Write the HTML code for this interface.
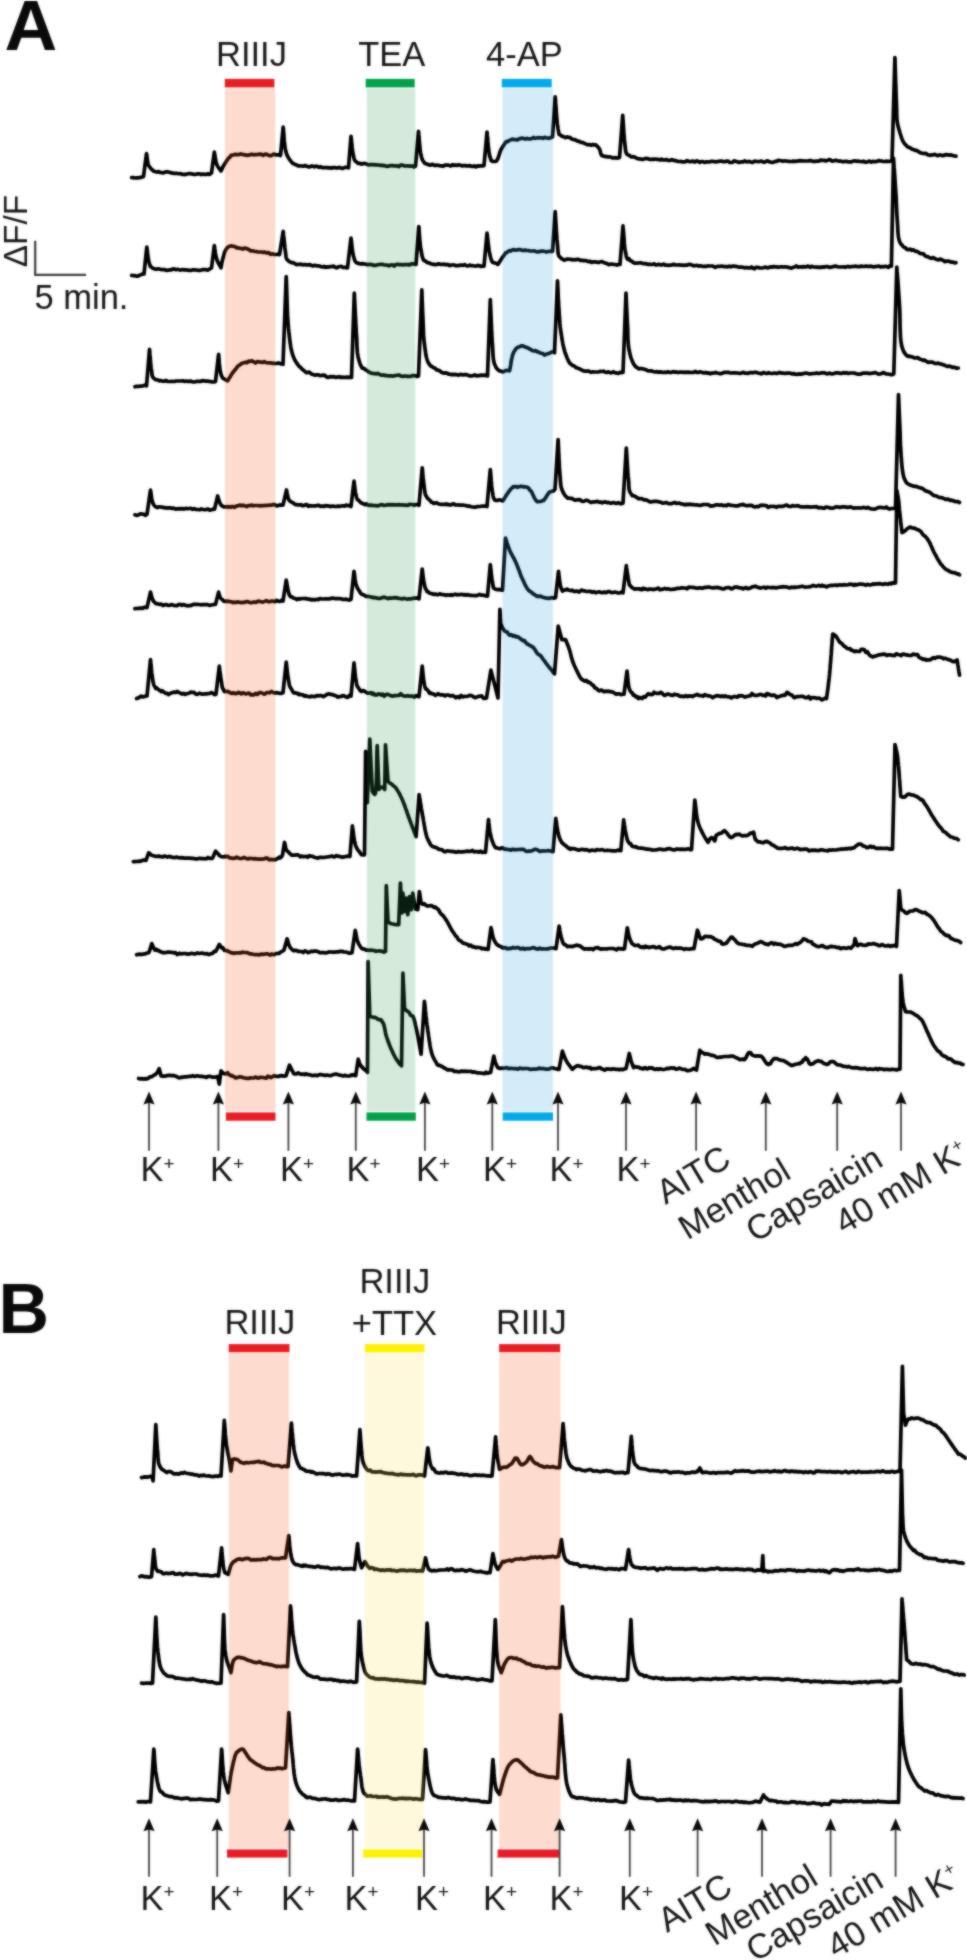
<!DOCTYPE html>
<html><head><meta charset="utf-8"><title>Figure</title>
<style>
html,body{margin:0;padding:0;background:#fff;}
body{width:967px;height:1960px;overflow:hidden;font-family:"Liberation Sans", sans-serif;}
svg{display:block;}
</style></head><body>
<svg width="967" height="1960" viewBox="0 0 967 1960" font-family='"Liberation Sans", sans-serif'><defs><filter id="soft" filterUnits="userSpaceOnUse" x="0" y="0" width="967" height="1960" color-interpolation-filters="sRGB"><feGaussianBlur in="SourceGraphic" stdDeviation="1" result="b"/><feComposite in="SourceGraphic" in2="b" operator="arithmetic" k1="0" k2="0.40" k3="0.60" k4="0"/></filter></defs><rect width="967" height="1960" fill="#fff"/><g filter="url(#soft)"><rect x="224.8" y="78.9" width="49.6" height="8.5" fill="#ea1c24"/>
<rect x="225.9" y="1112.4" width="49.6" height="8.3" fill="#ea1c24"/>
<rect x="365.7" y="78.9" width="49.0" height="8.5" fill="#00a14b"/>
<rect x="366.5" y="1112.4" width="49.3" height="8.3" fill="#00a14b"/>
<rect x="501.8" y="78.9" width="49.9" height="8.5" fill="#00aaec"/>
<rect x="502.7" y="1112.4" width="50.3" height="8.3" fill="#00aaec"/>
<rect x="228.7" y="1344.1" width="60.8" height="8" fill="#ea1c24"/>
<rect x="227.0" y="1849.4" width="60.4" height="8.2" fill="#ea1c24"/>
<rect x="365.0" y="1344.1" width="59.6" height="8" fill="#fff100"/>
<rect x="363.2" y="1849.4" width="59.0" height="8.2" fill="#fff100"/>
<rect x="499.1" y="1344.1" width="61.1" height="8" fill="#ea1c24"/>
<rect x="497.6" y="1849.4" width="61.4" height="8.2" fill="#ea1c24"/>
<path d="M131.6 177.7 L133.3 177.6 L135.2 178.0 L137.0 177.9 L138.8 177.8 L140.3 177.4 L141.5 177.4 L143.5 176.5 L146.5 153.5 L146.8 155.1 L147.0 156.8 L147.2 158.5 L147.4 160.2 L147.7 161.8 L148.0 163.4 L148.4 164.8 L149.0 166.0 L149.9 167.3 L150.9 168.7 L152.0 169.7 L153.3 170.9 L154.8 171.4 L156.0 171.8 L157.3 172.1 L158.7 171.5 L160.2 172.4 L161.8 172.7 L163.4 172.9 L165.0 172.1 L166.7 171.7 L168.4 172.0 L170.0 172.4 L171.4 172.9 L172.9 173.1 L174.4 173.5 L176.0 173.2 L177.5 173.5 L179.1 173.8 L180.6 173.5 L182.2 174.4 L183.8 174.3 L185.3 174.6 L186.9 174.0 L188.5 173.7 L190.0 173.7 L191.6 173.9 L193.2 174.3 L194.9 174.3 L196.5 174.1 L198.1 173.8 L199.7 173.8 L201.3 174.6 L202.9 174.1 L204.6 174.3 L206.2 174.5 L207.8 173.8 L209.4 174.4 L211.5 173.0 L214.3 152.2 L214.6 153.8 L214.9 155.5 L215.2 157.2 L215.5 158.9 L215.8 160.6 L216.1 162.2 L216.5 163.7 L217.0 165.0 L217.9 166.7 L218.9 168.2 L220.0 169.6 L221.0 171.0 L221.8 169.4 L222.5 167.8 L223.3 166.1 L224.3 164.5 L225.1 163.3 L225.9 162.0 L226.7 160.6 L227.7 159.3 L228.7 157.9 L229.7 157.5 L230.9 155.6 L232.3 155.1 L233.8 154.8 L235.4 154.4 L237.1 154.7 L238.9 154.6 L240.8 153.9 L242.2 154.5 L243.6 154.7 L245.1 154.9 L246.7 155.3 L248.3 155.1 L250.0 154.9 L251.6 154.2 L253.3 154.8 L255.0 154.6 L256.7 154.6 L258.4 154.3 L260.0 154.2 L261.6 154.4 L263.1 155.3 L264.7 154.4 L266.3 154.2 L267.8 154.8 L269.4 155.6 L271.0 155.7 L272.6 154.7 L274.2 154.0 L275.8 154.9 L277.3 154.8 L278.9 154.7 L280.5 155.5 L283.2 127.0 L283.3 128.6 L283.5 130.2 L283.6 131.8 L283.7 133.5 L283.9 135.2 L284.0 136.9 L284.1 138.5 L284.2 140.2 L284.4 141.8 L284.5 143.3 L284.7 144.8 L284.9 146.3 L285.1 147.6 L285.3 148.9 L285.5 150.0 L286.0 152.1 L286.5 153.8 L287.2 155.4 L288.0 157.0 L288.9 158.4 L289.9 159.9 L291.0 161.3 L292.3 163.0 L293.8 163.8 L295.1 164.4 L296.5 164.9 L298.1 165.8 L299.7 165.9 L301.5 166.0 L303.3 166.2 L305.1 165.5 L307.0 166.4 L308.4 166.8 L309.8 166.9 L311.2 166.0 L312.7 166.1 L314.3 166.9 L315.9 166.1 L317.4 166.5 L319.1 167.3 L320.7 166.7 L322.3 167.7 L323.9 167.7 L325.5 167.5 L327.0 167.6 L328.5 167.8 L330.0 167.7 L331.6 168.2 L333.2 167.6 L334.8 167.5 L336.3 168.0 L337.8 167.9 L339.4 167.4 L340.9 168.0 L342.4 168.5 L343.9 167.9 L345.4 167.3 L347.0 167.5 L348.5 167.8 L351.0 136.3 L351.2 137.8 L351.4 139.5 L351.5 141.1 L351.7 142.8 L351.9 144.4 L352.1 146.1 L352.2 147.7 L352.4 149.3 L352.6 150.9 L352.8 152.3 L353.0 153.7 L353.3 154.9 L353.5 156.0 L354.0 158.2 L354.6 160.1 L355.5 161.3 L356.8 162.2 L358.3 163.5 L360.0 163.3 L361.5 164.2 L363.0 163.5 L364.6 163.4 L366.6 164.0 L367.7 164.6 L369.0 164.8 L370.3 164.7 L371.8 164.7 L373.3 164.7 L374.9 164.9 L376.5 164.8 L378.2 165.0 L379.9 165.3 L381.6 165.2 L383.3 165.6 L385.0 165.7 L386.7 166.4 L388.4 166.1 L390.0 165.7 L391.5 165.5 L392.9 165.6 L394.4 166.0 L395.9 165.8 L397.4 165.9 L398.9 166.7 L400.4 165.2 L401.9 165.0 L403.4 165.6 L404.9 165.9 L406.5 166.0 L408.0 165.8 L409.5 166.2 L411.0 166.2 L412.5 165.9 L414.0 167.0 L415.5 166.1 L418.5 131.4 L418.7 133.0 L418.8 134.7 L419.0 136.4 L419.1 138.1 L419.2 139.8 L419.4 141.6 L419.5 143.3 L419.7 145.0 L419.8 146.6 L420.0 148.2 L420.1 149.8 L420.3 151.2 L420.5 152.6 L420.8 153.9 L421.0 155.0 L421.5 157.0 L422.0 158.7 L422.6 160.2 L423.5 161.5 L424.7 163.3 L426.0 163.7 L427.6 164.4 L429.4 164.9 L430.6 165.2 L432.0 164.3 L433.4 164.8 L435.0 165.6 L436.6 165.1 L438.2 165.3 L439.9 165.8 L441.6 165.9 L443.3 166.3 L445.0 165.1 L446.5 165.1 L447.9 165.1 L449.5 165.6 L451.0 166.0 L452.5 164.6 L454.1 165.5 L455.7 164.9 L457.2 165.5 L458.8 164.8 L460.4 165.2 L461.9 165.9 L463.5 165.6 L465.0 165.6 L466.6 165.9 L468.2 165.8 L469.8 165.6 L471.4 166.3 L473.0 166.4 L474.5 165.9 L476.1 166.9 L477.7 165.8 L479.3 166.1 L480.8 165.8 L482.4 165.8 L484.0 165.7 L487.0 132.0 L487.2 133.6 L487.3 135.2 L487.5 136.8 L487.6 138.5 L487.8 140.2 L487.9 141.9 L488.1 143.6 L488.2 145.3 L488.4 146.9 L488.6 148.5 L488.7 150.0 L488.9 151.4 L489.1 152.7 L489.3 153.9 L489.5 155.0 L489.9 156.7 L490.4 158.2 L490.8 159.4 L491.3 160.8 L493.0 161.4 L494.7 161.5 L496.3 161.2 L497.1 160.0 L497.8 158.8 L498.3 157.3 L498.9 155.7 L499.4 153.9 L500.0 152.2 L500.5 150.6 L501.2 149.2 L502.1 147.7 L503.0 146.2 L503.9 144.9 L505.0 143.2 L506.2 141.7 L507.5 141.6 L509.0 140.6 L510.6 139.9 L512.3 139.1 L514.1 139.7 L516.0 139.6 L517.4 139.9 L518.8 138.9 L520.3 138.7 L521.9 138.1 L523.5 138.6 L525.1 139.1 L526.8 138.3 L528.5 138.9 L530.2 139.0 L531.8 138.5 L533.4 137.4 L535.0 138.3 L536.6 138.0 L538.2 137.6 L539.8 137.8 L541.4 137.8 L543.0 138.3 L544.6 137.4 L546.2 137.8 L547.7 138.1 L549.3 138.2 L550.9 137.5 L552.5 137.0 L555.2 96.9 L555.3 98.5 L555.5 100.1 L555.6 101.8 L555.7 103.4 L555.8 105.1 L555.9 106.8 L556.1 108.5 L556.2 110.2 L556.3 111.9 L556.4 113.6 L556.6 115.2 L556.7 116.8 L556.8 118.3 L556.9 119.8 L557.1 121.2 L557.2 122.5 L557.4 123.8 L557.5 125.0 L557.8 126.8 L558.0 128.5 L558.3 130.0 L558.6 131.4 L558.8 132.8 L559.1 134.3 L560.5 135.0 L562.4 136.4 L563.1 136.5 L564.0 136.8 L565.0 137.6 L566.1 137.5 L567.3 136.8 L568.5 137.5 L569.9 137.4 L571.3 138.7 L572.8 139.4 L574.4 139.6 L576.0 140.2 L577.6 141.1 L579.3 141.4 L581.0 142.4 L582.7 142.5 L584.4 143.3 L586.1 144.1 L587.8 144.8 L589.5 144.5 L591.2 145.2 L592.9 144.6 L594.5 144.9 L596.0 144.9 L597.5 146.5 L598.5 147.6 L599.5 149.0 L600.1 150.6 L600.5 152.5 L601.1 154.4 L602.0 155.7 L603.2 155.9 L604.7 156.4 L606.3 156.6 L608.0 156.9 L609.4 156.8 L611.0 157.2 L612.7 158.0 L614.4 157.7 L616.1 157.8 L617.8 158.1 L619.5 157.5 L622.7 115.4 L622.8 117.0 L622.9 118.6 L623.0 120.3 L623.2 121.9 L623.3 123.6 L623.4 125.3 L623.5 127.0 L623.6 128.7 L623.7 130.4 L623.8 132.1 L623.9 133.7 L624.0 135.3 L624.2 136.9 L624.3 138.4 L624.4 139.9 L624.5 141.3 L624.7 142.6 L624.8 143.8 L625.0 145.0 L625.2 146.9 L625.4 148.7 L625.6 150.3 L625.8 151.7 L626.3 153.1 L627.0 154.4 L628.2 154.9 L629.7 155.7 L631.4 157.0 L633.3 156.7 L635.2 157.3 L636.6 158.3 L638.1 158.8 L639.7 158.8 L641.3 159.3 L643.0 159.3 L644.7 158.7 L646.4 158.4 L648.2 158.7 L650.0 159.5 L651.4 159.4 L652.8 159.2 L654.2 159.3 L655.6 159.0 L657.1 159.5 L658.5 159.4 L660.0 160.0 L661.5 159.2 L663.1 160.0 L664.7 160.0 L666.3 159.5 L668.0 160.4 L669.8 160.5 L671.6 159.7 L672.8 159.9 L674.1 160.6 L675.4 160.6 L676.8 161.1 L678.1 161.4 L679.5 161.5 L681.0 161.4 L682.5 161.9 L683.9 161.8 L685.5 161.7 L687.0 160.6 L688.5 161.3 L690.1 161.8 L691.7 161.4 L693.3 161.2 L694.9 162.1 L696.5 160.9 L698.1 161.3 L699.7 162.4 L701.3 161.5 L703.0 161.7 L704.6 162.4 L706.2 161.8 L707.8 161.9 L709.4 162.0 L710.9 161.4 L712.5 161.4 L714.0 161.5 L715.6 161.9 L717.1 161.7 L718.5 161.5 L720.0 161.1 L721.6 161.1 L723.2 161.7 L724.8 161.7 L726.4 161.2 L727.9 161.0 L729.5 162.4 L731.0 162.5 L732.6 162.3 L734.1 160.8 L735.7 161.5 L737.2 161.7 L738.7 162.4 L740.2 162.1 L741.8 161.8 L743.3 161.9 L744.8 160.9 L746.3 161.7 L747.8 161.8 L749.3 161.4 L750.8 162.0 L752.4 162.5 L753.9 161.4 L755.4 161.2 L756.9 161.5 L758.5 161.6 L760.0 161.4 L761.5 161.0 L763.1 162.1 L764.6 162.2 L766.1 161.3 L767.6 160.8 L769.1 161.8 L770.7 162.0 L772.2 162.5 L773.7 162.2 L775.2 161.4 L776.7 161.4 L778.2 160.4 L779.7 160.5 L781.2 160.8 L782.8 161.2 L784.3 160.9 L785.8 161.0 L787.4 161.2 L788.9 161.3 L790.5 161.5 L792.0 161.4 L793.6 161.1 L795.2 161.4 L796.8 161.2 L798.4 160.8 L800.0 160.6 L801.4 160.8 L802.9 160.8 L804.4 161.0 L805.8 161.0 L807.3 161.0 L808.8 160.9 L810.3 160.4 L811.8 160.9 L813.4 161.4 L814.9 161.3 L816.4 161.1 L818.0 161.2 L819.5 160.7 L821.0 160.0 L822.6 160.5 L824.1 160.3 L825.7 161.0 L827.3 160.5 L828.8 159.6 L830.4 159.9 L831.9 161.1 L833.4 160.9 L835.0 160.4 L836.5 160.4 L838.1 160.9 L839.6 161.2 L841.1 161.2 L842.6 161.7 L844.1 161.7 L845.6 161.3 L847.1 161.4 L848.5 161.9 L850.0 161.9 L851.6 161.9 L853.1 161.0 L854.7 160.9 L856.2 161.3 L857.7 161.0 L859.2 161.4 L860.8 161.5 L862.3 161.6 L863.8 161.2 L865.3 162.2 L866.8 162.1 L868.3 161.4 L869.7 161.2 L871.2 162.2 L872.7 161.4 L874.2 161.6 L875.7 161.7 L877.2 161.3 L878.6 160.6 L880.1 160.9 L881.6 161.0 L883.1 161.5 L884.5 161.5 L886.0 161.2 L887.5 161.4 L889.0 161.4 L890.5 161.2 L892.0 160.9 L894.9 57.6 L895.0 59.1 L895.0 60.7 L895.1 62.3 L895.1 63.9 L895.2 65.5 L895.2 67.1 L895.3 68.8 L895.3 70.4 L895.4 72.1 L895.4 73.7 L895.5 75.4 L895.5 77.0 L895.6 78.7 L895.6 80.3 L895.7 82.0 L895.7 83.6 L895.8 85.2 L895.9 86.8 L895.9 88.4 L896.0 89.9 L896.0 91.5 L896.1 93.0 L896.1 94.4 L896.2 95.9 L896.2 97.3 L896.3 98.7 L896.3 100.0 L896.4 101.3 L896.4 102.6 L896.5 103.8 L896.5 105.0 L896.6 106.9 L896.6 108.7 L896.7 110.5 L896.7 112.1 L896.7 113.7 L896.8 115.2 L896.8 116.7 L896.9 118.1 L897.0 119.5 L897.1 120.9 L897.3 122.2 L897.6 123.9 L897.9 125.5 L898.3 127.0 L898.7 128.4 L899.1 129.9 L899.6 131.5 L900.0 133.0 L900.5 134.5 L901.0 136.0 L901.5 137.6 L902.1 139.2 L902.7 140.6 L903.4 142.0 L904.3 143.3 L905.4 144.7 L906.5 145.7 L907.8 147.1 L909.2 147.4 L910.7 148.2 L912.2 149.3 L913.7 149.6 L915.1 150.4 L916.5 150.4 L917.9 151.2 L919.4 152.3 L921.0 153.0 L922.6 153.3 L924.2 153.6 L926.0 153.3 L927.8 154.8 L929.1 155.0 L930.5 155.4 L931.9 154.8 L933.4 154.9 L934.9 154.3 L936.5 155.2 L938.0 155.7 L939.6 154.8 L941.3 155.2 L942.9 155.7 L944.6 155.0 L946.2 154.6 L947.9 154.8 L949.5 155.1 L951.2 154.9 L952.8 155.5 L954.4 156.0 L956.0 156.2" fill="none" stroke="#000" stroke-width="3.7" stroke-linejoin="round" stroke-linecap="round"/>
<path d="M131.6 275.4 L133.2 275.6 L134.9 275.7 L136.6 276.1 L138.3 276.1 L139.8 275.0 L141.2 274.7 L142.2 274.2 L144.0 274.0 L146.8 247.0 L147.0 248.5 L147.2 250.1 L147.4 251.7 L147.6 253.4 L147.8 255.0 L148.0 256.5 L148.2 258.0 L148.4 259.5 L148.7 260.8 L149.0 262.0 L149.5 263.8 L150.0 265.3 L150.6 266.7 L151.5 267.1 L152.7 268.1 L154.1 268.8 L155.9 269.3 L158.1 268.9 L158.9 268.8 L159.9 269.3 L160.9 269.5 L161.9 269.6 L163.1 269.7 L164.3 269.6 L165.6 270.1 L166.9 270.3 L168.3 270.2 L169.7 269.9 L171.2 270.0 L172.7 268.9 L174.3 269.1 L175.9 269.7 L177.5 269.3 L179.2 269.8 L180.8 270.1 L182.5 269.6 L184.3 269.8 L186.0 269.8 L187.7 270.2 L189.4 270.4 L191.2 270.3 L192.9 269.9 L194.6 269.9 L196.4 270.0 L198.1 270.4 L199.7 270.4 L201.4 270.0 L203.0 269.5 L204.6 269.7 L206.2 269.6 L207.7 270.2 L211.5 268.0 L214.3 245.7 L214.6 247.3 L214.8 249.0 L215.1 250.6 L215.3 252.3 L215.6 254.0 L215.9 255.6 L216.2 257.1 L216.6 258.6 L217.0 260.0 L217.7 261.7 L218.5 263.3 L219.3 264.8 L220.2 266.3 L221.0 267.8 L221.3 266.2 L221.6 264.5 L221.9 262.8 L222.2 261.2 L222.6 259.6 L223.0 258.0 L223.5 256.2 L224.0 254.4 L224.5 252.6 L225.2 251.0 L226.0 249.6 L227.4 247.4 L229.0 246.6 L230.9 245.9 L232.3 246.0 L233.7 246.5 L235.2 246.6 L236.9 248.0 L238.8 247.9 L240.8 248.6 L241.9 248.6 L243.2 249.1 L244.5 248.0 L246.0 248.3 L247.6 249.0 L249.2 249.7 L250.8 250.9 L252.6 250.8 L254.3 251.3 L256.1 251.5 L257.9 251.9 L259.6 252.0 L261.4 252.0 L263.1 252.4 L264.7 252.0 L266.3 253.0 L267.9 252.6 L269.3 253.1 L270.6 254.3 L271.9 253.9 L272.9 253.9 L273.9 254.5 L276.1 254.5 L277.8 254.2 L279.5 254.6 L283.2 231.4 L283.4 233.0 L283.5 234.7 L283.7 236.4 L283.9 238.1 L284.1 239.8 L284.2 241.5 L284.4 243.2 L284.6 244.8 L284.8 246.4 L284.9 247.9 L285.1 249.4 L285.3 250.7 L285.5 252.0 L285.7 253.8 L285.9 255.5 L286.1 257.1 L286.4 258.4 L287.1 259.6 L288.3 260.8 L289.9 261.9 L291.8 262.7 L293.8 262.8 L295.1 263.9 L296.5 264.6 L297.9 264.3 L299.4 264.4 L301.0 264.2 L302.7 264.9 L304.4 264.5 L306.2 264.9 L308.1 264.8 L310.0 264.7 L311.2 265.3 L312.5 265.9 L313.8 265.7 L315.1 265.3 L316.5 265.9 L317.9 265.8 L319.4 266.0 L320.8 266.7 L322.4 266.9 L323.9 266.4 L325.4 267.3 L327.0 266.9 L328.6 267.1 L330.2 266.6 L331.8 266.7 L333.4 266.1 L335.0 267.3 L336.6 267.8 L338.2 267.0 L339.8 266.5 L341.3 266.3 L342.9 267.4 L344.5 267.4 L346.0 267.6 L347.5 267.8 L351.0 238.0 L351.2 239.5 L351.4 241.1 L351.6 242.7 L351.7 244.3 L351.9 245.9 L352.1 247.6 L352.3 249.1 L352.5 250.7 L352.7 252.1 L352.9 253.5 L353.2 254.8 L353.5 256.0 L354.0 257.7 L354.4 259.3 L354.9 260.7 L355.6 261.9 L356.6 262.7 L357.8 263.4 L359.1 263.4 L360.7 263.9 L362.4 263.6 L364.4 264.0 L366.6 264.4 L367.6 264.7 L368.7 264.6 L369.8 264.3 L371.0 264.6 L372.2 264.5 L373.5 265.3 L374.9 265.4 L376.3 265.1 L377.8 264.8 L379.3 264.5 L380.8 264.3 L382.4 264.4 L384.0 264.8 L385.6 265.0 L387.3 265.2 L388.9 265.9 L390.6 265.0 L392.4 264.9 L394.1 266.0 L395.8 264.5 L397.6 264.4 L399.3 264.6 L401.0 264.7 L402.8 264.8 L404.5 264.6 L406.2 264.7 L407.9 264.6 L409.6 264.9 L411.2 263.9 L412.8 263.8 L414.4 264.2 L416.0 264.5 L418.8 226.5 L418.9 228.1 L419.1 229.7 L419.2 231.3 L419.3 233.0 L419.4 234.7 L419.5 236.3 L419.6 238.0 L419.8 239.6 L419.9 241.2 L420.0 242.8 L420.2 244.4 L420.4 245.9 L420.5 247.3 L420.8 248.7 L421.0 250.0 L421.4 251.9 L421.7 253.8 L422.0 255.6 L422.5 257.2 L423.0 258.8 L423.6 260.1 L424.5 260.6 L425.8 261.4 L427.3 262.7 L429.1 262.9 L430.9 263.7 L432.7 264.3 L434.1 264.4 L435.4 264.6 L436.8 264.5 L438.2 263.8 L439.8 264.1 L441.4 264.5 L443.1 264.2 L445.0 264.4 L446.1 264.8 L447.3 264.4 L448.5 264.8 L449.8 265.6 L451.1 265.0 L452.5 265.0 L453.9 264.9 L455.4 265.6 L456.9 265.5 L458.4 265.7 L460.0 265.2 L461.5 265.2 L463.1 265.3 L464.7 264.6 L466.4 265.7 L468.0 266.0 L469.6 265.1 L471.3 265.7 L472.9 265.7 L474.6 266.0 L476.2 266.1 L477.8 265.4 L479.4 265.7 L480.9 266.5 L482.5 266.1 L484.0 266.2 L487.0 233.1 L487.2 234.7 L487.4 236.3 L487.6 238.0 L487.8 239.7 L488.0 241.4 L488.2 243.1 L488.4 244.8 L488.6 246.4 L488.8 248.0 L489.0 249.6 L489.2 251.1 L489.5 252.5 L489.7 253.8 L490.0 255.0 L490.5 257.0 L491.0 258.8 L491.5 260.4 L492.2 261.8 L493.0 262.5 L494.5 262.9 L496.2 263.2 L497.9 264.5 L498.8 263.0 L499.8 261.5 L500.7 260.0 L501.7 258.5 L502.6 257.1 L503.6 255.8 L504.5 254.6 L505.6 252.9 L506.7 252.6 L507.9 251.5 L509.5 250.6 L510.6 251.1 L511.8 250.2 L513.2 249.6 L514.7 249.9 L516.3 250.1 L517.9 249.7 L519.6 249.5 L521.4 250.1 L523.1 250.5 L524.9 250.1 L526.6 250.4 L528.4 250.5 L530.0 251.0 L531.5 251.0 L532.9 251.0 L534.4 250.9 L535.9 251.5 L537.4 251.9 L538.9 251.4 L540.4 251.6 L541.9 251.1 L543.4 251.2 L545.0 251.5 L546.5 252.0 L548.0 251.5 L549.5 251.4 L551.0 251.4 L552.5 251.3 L555.2 211.6 L555.3 213.1 L555.4 214.7 L555.5 216.3 L555.6 217.9 L555.7 219.5 L555.8 221.2 L555.9 222.8 L556.0 224.5 L556.1 226.1 L556.2 227.8 L556.3 229.4 L556.4 231.0 L556.5 232.6 L556.6 234.2 L556.7 235.7 L556.8 237.2 L556.9 238.6 L557.0 240.0 L557.2 241.3 L557.3 242.6 L557.4 243.8 L557.5 245.0 L557.7 247.0 L557.8 248.9 L557.9 250.6 L558.0 252.3 L558.2 253.8 L558.6 255.1 L559.1 256.3 L560.1 257.1 L561.3 258.5 L562.7 259.2 L564.1 260.1 L565.5 259.8 L566.9 259.0 L568.6 259.2 L570.7 259.4 L571.5 259.3 L572.5 259.9 L573.5 259.7 L574.5 259.5 L575.7 259.9 L576.9 259.3 L578.1 259.4 L579.5 259.8 L580.8 260.5 L582.3 260.4 L583.7 260.7 L585.3 260.5 L586.8 260.9 L588.4 261.7 L590.0 261.2 L591.7 262.4 L593.3 261.8 L595.0 261.9 L596.7 262.1 L598.4 262.6 L600.1 262.0 L601.9 261.5 L603.6 262.5 L605.3 263.1 L607.0 263.5 L608.7 264.6 L610.4 264.2 L612.1 264.1 L613.7 264.5 L615.3 264.5 L616.9 265.1 L618.5 264.3 L620.0 264.5 L623.0 225.8 L623.1 227.4 L623.3 229.0 L623.4 230.6 L623.5 232.3 L623.7 234.0 L623.8 235.7 L623.9 237.4 L624.0 239.1 L624.2 240.7 L624.3 242.4 L624.4 243.9 L624.6 245.5 L624.7 246.9 L624.9 248.3 L625.1 249.7 L625.3 250.9 L625.5 252.0 L625.9 253.9 L626.2 255.6 L626.5 257.1 L627.1 258.4 L628.0 259.4 L629.0 258.8 L630.1 260.6 L631.4 261.1 L632.9 262.1 L634.6 263.2 L636.4 263.1 L638.5 263.0 L639.4 262.9 L640.4 262.8 L641.4 262.8 L642.5 263.5 L643.6 263.6 L644.8 263.7 L646.0 263.7 L647.3 264.2 L648.6 264.4 L649.9 264.2 L651.3 264.5 L652.7 264.3 L654.2 263.9 L655.7 264.8 L657.2 264.8 L658.8 264.3 L660.4 264.9 L662.0 264.9 L663.6 264.1 L665.2 265.1 L666.9 265.1 L668.6 265.3 L670.3 265.2 L672.0 264.9 L673.7 264.3 L675.4 265.0 L677.1 265.0 L678.8 264.9 L680.5 265.1 L682.2 265.1 L683.9 265.4 L685.6 265.1 L687.3 265.1 L688.9 264.3 L690.6 264.6 L692.2 265.2 L693.8 265.9 L695.4 265.5 L697.0 265.4 L698.5 266.1 L700.0 265.7 L701.5 266.0 L703.0 266.5 L704.6 266.2 L706.1 266.5 L707.6 265.9 L709.2 266.0 L710.7 266.0 L712.2 266.0 L713.8 266.6 L715.3 267.4 L716.9 266.5 L718.4 266.2 L720.0 266.5 L721.5 266.0 L723.1 266.4 L724.6 266.7 L726.2 266.6 L727.7 266.8 L729.3 266.1 L730.8 266.8 L732.3 266.1 L733.9 266.2 L735.4 266.3 L736.9 266.5 L738.4 267.1 L739.9 267.1 L741.4 267.0 L742.9 267.3 L744.4 267.9 L745.9 267.6 L747.3 267.6 L748.8 268.0 L750.2 267.8 L751.7 267.0 L753.1 268.3 L754.5 268.8 L755.9 267.3 L757.3 267.4 L758.6 267.6 L760.0 268.0 L761.7 268.0 L763.3 267.7 L764.9 267.2 L766.4 267.4 L768.0 267.9 L769.4 267.2 L770.9 266.9 L772.4 267.2 L773.8 266.5 L775.2 266.9 L776.6 266.9 L778.1 267.3 L779.5 267.0 L780.9 266.8 L782.3 266.9 L783.8 267.0 L785.3 266.8 L786.8 267.0 L788.3 267.4 L789.8 267.8 L791.4 268.2 L793.0 267.3 L794.7 267.0 L796.4 265.9 L798.2 267.3 L800.0 266.8 L801.2 266.9 L802.5 267.1 L803.7 266.5 L805.0 266.9 L806.3 266.9 L807.6 266.1 L809.0 266.6 L810.3 267.3 L811.7 266.3 L813.1 266.9 L814.5 267.0 L815.9 267.1 L817.3 267.1 L818.8 267.5 L820.2 267.1 L821.7 267.3 L823.2 266.9 L824.7 267.1 L826.2 266.6 L827.7 266.6 L829.2 267.4 L830.8 267.2 L832.3 266.9 L833.9 266.3 L835.4 266.1 L837.0 266.5 L838.6 267.0 L840.2 267.0 L841.8 267.0 L843.4 266.8 L845.0 267.3 L846.6 266.7 L848.2 266.4 L849.8 266.9 L851.4 266.7 L853.1 266.5 L854.7 266.2 L856.3 266.3 L857.9 266.6 L859.6 266.7 L861.2 266.1 L862.8 266.4 L864.4 266.5 L866.1 266.0 L867.7 266.5 L869.3 266.3 L870.9 266.2 L872.5 266.6 L874.1 267.0 L875.7 266.4 L877.3 266.5 L878.9 266.0 L880.5 267.1 L882.1 266.5 L883.7 266.9 L885.2 266.3 L886.8 266.6 L888.3 267.4 L889.9 265.7 L891.4 266.2 L893.5 158.0 L893.6 159.5 L893.7 161.1 L893.8 162.7 L893.9 164.2 L894.0 165.8 L894.1 167.4 L894.3 169.0 L894.4 170.6 L894.5 172.2 L894.6 173.8 L894.7 175.4 L894.8 176.9 L894.9 178.5 L895.0 180.1 L895.1 181.6 L895.2 183.2 L895.3 184.7 L895.4 186.2 L895.5 187.7 L895.6 189.2 L895.7 190.7 L895.8 192.2 L895.9 193.6 L896.0 195.0 L896.1 196.7 L896.2 198.4 L896.3 200.1 L896.3 201.7 L896.4 203.4 L896.5 205.0 L896.5 206.6 L896.6 208.1 L896.7 209.7 L896.7 211.3 L896.8 212.8 L896.9 214.3 L897.0 215.9 L897.1 217.4 L897.2 218.9 L897.3 220.4 L897.4 222.0 L897.5 223.6 L897.6 225.3 L897.7 227.0 L897.8 228.7 L897.8 230.3 L897.9 232.0 L898.1 233.5 L898.2 235.1 L898.4 236.6 L898.6 237.9 L898.9 239.2 L899.2 240.4 L899.6 241.5 L900.3 243.0 L901.1 244.3 L902.0 245.0 L903.0 246.4 L904.3 247.4 L905.5 247.8 L906.9 249.5 L908.5 249.7 L910.1 249.2 L911.9 250.3 L913.6 249.9 L915.3 251.2 L916.9 251.4 L918.4 252.1 L919.8 253.3 L921.1 253.7 L922.3 253.7 L923.5 253.9 L924.8 255.5 L926.2 256.5 L927.8 256.6 L928.9 257.4 L930.1 257.9 L931.4 258.3 L932.7 257.5 L934.1 258.0 L935.5 259.0 L937.0 259.5 L938.6 260.0 L940.1 259.0 L941.7 259.7 L943.3 260.4 L944.9 261.7 L946.6 261.1 L948.2 261.1 L949.8 261.5 L951.4 262.2 L953.0 262.1 L954.5 262.9 L956.0 262.7" fill="none" stroke="#000" stroke-width="3.7" stroke-linejoin="round" stroke-linecap="round"/>
<path d="M134.9 386.8 L136.6 386.3 L138.2 386.5 L139.9 386.1 L141.5 386.2 L143.2 385.8 L144.8 385.2 L146.5 385.8 L149.5 349.4 L149.7 351.0 L149.8 352.7 L149.9 354.4 L150.1 356.1 L150.2 357.8 L150.4 359.5 L150.5 361.2 L150.7 362.8 L150.8 364.4 L151.0 365.9 L151.1 367.4 L151.3 368.8 L151.5 370.0 L151.7 371.8 L151.9 373.5 L152.1 375.0 L152.5 376.4 L153.1 377.5 L154.3 378.7 L155.8 379.7 L158.1 380.0 L158.8 380.4 L159.6 380.9 L160.5 380.5 L161.5 380.7 L162.5 381.1 L163.6 381.3 L164.8 381.1 L166.0 380.4 L167.3 381.3 L168.7 381.5 L170.1 381.5 L171.6 381.4 L173.1 381.5 L174.6 381.4 L176.2 381.0 L177.8 381.0 L179.5 381.0 L181.1 381.0 L182.9 380.8 L184.6 381.4 L186.3 381.0 L188.1 381.5 L189.9 381.1 L191.6 381.4 L193.4 382.0 L195.2 381.8 L197.0 381.3 L198.8 381.4 L200.6 381.5 L202.3 380.7 L204.1 380.8 L205.8 381.2 L207.5 381.1 L209.1 381.3 L210.8 381.7 L212.4 381.9 L214.0 382.0 L215.5 381.5 L218.6 354.3 L218.8 355.9 L218.9 357.7 L219.1 359.4 L219.2 361.2 L219.3 362.9 L219.5 364.7 L219.6 366.3 L219.8 367.9 L220.0 369.4 L220.2 370.8 L220.5 372.0 L221.0 374.2 L221.7 376.0 L222.6 378.0 L224.1 378.9 L225.8 379.8 L227.6 380.8 L228.5 379.4 L229.4 377.9 L230.3 376.5 L231.2 375.0 L232.1 373.6 L233.1 372.2 L234.2 370.8 L235.3 369.5 L236.4 368.3 L237.5 366.5 L238.8 365.6 L240.0 364.8 L241.3 363.6 L242.7 363.0 L244.1 362.7 L245.6 362.1 L247.1 362.7 L248.7 361.1 L250.3 361.3 L252.0 360.8 L253.7 361.8 L255.5 363.0 L257.4 361.5 L258.7 361.8 L260.0 362.2 L261.4 362.1 L262.9 362.5 L264.3 361.6 L265.8 362.5 L267.4 362.8 L268.9 362.9 L270.5 362.8 L272.0 363.3 L273.6 363.2 L275.2 363.5 L276.8 363.5 L278.4 362.9 L279.9 363.5 L281.5 364.0 L283.0 364.3 L286.2 276.6 L286.3 278.1 L286.3 279.7 L286.4 281.2 L286.5 282.8 L286.5 284.3 L286.6 285.9 L286.6 287.5 L286.7 289.1 L286.7 290.7 L286.8 292.3 L286.8 293.9 L286.9 295.5 L286.9 297.1 L287.0 298.7 L287.0 300.4 L287.1 302.0 L287.1 303.5 L287.2 305.1 L287.2 306.7 L287.3 308.3 L287.3 309.9 L287.4 311.4 L287.5 312.9 L287.5 314.5 L287.6 316.0 L287.7 317.5 L287.8 318.9 L287.9 320.4 L288.0 321.8 L288.1 323.2 L288.2 324.6 L288.3 326.0 L288.4 327.3 L288.5 328.7 L288.7 329.9 L288.8 331.2 L289.0 333.0 L289.2 334.8 L289.4 336.6 L289.6 338.4 L289.8 340.1 L290.0 341.7 L290.2 343.4 L290.5 345.0 L290.7 346.6 L291.0 348.1 L291.3 349.6 L291.6 351.1 L292.0 352.5 L292.4 353.8 L292.8 355.2 L293.3 356.5 L293.8 357.7 L294.5 359.3 L295.3 360.8 L296.2 362.2 L297.0 363.5 L298.0 364.8 L299.0 366.2 L300.0 366.9 L301.2 368.1 L302.4 369.4 L303.7 370.3 L304.9 371.5 L306.2 372.7 L307.6 372.4 L309.0 372.1 L310.5 373.2 L312.0 374.3 L313.6 374.7 L315.2 375.1 L316.8 374.8 L318.5 374.8 L320.1 375.6 L321.8 375.4 L323.5 375.1 L324.9 375.3 L326.4 376.9 L327.9 377.5 L329.4 376.9 L330.9 376.6 L332.4 376.8 L334.0 376.6 L335.6 377.4 L337.2 377.2 L338.8 376.7 L340.4 377.5 L342.0 377.1 L343.6 377.3 L345.2 377.3 L346.8 377.2 L348.4 377.4 L349.9 377.2 L351.5 377.5 L354.3 293.1 L354.4 294.7 L354.5 296.2 L354.5 297.8 L354.6 299.4 L354.7 301.0 L354.8 302.7 L354.9 304.3 L354.9 305.9 L355.0 307.5 L355.1 309.2 L355.2 310.8 L355.3 312.4 L355.3 314.0 L355.4 315.7 L355.5 317.3 L355.6 318.8 L355.7 320.4 L355.7 322.0 L355.8 323.5 L355.9 325.0 L356.0 326.5 L356.1 328.0 L356.2 329.5 L356.2 330.9 L356.3 332.3 L356.4 333.7 L356.5 335.0 L356.6 336.7 L356.7 338.4 L356.8 340.1 L356.8 341.8 L356.9 343.4 L356.9 345.0 L357.0 346.5 L357.1 348.1 L357.2 349.5 L357.3 351.0 L357.4 352.4 L357.6 353.8 L357.8 355.1 L358.0 356.4 L358.3 357.7 L358.7 359.4 L359.2 361.0 L359.6 362.6 L360.2 364.1 L360.8 365.6 L361.5 366.9 L362.3 368.1 L363.3 368.3 L364.4 368.8 L365.5 369.7 L366.8 370.6 L368.2 371.6 L369.6 372.4 L371.2 373.1 L372.9 373.5 L374.6 373.6 L376.5 373.8 L377.6 373.4 L378.8 374.0 L380.0 374.7 L381.2 375.1 L382.5 375.1 L383.9 375.1 L385.3 375.6 L386.7 375.5 L388.2 375.8 L389.7 375.9 L391.2 375.8 L392.8 376.2 L394.4 375.7 L396.0 375.5 L397.6 375.2 L399.2 375.1 L400.9 376.0 L402.5 376.5 L404.1 376.1 L405.8 376.1 L407.4 376.4 L409.1 376.4 L410.7 376.5 L412.3 375.6 L413.9 375.5 L415.4 375.8 L417.0 376.4 L418.5 375.9 L421.8 289.8 L421.9 291.3 L421.9 292.8 L422.0 294.4 L422.0 295.9 L422.1 297.4 L422.1 299.0 L422.2 300.5 L422.3 302.0 L422.3 303.6 L422.4 305.1 L422.4 306.6 L422.5 308.2 L422.5 309.7 L422.6 311.2 L422.7 312.7 L422.7 314.2 L422.8 315.6 L422.9 317.1 L422.9 318.6 L423.0 320.0 L423.1 321.6 L423.1 323.2 L423.2 324.8 L423.3 326.3 L423.3 327.9 L423.4 329.5 L423.4 331.0 L423.5 332.5 L423.5 334.1 L423.6 335.6 L423.7 337.1 L423.8 338.6 L424.0 340.0 L424.1 341.5 L424.3 343.0 L424.5 344.4 L424.7 346.0 L424.9 347.7 L425.1 349.4 L425.4 351.1 L425.6 352.7 L425.8 354.4 L426.1 356.0 L426.5 357.6 L426.9 359.1 L427.4 360.5 L427.9 361.9 L428.6 363.2 L429.4 364.3 L430.4 365.8 L431.5 366.3 L432.6 367.1 L433.9 367.8 L435.3 368.4 L436.7 370.0 L438.2 370.2 L439.8 370.8 L441.5 372.3 L443.2 372.9 L445.0 373.1 L446.1 372.9 L447.4 373.3 L448.6 374.1 L449.9 374.2 L451.3 374.6 L452.6 374.4 L454.1 374.6 L455.5 374.4 L457.0 374.7 L458.5 375.2 L460.1 374.4 L461.7 374.6 L463.3 374.9 L464.9 374.7 L466.5 374.7 L468.1 375.2 L469.8 376.0 L471.4 375.9 L473.1 375.7 L474.7 374.9 L476.4 375.9 L478.0 375.7 L479.6 375.6 L481.2 375.1 L482.8 375.4 L484.4 375.1 L486.0 375.5 L487.5 375.9 L490.3 299.7 L490.4 301.2 L490.4 302.8 L490.5 304.3 L490.6 305.9 L490.7 307.5 L490.7 309.1 L490.8 310.7 L490.9 312.3 L490.9 313.9 L491.0 315.5 L491.1 317.1 L491.1 318.7 L491.2 320.3 L491.3 321.9 L491.3 323.5 L491.4 325.1 L491.5 326.7 L491.5 328.3 L491.6 329.8 L491.7 331.3 L491.8 332.8 L491.8 334.3 L491.9 335.7 L492.0 337.2 L492.1 338.6 L492.1 339.9 L492.2 341.2 L492.3 342.5 L492.4 343.8 L492.5 345.0 L492.6 346.9 L492.7 348.8 L492.8 350.7 L492.9 352.5 L493.0 354.2 L493.1 355.9 L493.2 357.5 L493.4 359.0 L493.6 360.4 L493.9 361.8 L494.2 363.1 L494.6 364.3 L495.4 366.0 L496.2 367.6 L497.2 369.0 L498.3 370.1 L499.6 371.0 L501.0 371.1 L502.6 371.9 L504.3 371.3 L506.0 370.4 L507.8 370.5 L509.5 370.9 L509.9 369.3 L510.2 367.7 L510.5 366.0 L510.8 364.3 L511.0 362.6 L511.3 360.8 L511.6 359.2 L512.0 357.6 L512.3 356.0 L512.8 354.6 L513.3 353.2 L513.8 352.0 L514.5 351.0 L515.6 349.1 L516.9 347.9 L518.3 347.1 L519.7 346.7 L521.2 345.8 L522.7 345.8 L524.0 346.6 L525.4 347.1 L526.8 347.5 L528.2 348.2 L529.7 349.0 L531.2 349.7 L532.7 350.7 L534.1 351.0 L535.5 350.6 L537.0 351.6 L538.6 352.0 L540.1 353.0 L541.6 353.3 L543.1 353.8 L544.5 355.0 L545.9 354.3 L547.7 353.8 L549.5 353.2 L551.1 352.2 L552.8 351.7 L554.5 352.7 L557.5 280.9 L557.6 282.4 L557.7 284.0 L557.7 285.5 L557.8 287.1 L557.9 288.7 L558.0 290.2 L558.0 291.8 L558.1 293.4 L558.2 295.0 L558.2 296.5 L558.3 298.1 L558.4 299.6 L558.5 301.2 L558.6 302.7 L558.6 304.2 L558.7 305.7 L558.8 307.1 L558.9 308.6 L559.0 310.0 L559.1 311.6 L559.2 313.2 L559.3 314.8 L559.4 316.3 L559.5 317.8 L559.6 319.3 L559.7 320.8 L559.8 322.2 L559.9 323.7 L560.1 325.2 L560.2 326.7 L560.4 328.2 L560.6 329.7 L560.8 331.2 L561.0 332.7 L561.3 334.3 L561.5 335.9 L561.8 337.5 L562.0 339.2 L562.3 340.8 L562.6 342.4 L562.9 344.1 L563.3 345.7 L563.6 347.2 L564.0 348.7 L564.4 350.2 L564.8 351.7 L565.2 353.0 L565.7 354.3 L566.4 356.0 L567.0 357.7 L567.7 359.3 L568.4 360.8 L569.2 362.3 L570.1 363.6 L571.2 364.2 L572.4 365.4 L573.5 365.7 L574.7 366.3 L576.0 367.7 L577.4 368.0 L578.9 368.6 L580.4 369.3 L582.0 370.2 L583.7 371.0 L585.4 371.2 L587.1 371.1 L588.9 371.2 L590.2 372.0 L591.5 372.3 L592.9 371.8 L594.3 372.0 L595.8 372.0 L597.3 372.0 L598.8 371.8 L600.4 371.4 L601.9 371.5 L603.5 371.2 L605.2 372.2 L606.8 372.4 L608.4 371.8 L610.1 372.6 L611.7 372.8 L613.4 371.7 L615.0 372.8 L616.6 372.9 L618.2 373.4 L619.9 372.4 L621.4 372.7 L623.0 372.5 L626.0 293.1 L626.1 294.6 L626.1 296.2 L626.2 297.7 L626.3 299.2 L626.3 300.8 L626.4 302.3 L626.5 303.9 L626.5 305.4 L626.6 306.9 L626.7 308.5 L626.8 310.0 L626.8 311.6 L626.9 313.1 L627.0 314.6 L627.0 316.1 L627.1 317.6 L627.2 319.1 L627.3 320.6 L627.3 322.1 L627.4 323.6 L627.5 325.0 L627.6 326.6 L627.7 328.2 L627.7 329.8 L627.8 331.5 L627.8 333.1 L627.8 334.7 L627.9 336.3 L627.9 337.9 L628.0 339.4 L628.1 341.0 L628.2 342.5 L628.3 344.0 L628.4 345.5 L628.6 346.9 L628.8 348.3 L629.0 349.7 L629.3 351.0 L629.7 352.7 L630.1 354.5 L630.6 356.2 L631.0 357.8 L631.6 359.4 L632.2 360.9 L632.8 362.4 L633.5 363.7 L634.3 364.9 L635.2 366.2 L636.3 367.1 L637.5 367.9 L638.7 368.9 L640.0 368.5 L641.6 368.7 L643.3 368.9 L645.2 369.5 L646.1 369.8 L647.1 370.4 L648.2 370.8 L649.3 370.9 L650.5 370.8 L651.7 370.9 L653.0 371.5 L654.3 371.8 L655.7 371.8 L657.1 371.6 L658.6 372.3 L660.1 371.9 L661.6 372.1 L663.1 372.5 L664.7 372.2 L666.3 372.4 L668.0 371.8 L669.6 372.4 L671.3 372.4 L673.0 371.6 L674.7 372.2 L676.4 371.9 L678.2 372.6 L679.9 372.1 L681.6 372.1 L683.3 372.3 L685.1 372.2 L686.8 372.4 L688.5 372.1 L690.2 372.5 L691.9 372.4 L693.6 372.5 L695.2 371.4 L696.8 372.4 L698.4 372.4 L700.0 371.8 L701.5 372.2 L702.9 372.6 L704.4 373.0 L705.8 372.4 L707.2 373.2 L708.6 372.9 L710.0 373.8 L711.4 373.2 L712.8 373.2 L714.3 372.9 L715.7 372.4 L717.1 373.0 L718.5 373.3 L719.9 373.7 L721.3 373.6 L722.7 373.0 L724.1 372.3 L725.5 372.3 L726.9 372.3 L728.3 372.3 L729.8 372.8 L731.2 373.0 L732.7 372.8 L734.2 372.9 L735.6 372.9 L737.1 373.0 L738.6 373.2 L740.2 373.5 L741.7 372.9 L743.3 372.3 L744.8 373.2 L746.4 373.1 L748.1 373.5 L749.7 372.6 L751.3 372.6 L753.0 372.8 L754.7 372.3 L756.5 372.4 L758.2 373.0 L760.0 373.4 L761.2 373.9 L762.4 373.1 L763.7 372.5 L764.9 373.0 L766.2 373.4 L767.5 373.3 L768.8 372.7 L770.1 373.2 L771.4 373.5 L772.7 373.5 L774.0 373.1 L775.4 373.2 L776.7 373.5 L778.1 373.1 L779.5 372.4 L780.9 372.9 L782.2 373.2 L783.7 373.2 L785.1 373.5 L786.5 373.1 L787.9 373.1 L789.4 373.0 L790.8 373.4 L792.3 373.9 L793.7 373.5 L795.2 374.2 L796.7 374.3 L798.2 374.1 L799.7 373.9 L801.2 374.3 L802.7 373.7 L804.2 373.5 L805.7 373.0 L807.3 373.3 L808.8 373.9 L810.3 373.8 L811.9 373.7 L813.4 373.5 L815.0 373.5 L816.5 372.9 L818.1 373.5 L819.7 373.3 L821.2 372.9 L822.8 372.8 L824.4 372.8 L826.0 373.5 L827.5 373.9 L829.1 373.1 L830.7 373.6 L832.3 373.9 L833.9 373.5 L835.5 372.9 L837.1 372.9 L838.7 372.9 L840.3 373.4 L841.9 373.3 L843.5 372.6 L845.1 373.2 L846.7 372.7 L848.3 373.5 L849.9 373.0 L851.5 373.0 L853.1 373.0 L854.7 373.1 L856.3 373.8 L857.9 374.1 L859.5 374.1 L861.1 374.0 L862.7 373.2 L864.3 373.2 L865.9 373.2 L867.5 373.0 L869.0 373.6 L870.6 373.3 L872.2 373.2 L873.8 373.0 L875.3 372.5 L876.9 373.4 L878.5 374.1 L880.0 374.0 L881.6 373.5 L883.1 372.5 L884.7 373.2 L886.2 374.0 L887.7 374.0 L889.3 374.3 L890.8 374.6 L892.3 374.7 L893.8 373.8 L896.8 267.0 L896.9 268.5 L897.0 270.1 L897.1 271.7 L897.3 273.2 L897.4 274.8 L897.5 276.4 L897.6 277.9 L897.7 279.5 L897.9 281.0 L898.0 282.6 L898.1 284.1 L898.2 285.6 L898.3 287.1 L898.4 288.6 L898.5 290.0 L898.6 291.6 L898.7 293.1 L898.8 294.6 L898.9 296.1 L899.0 297.5 L899.1 298.9 L899.2 300.4 L899.3 301.9 L899.4 303.5 L899.5 305.2 L899.6 307.0 L899.7 308.3 L899.7 309.6 L899.8 311.0 L899.8 312.5 L899.9 314.1 L899.9 315.7 L899.9 317.4 L900.0 319.1 L900.0 320.8 L900.0 322.5 L900.0 324.3 L900.1 326.1 L900.1 327.8 L900.2 329.6 L900.3 331.3 L900.3 333.0 L900.4 334.7 L900.5 336.4 L900.6 337.9 L900.8 339.5 L900.9 340.9 L901.1 342.3 L901.3 343.6 L901.5 344.8 L901.7 345.9 L902.0 346.9 L902.6 348.7 L903.2 350.3 L903.8 351.7 L904.6 352.9 L905.5 354.3 L906.7 355.6 L907.7 356.4 L908.9 356.1 L910.2 356.6 L911.5 356.6 L913.0 357.3 L914.6 358.0 L916.2 357.9 L917.9 357.6 L919.6 359.0 L921.3 359.5 L923.1 360.5 L924.3 359.9 L925.6 360.8 L926.9 361.7 L928.2 362.4 L929.6 362.0 L931.0 362.1 L932.4 362.2 L933.8 362.9 L935.3 363.4 L936.8 363.5 L938.3 363.1 L939.9 363.9 L941.4 364.0 L943.0 364.7 L944.5 365.1 L946.1 366.0 L947.6 366.4 L949.2 366.1 L950.7 366.5 L952.3 367.4 L953.8 367.2 L955.3 367.6 L956.8 368.3 L958.3 368.0" fill="none" stroke="#000" stroke-width="3.7" stroke-linejoin="round" stroke-linecap="round"/>
<path d="M134.9 514.8 L136.4 515.3 L137.9 515.1 L139.4 514.3 L140.9 513.8 L142.5 514.2 L144.0 514.4 L145.5 515.4 L147.0 514.2 L150.5 490.0 L150.7 491.5 L150.9 493.2 L151.2 494.8 L151.4 496.4 L151.6 498.0 L151.8 499.5 L152.1 500.8 L152.5 502.0 L153.1 503.6 L153.8 504.9 L154.8 506.1 L156.0 507.1 L157.4 507.6 L159.2 506.8 L161.4 507.0 L162.2 507.4 L163.1 507.4 L164.1 507.6 L165.2 508.0 L166.3 507.7 L167.5 508.1 L168.8 507.9 L170.1 507.8 L171.4 508.3 L172.9 508.1 L174.3 508.3 L175.8 509.1 L177.4 508.8 L179.0 508.6 L180.6 508.9 L182.2 508.6 L183.9 509.1 L185.6 508.3 L187.3 508.8 L189.1 508.5 L190.8 508.3 L192.6 509.3 L194.3 508.7 L196.1 509.5 L197.8 509.5 L199.6 509.8 L201.3 508.9 L203.1 509.5 L204.8 509.8 L206.5 509.4 L208.1 509.2 L209.8 510.2 L211.4 509.7 L213.0 509.3 L214.5 509.2 L217.7 496.0 L218.2 497.8 L218.8 499.7 L219.3 501.4 L220.0 503.0 L221.1 505.1 L222.6 506.3 L223.9 506.9 L225.5 506.8 L227.6 506.7 L228.4 507.3 L229.2 506.7 L230.1 506.8 L231.1 507.2 L232.2 506.4 L233.4 506.8 L234.6 507.4 L235.9 506.3 L237.3 505.8 L238.7 505.6 L240.1 505.1 L241.7 505.8 L243.2 505.2 L244.8 505.9 L246.5 506.6 L248.1 505.6 L249.8 505.7 L251.6 505.0 L253.3 505.8 L255.1 505.5 L256.9 505.5 L258.7 505.7 L260.5 505.9 L262.3 505.6 L264.1 505.6 L266.0 505.4 L267.8 505.5 L269.5 505.0 L271.3 505.2 L273.1 504.5 L274.8 504.7 L276.5 505.8 L278.2 505.6 L279.8 504.9 L281.4 505.1 L283.0 505.2 L286.5 490.0 L286.9 491.7 L287.2 493.6 L287.6 495.4 L288.0 497.1 L288.4 498.7 L289.0 500.0 L290.3 501.4 L292.1 502.3 L293.3 503.0 L294.7 504.2 L296.3 504.7 L298.2 504.9 L300.4 504.8 L301.3 504.7 L302.3 505.7 L303.4 505.7 L304.5 505.3 L305.7 504.6 L307.0 504.6 L308.3 506.3 L309.7 505.6 L311.1 505.8 L312.6 506.0 L314.1 505.9 L315.6 505.9 L317.2 505.4 L318.8 505.3 L320.5 506.5 L322.2 506.0 L323.9 506.5 L325.6 505.6 L327.3 505.8 L329.0 506.1 L330.8 506.6 L332.5 506.0 L334.3 506.4 L336.0 506.5 L337.8 506.1 L339.5 506.4 L341.2 506.0 L342.9 505.8 L344.6 506.1 L346.2 505.1 L347.9 505.7 L349.4 505.7 L351.0 506.5 L354.0 481.1 L354.2 482.7 L354.4 484.3 L354.6 486.0 L354.8 487.6 L355.0 489.2 L355.2 490.8 L355.4 492.3 L355.7 493.7 L356.0 495.0 L356.4 496.7 L356.9 498.3 L357.4 499.7 L358.3 499.9 L359.5 501.3 L360.9 502.8 L362.6 503.4 L364.9 504.6 L365.7 504.1 L366.6 503.9 L367.6 505.0 L368.6 505.1 L369.7 505.5 L370.9 505.0 L372.1 505.4 L373.4 505.5 L374.7 505.7 L376.1 505.5 L377.5 506.0 L379.0 505.4 L380.5 505.0 L382.1 504.6 L383.7 505.5 L385.3 505.2 L387.0 504.9 L388.6 504.7 L390.3 504.9 L392.1 504.6 L393.8 504.8 L395.5 504.8 L397.3 504.8 L399.0 504.6 L400.8 505.0 L402.5 504.9 L404.2 505.1 L406.0 505.2 L407.7 505.3 L409.4 504.3 L411.0 504.5 L412.7 504.5 L414.3 505.2 L415.9 504.5 L417.5 504.5 L419.0 505.2 L422.2 467.8 L422.4 469.4 L422.5 471.0 L422.7 472.6 L422.8 474.2 L423.0 475.8 L423.1 477.4 L423.3 479.0 L423.4 480.6 L423.6 482.1 L423.8 483.6 L424.0 485.0 L424.2 486.7 L424.4 488.4 L424.6 490.1 L424.8 491.7 L425.1 493.2 L425.5 494.7 L426.1 496.0 L426.9 497.3 L427.8 498.6 L428.9 499.4 L430.1 500.5 L431.3 502.1 L432.7 502.5 L433.9 503.5 L435.2 503.0 L436.6 502.7 L438.1 503.8 L439.6 504.1 L441.3 504.3 L443.1 504.3 L445.0 504.5 L446.1 503.9 L447.2 504.6 L448.4 504.4 L449.7 504.9 L451.0 504.9 L452.3 504.0 L453.7 503.9 L455.2 504.9 L456.6 505.0 L458.1 504.9 L459.7 505.2 L461.2 505.1 L462.8 505.0 L464.4 505.3 L466.1 505.5 L467.7 506.2 L469.3 506.0 L471.0 506.7 L472.6 507.0 L474.3 507.2 L475.9 507.1 L477.5 506.6 L479.2 506.5 L480.8 506.3 L482.4 506.0 L483.9 506.2 L485.5 506.1 L487.0 506.5 L490.3 469.5 L490.4 471.0 L490.6 472.6 L490.7 474.2 L490.8 475.8 L491.0 477.5 L491.1 479.1 L491.2 480.7 L491.4 482.3 L491.5 483.9 L491.6 485.4 L491.8 486.9 L491.9 488.3 L492.1 489.6 L492.3 490.9 L492.5 492.0 L492.8 493.8 L493.0 495.5 L493.3 497.0 L493.8 498.3 L494.6 499.8 L495.9 500.5 L497.5 500.4 L499.3 499.8 L501.1 500.3 L502.9 500.9 L503.8 499.4 L504.7 497.9 L505.6 496.4 L506.6 494.9 L507.5 493.5 L508.5 492.1 L509.5 490.6 L510.7 489.2 L512.0 488.0 L513.3 486.6 L514.6 486.8 L516.1 486.5 L517.6 487.3 L519.4 486.6 L521.1 486.2 L522.9 486.8 L524.6 486.7 L526.0 487.0 L527.5 487.4 L528.7 488.2 L529.9 490.2 L531.0 491.0 L531.9 492.4 L532.6 494.0 L533.4 495.7 L534.1 497.4 L535.0 498.9 L536.0 500.6 L537.5 501.8 L539.2 501.5 L541.0 501.5 L542.6 500.6 L543.6 500.5 L544.6 499.2 L545.5 497.9 L546.4 496.5 L547.3 495.0 L548.2 493.7 L549.2 492.2 L550.6 491.7 L552.1 491.3 L553.5 490.9 L555.0 489.3 L558.1 439.7 L558.2 441.2 L558.3 442.8 L558.3 444.4 L558.4 446.0 L558.5 447.7 L558.6 449.3 L558.6 451.0 L558.7 452.6 L558.8 454.2 L558.9 455.9 L558.9 457.5 L559.0 459.1 L559.1 460.7 L559.2 462.3 L559.3 463.9 L559.3 465.4 L559.4 466.9 L559.5 468.4 L559.6 469.8 L559.7 471.2 L559.8 472.5 L559.9 473.8 L560.0 475.0 L560.2 476.9 L560.3 478.7 L560.4 480.4 L560.5 482.1 L560.6 483.6 L560.8 485.1 L561.0 486.6 L561.4 488.0 L561.8 489.3 L562.5 490.9 L563.2 492.5 L564.1 494.0 L565.0 495.4 L566.1 496.6 L567.4 498.1 L568.7 498.2 L570.2 498.4 L571.8 498.4 L573.4 499.4 L575.2 500.2 L577.1 499.8 L579.0 499.6 L580.3 499.8 L581.7 501.2 L583.1 501.4 L584.6 500.9 L586.1 500.3 L587.7 500.5 L589.3 501.5 L590.9 502.4 L592.6 502.0 L594.2 501.8 L595.8 501.8 L597.4 501.3 L599.0 502.3 L600.6 502.0 L602.1 502.8 L603.7 502.1 L605.4 501.9 L607.0 502.6 L608.6 502.4 L610.2 503.1 L611.8 503.1 L613.4 502.6 L615.0 503.1 L616.6 503.4 L618.2 502.5 L619.8 503.6 L621.4 503.6 L623.0 503.2 L626.3 448.0 L626.4 449.5 L626.5 451.1 L626.6 452.7 L626.7 454.3 L626.8 455.9 L626.9 457.6 L627.0 459.2 L627.1 460.8 L627.2 462.5 L627.3 464.1 L627.4 465.7 L627.5 467.3 L627.6 468.9 L627.7 470.4 L627.8 471.9 L627.9 473.4 L628.0 474.8 L628.1 476.2 L628.3 477.5 L628.4 478.8 L628.5 480.0 L628.7 481.9 L628.7 483.7 L628.8 485.5 L628.9 487.1 L629.0 488.7 L629.3 490.1 L629.7 491.5 L630.3 492.7 L631.2 494.0 L632.3 495.7 L633.6 495.6 L635.0 496.4 L636.7 497.4 L638.5 498.8 L639.5 498.5 L640.6 498.7 L641.7 498.5 L642.9 499.3 L644.1 500.0 L645.4 499.7 L646.7 500.1 L648.1 500.8 L649.6 501.8 L651.0 501.9 L652.6 501.7 L654.1 501.3 L655.7 501.3 L657.4 501.4 L659.1 501.9 L660.8 502.2 L662.5 503.1 L664.3 503.0 L666.1 502.5 L667.9 503.4 L669.7 503.7 L671.6 503.6 L672.8 503.2 L673.9 502.5 L675.2 502.6 L676.4 503.5 L677.6 503.3 L678.9 503.0 L680.2 503.5 L681.4 503.9 L682.8 504.2 L684.1 504.4 L685.4 504.9 L686.8 504.2 L688.2 504.7 L689.5 504.1 L691.0 504.6 L692.4 504.6 L693.8 504.7 L695.3 505.0 L696.7 504.8 L698.2 505.2 L699.7 505.4 L701.2 505.1 L702.7 504.7 L704.2 504.5 L705.7 504.5 L707.3 504.6 L708.8 504.8 L710.4 506.2 L711.9 505.9 L713.5 505.8 L715.1 505.1 L716.7 504.8 L718.3 504.9 L719.9 505.2 L721.6 504.8 L723.2 505.7 L724.8 505.3 L726.5 505.8 L728.1 504.6 L729.8 505.0 L731.4 505.4 L733.1 505.5 L734.7 505.8 L736.4 505.8 L738.1 505.8 L739.8 504.9 L741.4 505.0 L743.1 504.3 L744.8 505.3 L746.5 505.7 L748.2 505.6 L749.9 505.4 L751.6 505.4 L753.2 506.4 L754.9 506.9 L756.6 506.4 L758.3 506.8 L760.0 505.7 L761.3 505.1 L762.7 505.4 L764.1 505.4 L765.4 505.5 L766.8 505.9 L768.2 507.4 L769.6 506.5 L771.0 506.4 L772.4 506.5 L773.8 506.4 L775.2 506.8 L776.6 507.3 L778.0 506.3 L779.5 506.4 L780.9 506.3 L782.4 506.5 L783.8 505.9 L785.3 505.4 L786.7 505.0 L788.2 506.0 L789.6 506.4 L791.1 506.5 L792.6 505.6 L794.1 506.0 L795.5 506.0 L797.0 505.7 L798.5 505.8 L800.0 506.6 L801.5 506.9 L803.0 506.8 L804.5 507.0 L806.0 506.7 L807.6 506.8 L809.1 506.8 L810.6 507.1 L812.1 507.0 L813.6 506.9 L815.2 506.9 L816.7 506.6 L818.2 507.8 L819.8 507.6 L821.3 507.5 L822.9 508.2 L824.4 508.2 L825.9 507.0 L827.5 507.3 L829.0 507.6 L830.6 508.2 L832.1 508.2 L833.7 508.0 L835.2 507.1 L836.8 506.8 L838.4 507.1 L839.9 507.4 L841.5 506.9 L843.0 506.9 L844.6 506.9 L846.1 507.2 L847.7 507.4 L849.3 507.2 L850.8 506.8 L852.4 507.6 L853.9 508.2 L855.5 507.8 L857.1 508.0 L858.6 507.9 L860.2 508.0 L861.7 507.9 L863.3 507.4 L864.8 507.7 L866.4 508.1 L867.9 507.4 L869.5 508.3 L871.0 508.9 L872.6 509.0 L874.1 509.2 L875.7 508.7 L877.2 508.1 L878.7 507.6 L880.3 507.3 L881.8 507.6 L883.4 507.7 L884.9 508.0 L886.4 507.0 L887.9 508.4 L889.5 509.1 L891.0 508.5 L892.5 508.5 L894.0 508.4 L895.5 507.9 L898.5 394.6 L898.6 396.1 L898.6 397.7 L898.7 399.3 L898.8 400.9 L898.8 402.5 L898.9 404.1 L899.0 405.7 L899.0 407.3 L899.1 408.9 L899.2 410.5 L899.2 412.1 L899.3 413.7 L899.4 415.3 L899.4 416.9 L899.5 418.4 L899.6 419.9 L899.6 421.5 L899.7 422.9 L899.8 424.4 L899.8 425.9 L899.9 427.3 L899.9 428.7 L900.0 430.0 L900.1 431.7 L900.1 433.4 L900.2 435.0 L900.2 436.6 L900.2 438.1 L900.3 439.6 L900.3 441.1 L900.4 442.6 L900.4 444.1 L900.5 445.6 L900.6 447.1 L900.7 448.7 L900.8 450.4 L900.9 451.9 L901.0 453.5 L901.1 455.1 L901.2 456.8 L901.4 458.5 L901.5 460.3 L901.6 462.1 L901.8 463.8 L901.9 465.6 L902.1 467.3 L902.3 469.0 L902.5 470.7 L902.7 472.2 L903.0 473.7 L903.3 475.1 L903.6 476.4 L903.9 477.6 L904.3 478.6 L905.1 480.2 L905.8 481.5 L906.7 483.0 L907.8 483.7 L909.0 484.5 L910.1 484.8 L911.4 485.5 L912.9 485.9 L914.4 486.4 L915.9 486.3 L917.5 486.9 L919.2 487.4 L920.8 488.2 L922.1 488.2 L923.5 489.2 L924.8 490.3 L926.2 491.1 L927.7 491.5 L929.1 492.0 L930.6 492.8 L932.0 494.1 L933.5 495.4 L935.0 495.7 L936.5 496.0 L938.0 496.9 L939.5 497.5 L941.0 497.6 L942.5 497.9 L944.0 498.6 L945.5 499.4 L947.1 499.2 L948.6 499.4 L950.2 500.3 L951.7 500.2 L953.3 500.8 L954.9 501.4 L956.4 501.7 L958.0 501.7 L959.5 502.5" fill="none" stroke="#000" stroke-width="3.7" stroke-linejoin="round" stroke-linecap="round"/>
<path d="M134.9 608.7 L136.4 608.5 L137.9 608.3 L139.4 608.4 L140.9 607.9 L142.5 608.4 L144.0 607.4 L145.5 607.4 L147.0 607.7 L150.5 592.1 L151.0 593.9 L151.4 595.7 L151.9 597.4 L152.5 599.0 L153.4 601.1 L154.8 602.5 L156.0 603.7 L157.4 603.7 L159.2 604.3 L161.4 604.2 L162.2 604.7 L163.1 605.5 L164.1 604.9 L165.1 605.0 L166.2 604.5 L167.4 605.1 L168.6 605.5 L169.9 605.2 L171.2 604.6 L172.6 604.9 L174.1 605.4 L175.6 605.7 L177.1 605.7 L178.6 604.5 L180.2 604.4 L181.8 605.3 L183.5 604.5 L185.2 605.2 L186.9 605.8 L188.6 605.6 L190.3 605.7 L192.0 605.0 L193.8 604.3 L195.5 604.4 L197.3 604.4 L199.0 604.5 L200.7 604.8 L202.5 604.6 L204.2 604.6 L205.9 604.7 L207.6 604.6 L209.2 605.3 L210.8 605.1 L212.4 604.8 L214.0 604.5 L215.5 604.4 L218.6 592.1 L219.0 593.7 L219.5 595.3 L219.9 596.8 L220.5 598.0 L222.6 599.9 L223.8 601.1 L225.1 601.4 L226.8 601.2 L228.7 601.4 L230.9 601.8 L231.8 601.9 L232.8 602.6 L233.8 602.0 L235.0 602.4 L236.2 602.5 L237.4 601.9 L238.7 602.2 L240.1 602.3 L241.5 602.6 L242.9 602.3 L244.4 602.5 L246.0 601.7 L247.5 601.5 L249.1 602.2 L250.8 602.7 L252.5 602.4 L254.1 602.0 L255.8 602.5 L257.6 601.3 L259.3 601.2 L261.0 601.8 L262.8 602.1 L264.6 601.4 L266.3 600.6 L268.1 601.7 L269.8 601.7 L271.5 601.1 L273.2 601.2 L274.9 601.7 L276.6 600.3 L278.2 601.2 L279.9 601.5 L281.4 600.4 L283.0 601.1 L286.2 580.2 L286.5 581.7 L286.8 583.3 L287.0 584.9 L287.3 586.4 L287.6 588.0 L287.9 589.4 L288.2 590.8 L288.5 592.0 L289.0 593.9 L289.6 595.5 L290.5 596.8 L291.7 596.7 L293.1 598.0 L294.9 598.4 L297.1 599.5 L297.9 598.8 L298.9 598.7 L299.9 599.2 L300.9 598.7 L302.1 598.5 L303.3 598.5 L304.5 598.7 L305.9 598.4 L307.3 598.9 L308.7 599.3 L310.2 599.2 L311.7 600.0 L313.3 599.4 L314.9 599.9 L316.6 599.3 L318.2 599.6 L319.9 598.5 L321.7 599.0 L323.4 599.0 L325.2 598.9 L326.9 598.8 L328.7 598.9 L330.5 598.7 L332.3 598.0 L334.1 598.4 L335.9 598.6 L337.6 598.7 L339.4 598.5 L341.1 598.8 L342.8 599.4 L344.5 599.3 L346.2 599.1 L347.8 599.8 L349.4 600.1 L351.0 599.4 L354.0 571.3 L354.2 572.9 L354.5 574.6 L354.7 576.3 L354.9 578.0 L355.1 579.6 L355.4 581.2 L355.7 582.7 L356.0 584.0 L356.6 586.1 L357.3 587.8 L358.3 589.5 L359.3 590.9 L360.5 593.0 L361.9 594.4 L363.3 594.8 L364.7 595.4 L366.1 596.4 L367.8 596.4 L369.9 596.8 L370.8 597.1 L371.7 597.3 L372.7 597.2 L373.8 597.8 L375.0 597.6 L376.3 597.9 L377.6 598.3 L378.9 598.4 L380.4 598.4 L381.9 597.7 L383.4 597.2 L385.0 597.4 L386.6 597.9 L388.2 598.7 L389.9 597.9 L391.6 598.2 L393.3 597.8 L395.0 597.7 L396.8 597.9 L398.6 598.4 L400.3 598.5 L402.1 599.0 L403.9 598.3 L405.6 598.8 L407.4 599.1 L409.1 598.8 L410.9 598.9 L412.5 598.5 L414.2 598.1 L415.8 598.2 L417.4 598.2 L419.0 598.8 L422.2 569.0 L422.4 570.7 L422.6 572.3 L422.8 574.0 L423.0 575.7 L423.2 577.4 L423.5 579.0 L423.7 580.6 L424.0 582.0 L424.3 583.7 L424.6 585.3 L424.9 586.9 L425.4 588.3 L426.1 589.5 L427.1 591.6 L428.3 591.8 L429.6 593.2 L431.1 593.5 L432.7 593.9 L434.0 594.4 L435.3 594.0 L436.7 594.6 L438.1 594.6 L439.7 593.8 L441.3 594.4 L443.1 594.7 L445.0 594.8 L446.1 595.4 L447.2 594.9 L448.5 595.0 L449.7 595.3 L451.0 594.7 L452.4 595.3 L453.8 594.5 L455.3 594.2 L456.8 594.9 L458.3 594.5 L459.8 594.8 L461.4 594.3 L463.0 594.8 L464.7 594.6 L466.3 595.2 L467.9 594.6 L469.6 595.3 L471.3 595.3 L472.9 595.5 L474.6 595.6 L476.3 595.7 L477.9 595.2 L479.6 594.4 L481.2 595.2 L482.8 595.2 L484.4 595.4 L486.0 595.9 L487.5 596.1 L490.3 564.7 L490.5 566.3 L490.7 567.9 L490.9 569.6 L491.1 571.3 L491.2 573.0 L491.4 574.6 L491.6 576.2 L491.8 577.8 L492.0 579.3 L492.3 580.7 L492.5 582.0 L492.8 583.8 L493.0 585.6 L493.3 587.1 L493.8 588.5 L494.6 588.6 L495.8 589.3 L497.3 589.6 L499.1 589.4 L500.8 589.9 L502.5 590.2 L505.5 538.2 L506.0 539.6 L506.5 541.1 L506.9 542.5 L507.4 544.0 L507.9 545.4 L508.4 546.9 L508.9 548.3 L509.5 549.8 L510.1 551.2 L510.8 552.7 L511.5 554.1 L512.3 555.5 L513.1 557.0 L513.9 558.4 L514.6 559.9 L515.4 561.5 L516.1 563.0 L516.7 564.4 L517.3 565.9 L517.9 567.5 L518.5 569.0 L519.1 570.6 L519.7 572.2 L520.2 573.7 L520.8 575.3 L521.4 576.8 L522.1 578.2 L522.7 579.6 L523.5 581.2 L524.2 582.8 L524.9 584.3 L525.7 585.9 L526.5 587.3 L527.3 588.7 L528.3 589.9 L529.3 590.9 L530.5 591.7 L531.8 592.5 L533.2 594.1 L534.6 594.6 L536.1 595.8 L537.7 596.5 L539.3 596.1 L540.7 596.3 L542.2 597.0 L543.8 597.5 L545.4 598.0 L547.1 598.2 L548.8 598.4 L550.5 597.9 L552.2 597.7 L553.9 598.1 L555.5 597.8 L558.5 571.3 L558.7 573.0 L558.9 574.7 L559.1 576.5 L559.3 578.3 L559.5 580.0 L559.7 581.7 L560.0 583.3 L560.2 584.7 L560.5 586.0 L561.1 587.9 L561.7 589.5 L562.4 591.1 L564.0 590.1 L565.7 590.0 L567.0 589.1 L568.5 590.1 L570.2 590.6 L572.4 590.2 L573.3 591.2 L574.2 591.4 L575.2 591.5 L576.3 591.0 L577.5 591.1 L578.7 592.1 L580.0 591.6 L581.4 590.1 L582.8 590.6 L584.2 590.8 L585.8 591.3 L587.3 591.5 L588.9 591.4 L590.5 591.4 L592.2 592.3 L593.9 591.6 L595.6 592.8 L597.3 592.3 L599.1 591.8 L600.8 592.4 L602.6 592.7 L604.4 592.1 L606.2 592.6 L607.9 591.7 L609.7 591.7 L611.4 592.6 L613.2 592.5 L614.9 592.0 L616.6 592.5 L618.2 593.0 L619.9 592.9 L621.4 592.0 L623.0 592.8 L626.3 565.7 L626.5 567.3 L626.8 569.0 L627.0 570.7 L627.2 572.4 L627.5 574.1 L627.7 575.7 L628.0 577.2 L628.2 578.7 L628.5 580.0 L628.8 581.8 L629.1 583.5 L629.5 585.0 L630.3 585.7 L631.4 587.0 L632.7 588.0 L634.3 589.1 L636.2 588.8 L638.5 588.8 L639.3 588.9 L640.2 589.5 L641.2 588.9 L642.2 589.7 L643.3 588.2 L644.4 589.1 L645.6 588.9 L646.9 589.4 L648.2 589.7 L649.5 589.0 L650.9 589.2 L652.3 589.4 L653.8 589.6 L655.3 589.1 L656.8 588.7 L658.4 588.1 L659.9 589.8 L661.6 589.4 L663.2 589.1 L664.9 588.4 L666.5 589.1 L668.2 588.8 L669.9 589.5 L671.7 589.5 L673.4 589.1 L675.1 589.2 L676.8 588.4 L678.6 588.3 L680.3 588.1 L682.0 587.7 L683.8 588.0 L685.5 588.1 L687.2 588.8 L688.8 587.0 L690.5 587.3 L692.2 587.3 L693.8 587.5 L695.4 587.9 L697.0 588.2 L698.5 588.1 L700.0 587.8 L701.5 588.1 L703.0 588.2 L704.5 587.3 L706.0 587.5 L707.5 587.1 L709.0 587.0 L710.5 587.5 L711.9 587.8 L713.4 587.9 L714.9 587.5 L716.4 587.7 L717.9 587.4 L719.3 587.9 L720.8 588.2 L722.3 588.9 L723.8 589.0 L725.2 588.1 L726.7 587.8 L728.2 587.5 L729.7 587.9 L731.1 588.8 L732.6 588.7 L734.1 587.4 L735.6 587.1 L737.1 587.0 L738.6 587.7 L740.1 587.8 L741.6 588.0 L743.1 588.8 L744.6 588.0 L746.1 587.6 L747.6 588.7 L749.1 588.4 L750.7 587.8 L752.2 586.9 L753.7 586.7 L755.3 586.2 L756.9 587.0 L758.4 587.4 L760.0 588.1 L761.4 587.8 L762.9 587.5 L764.3 587.2 L765.8 588.3 L767.3 587.2 L768.7 587.5 L770.2 587.5 L771.7 587.8 L773.2 587.4 L774.7 587.7 L776.2 587.9 L777.7 587.5 L779.3 587.2 L780.8 587.1 L782.3 586.7 L783.8 586.8 L785.4 586.8 L786.9 587.0 L788.4 587.6 L790.0 587.9 L791.5 587.2 L793.1 587.3 L794.6 587.2 L796.2 587.3 L797.7 587.0 L799.3 586.9 L800.8 586.5 L802.4 586.2 L803.9 586.7 L805.4 587.1 L807.0 587.0 L808.5 586.9 L810.1 586.7 L811.6 586.2 L813.1 585.4 L814.7 586.0 L816.2 586.1 L817.7 585.8 L819.2 585.4 L820.7 586.2 L822.2 585.2 L823.7 586.2 L825.2 586.2 L826.7 587.0 L828.2 586.0 L829.6 585.7 L831.1 585.4 L832.6 585.4 L834.0 585.3 L835.6 585.0 L837.1 585.6 L838.7 585.0 L840.2 584.8 L841.8 585.2 L843.3 584.9 L844.8 584.7 L846.4 585.0 L847.9 584.7 L849.4 584.2 L850.9 584.4 L852.4 584.4 L853.9 585.3 L855.4 584.4 L856.9 584.9 L858.4 584.3 L859.9 584.2 L861.4 584.1 L862.9 584.3 L864.4 584.6 L865.8 585.2 L867.3 584.3 L868.8 584.8 L870.3 584.8 L871.8 584.7 L873.2 583.9 L874.7 584.3 L876.2 583.9 L877.7 583.9 L879.1 583.6 L880.6 583.9 L882.1 584.2 L883.6 584.3 L885.1 583.7 L886.6 584.0 L888.0 584.3 L889.5 583.3 L891.0 583.9 L892.5 582.9 L894.0 583.2 L895.5 583.0 L896.8 490.3 L897.1 491.9 L897.4 493.5 L897.7 495.1 L898.0 496.7 L898.3 498.3 L898.5 500.0 L898.7 501.6 L898.9 503.1 L899.0 504.7 L899.1 506.3 L899.3 507.9 L899.4 509.7 L899.6 511.5 L899.7 512.8 L899.9 514.2 L900.0 515.6 L900.2 517.1 L900.4 518.6 L900.6 520.1 L900.7 521.7 L900.9 523.2 L901.1 524.8 L901.3 526.4 L901.5 528.0 L901.6 529.5 L901.8 531.1 L902.0 532.6 L903.4 531.9 L904.7 531.2 L906.1 529.8 L907.5 528.5 L909.0 527.6 L910.5 527.1 L912.0 527.9 L913.7 528.1 L915.3 528.4 L916.9 529.5 L918.4 529.9 L919.7 530.6 L920.9 531.6 L922.2 533.6 L923.4 535.2 L924.6 535.9 L925.7 536.8 L926.8 538.2 L927.8 539.6 L928.6 540.8 L929.4 542.2 L930.1 543.5 L930.7 545.0 L931.4 546.4 L932.0 547.9 L932.7 549.4 L933.3 550.8 L934.0 552.3 L934.8 553.7 L935.6 555.0 L936.3 556.4 L937.0 557.8 L937.8 559.2 L938.6 560.5 L939.4 561.9 L940.3 563.2 L941.1 564.5 L942.1 565.2 L943.1 566.7 L944.2 567.8 L945.4 568.8 L946.6 569.8 L947.9 570.2 L949.3 571.3 L950.8 572.0 L952.2 572.4 L953.7 572.6 L955.2 572.9 L956.6 573.8 L958.1 573.8 L959.5 574.8" fill="none" stroke="#000" stroke-width="3.7" stroke-linejoin="round" stroke-linecap="round"/>
<path d="M136.6 698.6 L138.1 698.1 L139.6 697.2 L141.1 696.1 L142.5 696.9 L144.0 696.6 L145.5 696.3 L147.0 696.0 L150.5 659.6 L150.7 661.2 L150.8 662.7 L151.0 664.4 L151.1 666.0 L151.3 667.6 L151.4 669.2 L151.6 670.8 L151.7 672.4 L151.9 673.9 L152.1 675.3 L152.3 676.7 L152.5 678.0 L152.8 680.0 L153.1 681.9 L153.5 683.7 L154.0 685.3 L154.8 686.7 L155.7 688.5 L156.8 688.0 L158.0 689.1 L159.5 690.3 L161.4 691.6 L162.2 690.7 L163.1 691.8 L164.1 692.0 L165.1 693.0 L166.2 693.5 L167.4 693.4 L168.6 694.6 L169.9 693.6 L171.3 692.9 L172.7 692.6 L174.1 692.1 L175.6 692.6 L177.1 691.4 L178.7 692.3 L180.3 693.1 L182.0 694.0 L183.6 693.4 L185.3 694.5 L187.0 693.5 L188.8 693.4 L190.5 692.1 L192.3 692.3 L194.0 692.4 L195.8 694.1 L197.6 694.3 L199.3 693.2 L201.1 693.9 L202.8 694.2 L204.6 693.9 L206.3 693.9 L208.0 693.7 L209.6 693.5 L211.3 692.5 L212.9 693.3 L214.5 694.7 L216.0 694.3 L219.3 666.2 L219.5 667.8 L219.7 669.5 L219.9 671.1 L220.2 672.8 L220.4 674.5 L220.6 676.1 L220.8 677.7 L221.0 679.2 L221.3 680.7 L221.5 682.0 L221.8 683.7 L221.9 685.3 L222.2 686.8 L222.6 688.1 L223.3 689.3 L224.3 691.6 L225.6 691.5 L227.0 691.4 L228.8 691.9 L230.9 693.2 L231.8 693.4 L232.7 692.8 L233.8 693.3 L234.9 693.2 L236.0 693.7 L237.3 693.3 L238.6 692.3 L239.9 693.0 L241.3 693.9 L242.8 692.9 L244.3 693.2 L245.8 694.0 L247.4 693.5 L249.0 693.1 L250.6 694.8 L252.3 694.7 L254.0 694.8 L255.7 693.4 L257.4 694.5 L259.2 692.7 L260.9 692.6 L262.7 693.4 L264.5 694.2 L266.2 692.9 L268.0 692.5 L269.7 692.8 L271.5 691.4 L273.2 692.6 L274.9 693.1 L276.6 692.6 L278.2 693.0 L279.9 693.4 L281.4 693.3 L283.0 692.7 L286.2 662.2 L286.4 663.8 L286.6 665.5 L286.8 667.3 L287.0 669.0 L287.2 670.7 L287.4 672.4 L287.6 674.1 L287.8 675.7 L288.0 677.2 L288.3 678.7 L288.5 680.0 L288.8 681.8 L289.1 683.4 L289.4 684.9 L289.8 686.4 L290.5 687.7 L291.4 689.0 L292.4 690.9 L293.6 692.8 L295.2 692.8 L297.1 693.6 L297.9 693.4 L298.8 694.5 L299.8 694.1 L300.9 694.7 L302.0 694.8 L303.2 694.9 L304.5 696.2 L305.8 695.6 L307.2 696.5 L308.6 696.5 L310.1 696.9 L311.6 696.1 L313.2 696.5 L314.8 696.6 L316.5 695.7 L318.1 695.9 L319.8 695.7 L321.6 695.7 L323.3 696.6 L325.1 695.6 L326.9 694.4 L328.7 693.8 L330.5 694.4 L332.3 694.6 L334.0 695.2 L335.8 695.8 L337.6 697.1 L339.4 696.6 L341.1 696.5 L342.8 695.6 L344.5 696.1 L346.2 697.0 L347.8 697.4 L349.4 695.3 L351.0 696.0 L354.0 662.9 L354.2 664.5 L354.3 666.1 L354.5 667.8 L354.7 669.4 L354.8 671.1 L355.0 672.7 L355.2 674.3 L355.3 675.8 L355.5 677.3 L355.8 678.7 L356.0 680.0 L356.3 681.8 L356.6 683.5 L356.9 685.0 L357.4 686.4 L358.3 687.7 L359.2 689.0 L360.3 690.8 L361.5 691.5 L362.9 690.5 L364.5 691.1 L366.1 692.4 L367.9 693.2 L369.9 692.9 L370.9 692.7 L372.0 694.1 L373.2 693.2 L374.4 694.8 L375.6 694.7 L376.9 694.9 L378.3 693.9 L379.7 694.0 L381.2 695.1 L382.7 694.1 L384.2 696.2 L385.8 694.8 L387.3 694.2 L389.0 694.9 L390.6 695.6 L392.3 696.2 L393.9 695.7 L395.6 695.6 L397.3 695.5 L399.1 695.3 L400.8 693.7 L402.5 695.5 L404.2 696.0 L405.9 696.1 L407.6 695.7 L409.3 696.1 L411.0 696.2 L412.6 696.2 L414.3 697.1 L415.9 695.6 L417.4 696.3 L419.0 696.6 L422.2 666.2 L422.4 667.8 L422.5 669.5 L422.7 671.1 L422.8 672.8 L423.0 674.5 L423.2 676.1 L423.4 677.7 L423.5 679.2 L423.8 680.7 L424.0 682.0 L424.3 683.7 L424.6 685.3 L424.9 686.7 L425.4 688.0 L426.1 689.3 L427.1 689.6 L428.3 691.0 L429.6 693.4 L431.1 693.2 L432.7 694.0 L434.0 694.1 L435.3 695.3 L436.8 694.6 L438.3 693.7 L439.9 694.8 L441.5 694.8 L443.2 694.8 L445.0 695.9 L446.3 695.0 L447.8 695.0 L449.3 695.4 L450.9 695.9 L452.5 695.5 L454.2 696.4 L455.9 697.8 L457.7 696.6 L459.4 697.7 L461.1 695.4 L462.7 696.9 L464.3 696.4 L465.9 696.5 L467.4 696.2 L468.7 695.9 L470.0 695.3 L472.0 695.7 L473.7 697.1 L475.4 697.7 L477.0 696.9 L478.5 696.4 L480.0 696.2 L481.7 695.9 L483.3 698.1 L484.9 698.5 L486.5 698.0 L490.9 670.1 L498.0 698.0 L499.9 609.3 L500.0 610.9 L500.1 612.5 L500.2 614.1 L500.3 615.8 L500.3 617.4 L500.4 619.0 L500.5 620.6 L500.7 622.1 L501.0 623.6 L501.3 624.9 L501.7 626.1 L502.5 627.8 L503.5 629.3 L504.7 631.1 L505.9 631.7 L507.3 632.1 L508.5 634.2 L509.9 635.2 L511.3 634.7 L512.8 636.1 L514.3 635.5 L515.8 636.8 L517.2 636.6 L518.7 637.3 L520.2 638.6 L521.7 639.6 L523.2 640.9 L524.6 640.6 L525.9 642.7 L527.2 644.1 L528.5 644.4 L529.7 645.5 L530.9 645.8 L532.1 647.0 L533.1 647.1 L534.2 648.7 L535.3 650.1 L536.4 652.2 L537.5 653.5 L538.6 654.6 L539.6 654.9 L540.6 655.7 L541.5 656.9 L542.4 658.2 L543.3 659.5 L544.2 660.7 L545.2 662.0 L546.1 663.3 L547.0 664.5 L548.1 665.9 L549.1 667.2 L550.2 668.5 L551.3 669.8 L552.4 671.2 L553.4 672.5 L554.5 673.8 L558.2 626.1 L561.9 639.7 L565.6 639.7 L566.2 641.1 L566.7 642.5 L567.3 643.9 L567.8 645.3 L568.4 646.7 L568.9 648.1 L569.4 649.6 L569.9 651.2 L570.3 652.8 L570.7 654.4 L571.1 656.0 L571.5 657.6 L572.0 659.2 L572.5 660.8 L573.0 662.3 L573.6 663.7 L574.2 665.2 L574.8 666.6 L575.5 668.0 L576.1 669.3 L576.8 670.7 L577.6 672.3 L578.3 673.9 L579.1 675.4 L579.9 676.9 L580.8 678.3 L581.8 679.4 L583.2 680.2 L584.7 681.1 L586.3 680.3 L588.0 682.4 L589.3 682.1 L590.6 683.2 L592.0 684.7 L593.5 685.5 L594.9 688.0 L596.4 688.3 L597.9 690.0 L599.4 690.8 L600.9 690.1 L602.4 690.6 L603.9 691.7 L605.5 691.2 L607.1 691.4 L608.8 691.2 L610.2 691.7 L611.7 691.8 L613.2 692.3 L614.7 693.3 L616.2 694.2 L617.8 693.9 L619.4 693.9 L620.9 694.6 L622.5 694.2 L624.0 694.2 L627.0 671.1 L627.2 672.7 L627.4 674.3 L627.6 675.9 L627.7 677.6 L627.8 679.3 L628.0 680.9 L628.2 682.6 L628.4 684.2 L628.6 685.7 L628.9 687.2 L629.3 688.5 L629.7 689.8 L630.3 690.9 L631.2 692.3 L632.2 692.9 L633.3 695.1 L634.5 695.2 L635.8 696.9 L637.1 696.6 L638.5 698.6 L639.7 697.4 L641.0 698.0 L642.3 698.5 L643.7 696.6 L645.1 697.2 L646.6 695.4 L648.2 693.7 L649.9 694.4 L651.8 694.6 L652.9 694.2 L654.0 692.2 L655.2 693.0 L656.4 693.3 L657.7 693.3 L659.0 693.4 L660.4 692.4 L661.8 692.8 L663.3 694.7 L664.8 695.5 L666.3 694.6 L667.9 693.9 L669.4 694.4 L671.0 695.2 L672.6 695.4 L674.3 694.2 L675.9 694.6 L677.6 694.8 L679.3 695.9 L680.9 696.4 L682.6 696.2 L684.2 696.6 L685.9 695.7 L687.6 696.7 L689.2 695.9 L690.8 696.1 L692.4 696.6 L694.0 695.6 L695.5 695.2 L697.1 694.3 L698.5 695.3 L700.0 695.6 L701.6 695.6 L703.2 696.2 L704.8 694.6 L706.4 695.4 L708.0 695.8 L709.6 695.8 L711.2 696.6 L712.8 697.7 L714.4 696.6 L716.0 695.8 L717.5 695.6 L719.1 696.0 L720.7 696.6 L722.2 695.8 L723.8 696.8 L725.3 695.8 L726.8 696.7 L728.3 696.8 L729.8 696.9 L731.3 698.1 L732.8 697.0 L734.3 696.5 L735.7 696.7 L737.2 697.1 L738.6 695.7 L740.0 696.1 L741.7 695.6 L743.4 696.3 L745.1 697.1 L746.8 696.5 L748.5 696.0 L750.2 695.9 L751.9 693.5 L753.6 695.0 L755.2 695.5 L756.8 695.4 L758.4 694.9 L759.9 694.4 L761.4 694.5 L762.9 695.5 L764.3 695.1 L765.6 696.0 L766.9 693.6 L768.2 694.0 L770.2 695.0 L772.0 695.6 L773.7 695.0 L775.3 695.7 L776.9 697.6 L778.4 696.7 L779.9 696.3 L781.4 695.7 L782.8 695.2 L784.1 695.4 L785.4 694.9 L786.8 692.3 L788.1 692.7 L789.5 694.2 L790.8 694.7 L792.3 695.4 L794.0 697.6 L795.3 697.4 L796.7 696.6 L798.3 696.6 L799.9 696.5 L801.6 696.2 L803.4 696.6 L805.2 697.6 L807.0 697.7 L808.7 696.5 L810.4 699.0 L812.0 697.6 L813.6 697.7 L815.2 697.8 L816.9 698.4 L818.5 698.0 L820.1 698.5 L821.7 699.9 L823.3 699.3 L824.9 698.2 L826.5 698.6 L826.7 697.1 L826.9 695.7 L827.1 694.2 L827.3 692.8 L827.5 691.4 L827.7 690.0 L827.9 688.5 L828.1 687.1 L828.3 685.6 L828.4 684.1 L828.6 682.5 L828.8 680.9 L829.0 679.2 L829.2 677.5 L829.3 676.3 L829.5 675.0 L829.6 673.7 L829.7 672.3 L829.8 670.9 L830.0 669.5 L830.1 668.1 L830.2 666.6 L830.3 665.2 L830.4 663.7 L830.6 662.1 L830.7 660.6 L830.8 659.1 L830.9 657.5 L831.0 655.9 L831.2 654.4 L831.3 652.8 L831.4 651.2 L831.5 649.6 L831.6 648.0 L831.7 646.4 L831.9 644.8 L832.0 643.3 L832.1 641.7 L832.2 640.1 L832.3 638.6 L832.5 637.0 L832.6 635.5 L832.7 634.0 L835.1 635.3 L835.9 636.1 L836.8 637.4 L837.7 638.9 L838.6 640.5 L839.7 642.1 L840.9 642.9 L842.0 643.8 L843.1 645.1 L844.4 646.4 L845.7 647.0 L847.1 648.5 L848.5 648.8 L849.9 648.5 L851.3 650.2 L852.7 650.3 L854.3 651.7 L856.0 651.0 L857.8 651.5 L859.5 651.5 L861.2 649.4 L862.8 649.3 L864.4 649.8 L865.8 652.3 L867.2 651.6 L868.6 653.8 L869.9 655.5 L871.2 656.2 L872.5 656.9 L873.8 656.4 L875.6 656.1 L877.3 655.4 L879.0 654.8 L880.8 654.7 L882.3 654.3 L883.7 654.1 L885.3 654.4 L886.9 655.5 L888.5 654.8 L890.2 654.8 L891.6 655.3 L893.2 655.4 L894.7 655.6 L896.3 653.8 L898.0 654.5 L899.6 654.8 L901.2 655.6 L902.8 654.0 L904.3 654.3 L906.1 654.9 L907.9 655.1 L909.6 655.5 L911.4 655.5 L913.0 654.0 L914.6 654.6 L916.1 654.5 L917.6 654.7 L919.0 657.4 L920.2 657.9 L921.6 658.5 L923.1 659.3 L924.6 659.1 L926.2 660.1 L927.8 659.7 L929.6 660.0 L931.3 659.1 L933.1 657.7 L934.8 658.3 L936.5 657.4 L938.3 657.1 L940.1 657.2 L941.9 657.6 L943.6 658.8 L945.2 658.3 L946.6 658.9 L948.3 659.7 L949.7 659.9 L951.0 660.5 L952.4 661.4 L954.0 661.7 L955.5 661.0 L957.1 659.9 L957.3 661.4 L957.6 662.9 L957.8 664.5 L958.1 666.0 L958.3 667.5 L958.5 669.0 L958.8 670.5 L959.0 672.1 L959.3 673.6 L959.5 675.1" fill="none" stroke="#000" stroke-width="3.7" stroke-linejoin="round" stroke-linecap="round"/>
<path d="M133.3 861.6 L135.0 861.7 L136.7 861.5 L138.5 861.2 L140.2 861.3 L141.7 860.7 L143.0 860.2 L144.6 860.2 L146.0 860.5 L148.6 852.8 L149.7 853.4 L151.0 854.8 L152.2 855.4 L153.5 855.8 L155.2 856.3 L157.3 856.3 L158.2 856.5 L159.2 856.0 L160.3 856.7 L161.5 856.6 L162.8 857.1 L164.3 856.0 L165.8 856.4 L167.4 857.1 L169.1 856.3 L170.9 856.9 L172.7 857.4 L174.5 857.7 L176.4 857.1 L178.3 857.7 L180.2 857.9 L182.2 857.6 L184.1 858.2 L186.1 858.2 L188.0 858.2 L189.9 858.1 L191.8 858.4 L193.7 858.4 L195.4 858.9 L197.2 858.9 L198.8 858.4 L200.4 858.3 L201.9 858.8 L203.3 858.5 L204.7 858.7 L205.9 858.8 L206.9 858.6 L207.9 857.5 L208.7 858.1 L209.4 858.4 L211.2 858.4 L212.5 858.3 L215.6 851.1 L216.8 852.6 L218.0 853.7 L219.5 855.6 L221.0 856.5 L222.4 856.8 L224.3 856.6 L225.0 856.4 L225.8 856.8 L226.7 856.4 L227.8 856.3 L229.0 857.6 L230.4 858.0 L231.8 858.1 L233.3 858.4 L234.9 858.2 L236.6 857.2 L238.4 858.0 L240.2 858.5 L242.1 858.4 L244.0 857.4 L245.9 858.3 L247.9 858.9 L249.9 858.4 L251.9 858.5 L253.9 858.9 L255.9 858.7 L257.9 859.1 L259.9 859.0 L261.8 859.1 L263.7 859.0 L265.6 858.2 L267.3 858.1 L269.0 859.8 L270.7 859.4 L272.2 859.6 L273.7 859.6 L275.0 859.8 L276.3 859.3 L277.4 858.5 L278.4 858.3 L279.2 857.2 L279.9 857.3 L280.5 857.8 L281.8 856.4 L282.5 855.0 L284.5 842.4 L285.0 844.2 L285.4 846.1 L285.8 847.9 L286.3 849.6 L287.0 851.0 L288.0 851.4 L289.2 852.9 L290.5 854.2 L291.8 855.3 L293.3 855.0 L295.0 855.1 L297.1 854.7 L298.0 854.9 L299.1 855.7 L300.2 856.8 L301.5 856.0 L302.9 856.7 L304.3 856.7 L305.9 856.3 L307.5 857.3 L309.2 855.7 L310.9 856.1 L312.6 856.3 L314.4 857.3 L316.2 857.7 L318.1 858.1 L319.9 857.3 L321.7 857.4 L323.6 857.5 L325.4 857.2 L327.1 857.0 L328.8 856.7 L330.5 856.4 L332.1 855.9 L333.7 857.0 L335.1 856.6 L336.5 855.6 L337.8 856.2 L338.9 856.3 L340.0 856.5 L342.1 857.3 L343.8 856.9 L345.4 856.6 L346.9 856.2 L348.3 856.3 L349.9 856.5 L352.4 825.9 L352.6 827.5 L352.9 829.1 L353.1 830.7 L353.3 832.4 L353.5 834.0 L353.7 835.7 L353.9 837.3 L354.1 838.9 L354.4 840.4 L354.7 841.9 L355.0 843.3 L355.3 844.5 L355.7 845.7 L356.4 847.4 L357.2 848.9 L358.0 850.2 L358.9 851.1 L359.9 852.4 L361.4 854.7 L362.9 854.9 L364.5 854.8 L365.6 751.4 L367.3 802.7 L369.8 739.0 L372.3 791.1 L373.5 793.3 L374.7 794.5 L374.9 794.3 L375.1 794.0 L375.3 793.5 L375.4 792.9 L375.6 792.1 L375.7 791.1 L375.8 790.1 L375.9 788.9 L376.0 787.6 L376.1 786.1 L376.2 784.6 L376.3 783.0 L376.4 781.4 L376.4 779.6 L376.5 777.8 L376.5 775.9 L376.5 774.0 L376.6 772.0 L376.6 770.1 L376.7 768.1 L376.7 766.0 L376.7 764.0 L376.7 762.0 L376.8 760.0 L376.8 758.0 L376.9 756.1 L376.9 754.2 L376.9 752.4 L377.0 750.6 L377.1 748.8 L377.1 747.2 L377.2 745.6 L378.9 789.5 L380.0 788.1 L381.1 787.6 L382.2 787.0 L383.5 787.5 L384.7 789.5 L385.5 744.8 L388.0 781.2 L389.7 783.0 L391.3 783.9 L392.9 785.2 L394.0 786.3 L395.0 786.8 L396.0 788.2 L397.0 789.6 L397.9 791.1 L398.7 792.4 L399.4 793.7 L400.1 795.0 L400.8 796.5 L401.5 797.9 L402.2 799.5 L402.9 801.1 L403.4 802.4 L404.0 803.8 L404.5 805.3 L405.1 806.8 L405.6 808.3 L406.2 809.9 L406.7 811.5 L407.3 813.1 L407.8 814.7 L408.4 816.2 L408.9 817.8 L409.5 819.3 L410.0 820.8 L410.6 822.2 L411.1 823.7 L411.7 825.1 L412.2 826.5 L412.8 828.0 L413.3 829.4 L413.9 830.9 L414.4 832.3 L415.0 833.7 L415.5 835.2 L416.1 836.6 L419.1 794.5 L419.4 796.0 L419.6 797.6 L419.9 799.1 L420.1 800.6 L420.3 802.2 L420.6 803.7 L420.8 805.2 L421.1 806.7 L421.3 808.3 L421.6 809.8 L421.9 811.3 L422.1 812.9 L422.4 814.4 L422.7 816.0 L423.0 817.6 L423.3 819.2 L423.5 820.8 L423.8 822.5 L424.1 824.2 L424.4 825.9 L424.7 827.6 L425.0 829.3 L425.3 830.9 L425.7 832.5 L426.0 834.0 L426.4 835.4 L426.8 836.8 L427.2 838.0 L427.7 839.1 L428.5 840.8 L429.4 842.2 L430.4 844.5 L431.5 845.6 L432.7 846.7 L433.9 846.8 L435.1 847.4 L436.5 847.6 L438.0 848.8 L439.5 849.5 L441.0 849.5 L442.6 850.2 L444.1 851.6 L445.6 851.7 L447.1 850.9 L448.7 851.0 L450.4 851.4 L452.1 851.4 L453.9 851.6 L455.8 852.1 L457.1 852.1 L458.4 851.4 L459.8 851.9 L461.3 851.9 L462.8 851.9 L464.3 851.7 L465.9 851.3 L467.5 851.1 L469.1 851.4 L470.7 851.3 L472.4 850.5 L474.0 851.9 L475.7 851.5 L477.4 851.6 L479.0 852.2 L480.7 851.2 L482.3 852.4 L483.9 852.0 L485.5 852.4 L488.5 819.5 L488.7 821.1 L488.8 822.7 L489.0 824.3 L489.2 825.9 L489.4 827.5 L489.5 829.0 L489.8 830.5 L490.0 832.0 L490.3 833.6 L490.6 835.1 L491.0 836.6 L491.3 838.0 L491.7 839.4 L492.2 840.8 L492.9 842.7 L493.6 844.5 L494.5 846.2 L495.5 847.5 L496.7 847.9 L498.1 848.3 L500.0 848.6 L500.7 848.6 L501.5 847.9 L502.5 847.8 L503.4 848.4 L504.5 849.3 L505.7 849.0 L506.9 849.4 L508.1 849.5 L509.5 849.7 L510.9 850.1 L512.3 849.2 L513.9 849.6 L515.4 849.6 L517.0 849.6 L518.6 849.5 L520.3 849.4 L522.0 849.4 L523.7 849.3 L525.5 851.0 L527.2 851.5 L529.0 851.0 L530.8 851.1 L532.6 850.5 L534.4 849.4 L536.2 849.4 L537.9 850.2 L539.7 851.3 L541.5 851.2 L543.2 850.8 L544.9 851.0 L546.6 850.8 L548.3 850.5 L549.9 851.0 L551.5 851.2 L553.0 851.7 L555.8 818.3 L556.0 819.8 L556.3 821.4 L556.5 823.0 L556.7 824.6 L556.9 826.1 L557.2 827.7 L557.4 829.2 L557.7 830.6 L558.0 832.0 L558.4 833.6 L558.7 835.2 L559.1 836.7 L559.6 838.1 L560.1 839.5 L560.8 840.8 L561.6 842.1 L562.4 843.3 L563.3 843.9 L564.4 844.8 L565.7 845.8 L567.4 847.1 L568.2 848.2 L569.1 848.2 L570.1 849.4 L571.1 848.4 L572.2 848.8 L573.4 848.5 L574.7 848.9 L576.0 849.2 L577.4 849.7 L578.8 850.2 L580.3 849.8 L581.8 849.3 L583.3 849.6 L584.9 849.9 L586.6 849.7 L588.2 850.3 L589.9 851.0 L591.6 850.0 L593.4 850.3 L595.1 850.7 L596.9 849.6 L598.7 850.0 L600.4 850.0 L602.2 849.5 L604.0 850.5 L605.8 850.5 L607.5 850.2 L609.3 850.5 L611.0 850.7 L612.7 850.9 L614.4 850.9 L616.0 850.9 L617.7 850.2 L619.3 850.3 L620.8 850.7 L623.7 819.9 L623.9 821.5 L624.2 823.1 L624.4 824.7 L624.7 826.4 L624.9 828.0 L625.1 829.6 L625.4 831.1 L625.7 832.6 L626.0 834.0 L626.4 835.9 L626.8 837.7 L627.2 839.4 L627.8 841.0 L628.6 842.4 L629.5 843.5 L630.6 843.5 L631.8 846.0 L633.3 846.6 L635.2 846.9 L636.0 846.6 L636.9 847.5 L637.8 847.9 L638.9 848.0 L640.0 848.1 L641.1 848.1 L642.3 848.2 L643.6 848.6 L645.0 848.6 L646.4 849.2 L647.8 849.2 L649.3 849.3 L650.8 849.6 L652.4 850.1 L654.0 850.0 L655.6 849.9 L657.3 849.6 L659.0 849.2 L660.7 849.2 L662.4 849.7 L664.2 849.7 L665.9 849.4 L667.7 848.9 L669.5 848.5 L671.2 849.2 L673.0 849.8 L674.8 849.8 L676.5 849.0 L678.3 849.2 L680.0 849.4 L681.7 849.1 L683.4 849.4 L685.1 849.4 L686.8 849.1 L688.4 848.8 L690.0 849.6 L691.5 849.7 L694.8 800.1 L695.0 801.6 L695.2 803.2 L695.4 804.7 L695.6 806.3 L695.8 807.9 L695.9 809.5 L696.1 811.1 L696.3 812.6 L696.5 814.2 L696.7 815.7 L696.9 817.2 L697.2 818.6 L697.5 820.0 L697.8 821.3 L698.1 822.6 L698.6 824.3 L699.2 825.9 L699.8 827.4 L700.4 828.8 L701.1 830.2 L701.8 831.6 L702.4 832.9 L703.1 834.2 L703.9 835.7 L704.7 837.1 L705.5 838.4 L706.3 839.7 L707.2 841.1 L708.0 842.4 L709.1 840.4 L710.2 838.5 L711.3 837.6 L712.5 838.0 L713.7 839.4 L714.7 840.9 L715.3 839.5 L715.6 837.2 L716.3 835.2 L717.8 834.4 L719.6 833.3 L721.3 833.2 L722.9 831.6 L724.6 830.6 L725.6 831.8 L726.6 832.7 L727.7 834.2 L728.9 835.8 L730.0 837.1 L731.2 837.6 L732.8 836.8 L734.4 835.4 L736.1 834.4 L737.8 834.6 L739.4 834.1 L741.1 835.4 L742.7 835.9 L744.4 835.5 L745.9 835.6 L747.5 835.4 L749.1 834.3 L750.6 833.0 L751.7 833.1 L753.6 832.2 L754.0 833.7 L754.3 835.3 L754.7 837.0 L755.1 838.5 L755.6 839.8 L756.4 840.2 L757.9 841.8 L759.8 841.8 L761.8 842.6 L763.5 842.6 L765.2 841.6 L767.0 841.4 L768.1 842.1 L769.3 842.7 L770.6 843.4 L772.0 844.9 L773.5 845.2 L775.2 846.6 L776.4 847.2 L777.7 848.2 L779.1 848.4 L780.5 848.3 L782.0 848.3 L783.6 848.2 L785.2 847.6 L786.9 848.6 L788.6 848.7 L790.3 848.4 L792.0 847.9 L793.7 848.8 L795.4 848.9 L797.1 848.2 L798.7 848.7 L800.2 849.6 L801.7 849.3 L803.2 849.4 L804.7 849.1 L806.2 849.0 L807.7 849.7 L809.2 851.0 L810.7 850.4 L812.2 850.1 L813.7 850.4 L815.3 850.1 L816.8 850.5 L818.3 850.7 L819.9 850.1 L821.4 849.7 L823.0 850.0 L824.5 850.5 L826.1 850.5 L827.7 850.9 L829.4 849.9 L831.1 850.2 L832.8 849.9 L834.5 850.0 L836.3 850.0 L838.0 849.5 L839.7 849.4 L841.4 848.9 L843.1 849.2 L844.7 848.8 L846.2 848.6 L847.7 848.8 L849.1 848.3 L850.4 848.8 L851.6 848.1 L852.7 848.2 L854.4 847.5 L855.9 846.0 L857.1 845.2 L858.4 844.2 L859.7 844.0 L861.3 844.3 L862.9 845.9 L864.7 846.3 L866.8 847.6 L867.9 847.6 L869.1 846.9 L870.4 846.2 L871.7 847.3 L873.2 846.7 L874.7 847.6 L876.2 848.3 L877.8 848.4 L879.5 848.3 L881.1 848.2 L882.8 848.5 L884.4 848.4 L886.1 848.3 L887.8 848.4 L889.4 849.2 L891.0 848.9 L892.5 849.1 L895.0 744.6 L895.3 746.1 L895.7 747.4 L896.0 748.8 L896.3 750.2 L896.7 751.7 L897.0 753.3 L897.3 755.2 L897.5 756.3 L897.6 757.4 L897.7 758.6 L897.9 759.8 L898.0 761.2 L898.2 762.5 L898.3 763.9 L898.4 765.4 L898.6 766.9 L898.7 768.4 L898.8 770.0 L898.9 771.6 L899.1 773.2 L899.2 774.9 L899.3 776.6 L899.4 778.2 L899.6 779.9 L899.7 781.6 L899.8 783.3 L899.9 785.0 L900.0 786.6 L900.2 788.3 L900.3 790.0 L900.4 791.6 L900.5 793.2 L900.7 794.8 L900.8 796.3 L902.5 797.2 L904.3 797.1 L905.8 796.2 L907.3 794.6 L909.0 794.1 L910.4 794.6 L912.0 795.0 L913.6 795.2 L915.3 796.1 L916.9 796.6 L918.4 797.6 L919.7 798.6 L920.9 799.8 L922.1 799.7 L923.2 800.8 L924.3 803.1 L925.4 804.5 L926.2 805.6 L927.0 806.8 L927.8 808.1 L928.6 809.4 L929.3 810.8 L930.1 812.1 L930.8 813.5 L931.7 814.9 L932.5 816.2 L933.4 817.5 L934.2 818.9 L935.1 820.2 L936.0 821.6 L937.0 823.0 L937.9 824.4 L938.9 825.7 L939.9 826.9 L940.9 827.9 L941.9 829.1 L943.2 831.3 L944.5 831.9 L945.9 832.6 L947.3 834.2 L948.6 835.1 L950.0 836.5 L951.3 837.0 L952.7 837.3 L954.1 838.2 L955.5 838.3 L956.9 838.8 L958.3 839.7" fill="none" stroke="#000" stroke-width="3.7" stroke-linejoin="round" stroke-linecap="round"/>
<path d="M136.6 954.8 L138.3 954.3 L140.1 954.2 L142.0 954.5 L143.7 953.9 L145.2 953.9 L146.5 953.3 L149.0 952.5 L151.8 943.6 L152.5 945.3 L153.2 947.1 L154.0 948.5 L154.9 950.0 L156.4 949.3 L157.0 950.0 L157.7 950.6 L158.6 950.4 L159.6 951.4 L160.8 951.7 L162.0 952.4 L163.4 952.7 L164.9 952.7 L166.5 952.5 L168.1 952.0 L169.9 952.2 L171.7 952.3 L173.5 952.8 L175.4 952.7 L177.4 954.5 L179.4 953.2 L181.4 953.9 L183.4 953.5 L185.4 953.5 L187.5 954.1 L189.5 953.9 L191.5 953.3 L193.5 953.8 L195.4 953.8 L197.3 952.9 L199.2 953.5 L201.0 953.2 L202.7 953.2 L204.4 953.7 L205.9 953.9 L207.4 953.6 L208.7 954.6 L210.0 954.2 L211.1 953.5 L212.1 953.4 L213.0 953.1 L213.7 951.9 L214.3 951.4 L215.7 951.4 L216.5 950.0 L219.3 944.4 L220.2 945.6 L220.9 946.8 L221.7 947.9 L222.8 947.7 L224.3 950.3 L225.0 950.4 L225.9 950.5 L226.9 950.6 L228.1 951.5 L229.3 951.6 L230.6 952.6 L232.1 952.8 L233.6 953.4 L235.2 952.9 L236.8 953.0 L238.6 952.8 L240.3 952.9 L242.2 952.2 L244.1 952.5 L246.0 952.5 L247.9 952.8 L249.8 953.8 L251.8 953.9 L253.8 954.5 L255.7 954.6 L257.6 954.7 L259.6 954.8 L261.5 954.1 L263.3 954.4 L265.1 954.0 L266.9 953.7 L268.6 954.3 L270.2 955.1 L271.7 953.9 L273.2 954.6 L274.6 954.4 L275.9 953.5 L277.0 953.5 L278.1 953.4 L279.0 953.4 L279.8 952.9 L280.5 952.1 L282.6 951.1 L284.0 950.0 L287.1 938.8 L287.6 940.3 L288.0 941.8 L288.4 943.3 L288.9 944.8 L289.5 946.0 L290.4 947.8 L292.1 949.6 L292.7 950.1 L293.3 950.4 L294.1 950.8 L295.0 950.2 L295.9 950.4 L297.0 950.7 L298.1 951.3 L299.3 951.3 L300.5 951.5 L301.8 951.5 L303.2 952.5 L304.7 950.9 L306.2 951.2 L307.8 952.6 L309.4 952.3 L311.0 951.2 L312.7 951.6 L314.4 951.0 L316.2 951.1 L318.0 951.7 L319.8 952.7 L321.6 952.6 L323.5 952.6 L325.4 952.8 L327.2 952.6 L329.1 951.9 L331.0 952.0 L332.8 952.2 L334.7 952.1 L336.6 951.8 L338.4 951.9 L340.2 951.4 L342.0 951.4 L343.8 951.9 L345.5 952.0 L347.2 952.3 L348.8 953.1 L350.4 953.1 L352.0 952.7 L355.2 930.4 L355.6 932.0 L355.9 933.6 L356.2 935.3 L356.5 936.9 L356.8 938.5 L357.2 940.0 L357.7 941.5 L358.2 942.8 L359.0 944.4 L359.9 945.9 L360.8 947.3 L361.9 948.7 L363.2 948.9 L364.6 949.2 L366.1 950.1 L367.8 950.0 L369.5 950.5 L371.3 950.0 L373.1 950.5 L374.6 950.7 L376.1 951.3 L377.6 951.0 L379.2 950.9 L380.8 951.2 L382.4 951.3 L383.9 952.2 L385.5 951.4 L386.3 885.7 L388.0 921.3 L389.5 922.9 L391.3 923.7 L392.9 924.0 L394.8 924.5 L396.8 924.6 L398.7 924.6 L400.4 883.2 L402.0 913.0 L402.9 893.2 L404.5 911.4 L406.2 898.1 L407.8 914.7 L409.5 896.5 L411.1 909.7 L412.8 893.2 L415.3 908.9 L417.8 909.7 L419.4 891.5 L421.1 903.1 L422.7 904.3 L424.1 903.7 L425.9 905.3 L427.7 906.1 L429.3 905.8 L431.0 905.5 L432.7 906.4 L434.3 907.4 L435.6 907.1 L436.9 908.6 L438.1 909.2 L439.3 911.1 L440.2 912.9 L441.2 914.2 L442.1 914.6 L443.1 915.8 L444.1 917.0 L445.0 918.3 L445.9 919.6 L446.8 920.9 L447.6 922.4 L448.4 923.9 L449.2 925.4 L450.0 926.9 L450.8 928.4 L451.6 929.8 L452.5 931.2 L453.4 932.5 L454.3 933.8 L455.1 935.0 L456.0 936.2 L457.0 937.0 L458.0 939.0 L459.1 940.2 L460.4 940.7 L461.7 941.8 L463.1 943.2 L464.6 943.4 L466.1 944.0 L467.6 944.4 L469.1 945.8 L470.7 945.1 L472.4 946.8 L474.1 946.7 L475.8 947.8 L477.4 947.3 L479.1 947.5 L480.6 947.9 L482.2 948.9 L483.7 948.3 L485.2 949.1 L486.6 948.9 L488.1 949.4 L491.0 927.5 L491.3 929.0 L491.7 930.6 L492.0 932.2 L492.3 933.9 L492.7 935.4 L493.0 936.9 L493.4 938.3 L493.9 939.5 L494.8 941.5 L495.8 943.1 L497.2 944.9 L498.3 945.3 L499.5 946.2 L500.9 946.5 L502.4 947.8 L504.2 947.6 L506.2 947.8 L507.1 948.9 L508.1 948.5 L509.2 948.7 L510.3 948.2 L511.5 948.4 L512.8 947.4 L514.1 948.0 L515.4 948.0 L516.8 947.6 L518.3 947.5 L519.8 948.6 L521.3 948.9 L522.9 948.1 L524.5 949.3 L526.1 948.7 L527.7 948.5 L529.4 948.8 L531.1 948.2 L532.8 947.7 L534.5 947.8 L536.2 948.8 L537.9 949.2 L539.6 948.2 L541.3 949.0 L543.0 948.8 L544.7 949.0 L546.4 948.8 L548.1 948.9 L549.7 948.3 L551.3 948.0 L552.9 948.0 L554.5 948.2 L556.0 948.7 L559.1 926.2 L559.4 927.7 L559.7 929.2 L559.9 930.8 L560.2 932.3 L560.5 933.9 L560.8 935.3 L561.1 936.7 L561.5 938.0 L562.0 939.8 L562.5 941.6 L563.2 943.1 L564.1 944.4 L565.5 944.8 L567.2 946.6 L569.0 946.4 L570.7 946.4 L572.4 946.6 L574.0 946.0 L575.7 945.4 L577.1 945.2 L578.6 945.6 L580.2 946.0 L582.3 947.7 L583.2 948.4 L584.2 949.1 L585.2 948.9 L586.4 948.8 L587.6 948.9 L588.9 949.1 L590.3 948.7 L591.7 948.8 L593.1 949.7 L594.6 948.3 L596.2 947.8 L597.8 947.7 L599.4 948.5 L601.1 949.2 L602.8 948.7 L604.5 949.0 L606.2 948.8 L607.9 948.8 L609.6 948.5 L611.4 948.5 L613.1 948.6 L614.8 949.1 L616.5 949.9 L618.1 948.4 L619.8 948.8 L621.4 948.7 L623.0 949.2 L624.5 948.7 L627.3 927.8 L627.7 929.5 L628.0 931.4 L628.3 933.2 L628.7 934.9 L629.1 936.5 L629.5 938.0 L630.2 939.8 L630.9 941.4 L631.9 943.5 L633.4 944.6 L635.1 945.5 L636.9 945.3 L638.3 945.1 L639.8 946.7 L641.9 947.5 L642.7 946.7 L643.5 947.5 L644.5 947.6 L645.5 946.2 L646.6 947.2 L647.8 946.8 L649.1 947.6 L650.4 947.2 L651.7 947.0 L653.2 946.6 L654.7 947.0 L656.2 947.8 L657.8 947.5 L659.4 946.7 L661.1 948.3 L662.8 949.0 L664.5 948.8 L666.3 948.1 L668.0 947.5 L669.8 947.0 L671.6 947.8 L673.4 948.6 L675.2 947.9 L677.0 948.1 L678.8 948.1 L680.6 948.1 L682.3 948.5 L684.1 949.5 L685.8 948.7 L687.5 949.0 L689.2 949.3 L690.8 948.8 L692.4 948.7 L694.0 948.7 L697.4 930.2 L698.1 931.9 L698.7 933.9 L699.3 935.8 L700.0 937.5 L700.7 938.8 L701.4 938.8 L702.9 938.5 L704.7 936.6 L706.0 936.3 L707.6 936.6 L709.4 936.6 L711.2 936.9 L713.0 937.7 L714.7 939.3 L716.2 939.7 L717.7 940.9 L719.1 941.1 L720.6 941.5 L722.0 944.0 L723.3 944.2 L724.6 943.6 L725.8 943.4 L727.0 942.6 L728.0 941.0 L729.1 939.5 L730.1 938.4 L731.2 937.0 L732.5 937.3 L733.7 938.8 L734.9 939.8 L736.3 941.8 L737.8 943.2 L739.2 943.8 L740.8 944.0 L742.5 944.5 L744.2 944.6 L746.0 945.1 L747.7 945.5 L749.4 945.4 L750.9 945.7 L752.4 946.3 L753.9 944.7 L755.4 943.9 L756.9 943.4 L758.4 942.8 L759.8 942.0 L761.1 941.6 L762.7 942.5 L764.3 943.3 L765.8 944.2 L767.1 944.2 L768.2 944.7 L770.5 943.1 L771.4 942.7 L772.6 943.1 L773.9 944.3 L775.4 943.2 L777.0 944.2 L778.7 944.1 L780.5 944.3 L782.2 945.1 L783.9 946.1 L785.5 946.4 L787.0 945.8 L788.7 945.3 L790.4 945.3 L792.2 945.3 L794.0 944.6 L795.7 943.6 L797.3 944.4 L798.7 943.2 L800.0 942.6 L801.0 941.8 L802.3 940.5 L803.4 938.8 L804.9 939.3 L806.6 940.0 L808.1 941.2 L810.4 941.7 L811.5 941.9 L812.7 944.0 L814.0 944.6 L815.6 945.6 L817.5 946.5 L818.5 946.6 L819.7 946.5 L821.0 945.8 L822.5 945.6 L824.1 946.8 L825.8 947.4 L827.5 947.7 L829.3 946.9 L831.2 946.4 L833.1 946.7 L835.0 946.8 L836.9 947.6 L838.8 947.4 L840.6 948.6 L842.4 948.1 L844.1 947.8 L845.8 948.3 L847.3 948.2 L848.7 947.5 L849.9 947.8 L851.0 948.3 L852.0 946.8 L852.7 946.2 L853.8 945.2 L854.3 943.7 L854.5 942.0 L854.7 940.2 L855.0 938.6 L857.4 945.7 L858.9 945.0 L860.5 944.1 L862.0 944.9 L863.4 945.2 L865.0 945.4 L866.5 945.2 L868.1 943.9 L869.8 944.2 L871.5 944.0 L872.9 943.7 L874.3 943.6 L875.7 944.5 L877.2 944.5 L878.8 945.7 L880.4 945.6 L881.9 944.5 L883.6 945.3 L885.2 946.0 L886.8 945.9 L888.4 945.3 L890.1 946.5 L891.7 945.7 L893.3 945.9 L894.9 945.2 L896.5 946.4 L899.2 890.5 L900.8 908.1 L901.8 909.9 L902.8 910.5 L904.3 911.4 L905.4 912.8 L906.7 913.3 L908.2 912.5 L909.7 911.3 L911.4 911.0 L913.0 910.9 L914.6 909.8 L916.1 909.6 L917.6 910.2 L919.2 911.2 L920.8 911.8 L922.3 912.6 L923.8 912.6 L925.3 912.4 L926.6 914.0 L927.8 914.5 L929.6 915.8 L931.0 916.9 L932.5 918.7 L933.4 919.7 L934.2 921.0 L935.1 922.3 L935.9 923.8 L936.8 925.3 L937.6 926.7 L938.6 928.0 L939.5 928.8 L940.6 930.9 L941.7 931.7 L942.8 932.7 L944.0 933.8 L945.2 934.9 L946.6 935.7 L947.8 935.3 L949.1 936.0 L950.4 938.0 L951.9 938.7 L953.3 939.4 L954.8 940.1 L956.3 940.3 L957.8 940.7 L959.3 941.4 L960.7 942.6" fill="none" stroke="#000" stroke-width="3.7" stroke-linejoin="round" stroke-linecap="round"/>
<path d="M138.6 1078.5 L140.3 1078.9 L142.0 1078.6 L143.7 1079.1 L145.5 1078.6 L147.1 1078.9 L148.5 1078.2 L149.8 1076.9 L151.8 1076.7 L153.5 1075.4 L155.4 1074.5 L157.3 1072.5 L159.2 1068.7 L161.0 1075.7 L162.5 1076.3 L164.1 1076.0 L165.6 1076.1 L167.2 1075.6 L168.7 1075.4 L170.3 1075.4 L171.8 1075.7 L173.4 1075.4 L175.0 1075.9 L176.6 1076.4 L178.1 1077.5 L179.6 1077.9 L181.2 1077.2 L182.8 1077.3 L184.4 1076.8 L186.0 1076.9 L187.7 1076.7 L189.4 1076.3 L191.2 1076.4 L192.6 1075.7 L194.0 1076.3 L195.5 1076.3 L197.0 1075.9 L198.5 1076.0 L200.1 1076.5 L201.6 1076.2 L203.2 1076.6 L204.8 1076.8 L206.5 1077.4 L208.1 1076.4 L209.7 1076.4 L211.3 1076.7 L212.9 1077.3 L214.5 1077.0 L216.1 1077.1 L217.7 1076.5 L219.3 1084.1 L221.0 1070.9 L222.1 1072.2 L223.2 1073.1 L224.3 1073.7 L225.9 1073.9 L227.6 1072.6 L228.6 1074.4 L229.5 1074.8 L230.9 1075.8 L231.8 1075.3 L232.8 1076.3 L234.0 1076.7 L235.3 1077.9 L236.7 1077.6 L238.3 1077.4 L239.9 1076.7 L241.6 1077.0 L243.3 1077.7 L245.1 1078.0 L246.9 1078.4 L248.7 1078.4 L250.5 1077.9 L252.3 1078.0 L254.1 1077.8 L255.8 1077.0 L257.4 1078.1 L258.9 1078.0 L260.4 1077.2 L261.9 1077.5 L263.3 1077.5 L264.8 1077.9 L266.4 1078.2 L267.9 1076.1 L269.4 1076.8 L270.9 1077.6 L272.4 1076.7 L273.9 1075.7 L275.4 1076.2 L276.9 1076.4 L278.4 1076.5 L280.0 1075.8 L281.5 1075.6 L283.0 1075.9 L284.5 1076.2 L286.0 1075.8 L289.5 1065.2 L290.3 1066.8 L291.1 1068.4 L291.8 1070.0 L292.7 1071.4 L293.8 1073.7 L295.1 1074.0 L296.5 1073.8 L298.2 1072.8 L300.4 1074.2 L301.3 1074.2 L302.2 1074.3 L303.3 1074.0 L304.6 1074.7 L305.9 1073.8 L307.3 1074.4 L308.8 1074.7 L310.4 1074.9 L312.1 1075.6 L313.8 1075.3 L315.6 1075.2 L317.4 1075.6 L319.3 1074.6 L321.2 1074.7 L323.1 1075.0 L325.1 1075.6 L327.0 1075.0 L328.9 1075.5 L330.9 1075.6 L332.8 1074.7 L334.6 1074.2 L336.5 1074.1 L338.3 1074.8 L340.0 1075.1 L341.7 1075.6 L343.3 1075.9 L344.9 1075.3 L346.3 1075.9 L347.7 1076.0 L348.9 1076.0 L350.0 1075.9 L351.1 1075.0 L351.9 1075.4 L352.7 1075.0 L353.3 1074.6 L355.7 1075.7 L358.2 1059.2 L358.8 1060.9 L359.3 1062.6 L359.9 1064.2 L360.7 1065.8 L361.6 1066.4 L362.7 1067.9 L363.8 1069.0 L365.1 1070.0 L366.3 1070.7 L367.5 1072.4 L368.1 961.6 L369.8 1016.2 L371.4 1016.8 L373.1 1017.3 L374.6 1017.3 L376.4 1018.1 L378.2 1019.4 L379.7 1019.6 L381.0 1019.9 L382.0 1021.4 L383.0 1022.8 L383.5 1023.8 L383.9 1025.1 L384.3 1026.5 L384.6 1028.0 L384.9 1029.6 L385.2 1031.3 L385.5 1032.9 L385.9 1034.5 L386.3 1036.0 L386.8 1037.5 L387.3 1039.0 L387.8 1040.5 L388.4 1042.0 L388.9 1043.6 L389.5 1045.0 L390.1 1046.5 L390.7 1047.9 L391.3 1049.3 L392.0 1050.8 L392.7 1052.3 L393.3 1053.8 L394.1 1055.2 L394.8 1056.6 L395.5 1057.9 L396.3 1059.2 L397.3 1060.6 L398.3 1062.0 L399.4 1063.7 L400.4 1064.5 L401.5 1065.8 L402.9 973.2 L404.5 1007.9 L405.8 1010.2 L407.1 1010.9 L408.3 1011.8 L409.5 1013.1 L410.7 1015.5 L411.8 1015.7 L412.8 1016.2 L413.3 1017.2 L413.8 1018.4 L414.2 1019.8 L414.6 1021.2 L415.0 1022.8 L415.3 1024.4 L415.7 1026.1 L416.1 1027.8 L416.4 1029.1 L416.7 1030.4 L417.0 1031.8 L417.3 1033.3 L417.6 1034.8 L417.9 1036.3 L418.2 1037.9 L418.4 1039.5 L418.7 1041.1 L419.0 1042.8 L419.3 1044.4 L419.6 1046.1 L419.9 1047.8 L420.2 1049.4 L420.5 1051.0 L420.8 1052.6 L421.1 1054.2 L424.4 1001.3 L424.6 1002.9 L424.8 1004.4 L424.9 1006.0 L425.1 1007.6 L425.3 1009.1 L425.4 1010.7 L425.6 1012.3 L425.8 1013.8 L425.9 1015.4 L426.1 1017.0 L426.3 1018.5 L426.5 1020.1 L426.6 1021.7 L426.8 1023.2 L427.0 1024.8 L427.3 1026.3 L427.5 1027.9 L427.7 1029.4 L427.9 1031.0 L428.2 1032.6 L428.4 1034.3 L428.6 1036.0 L428.9 1037.7 L429.1 1039.4 L429.3 1041.1 L429.6 1042.7 L429.9 1044.4 L430.1 1046.0 L430.4 1047.6 L430.7 1049.2 L431.1 1050.6 L431.4 1052.1 L431.8 1053.4 L432.2 1054.7 L432.7 1055.9 L433.5 1057.7 L434.3 1059.4 L435.2 1060.9 L436.1 1062.3 L437.1 1064.5 L438.2 1065.5 L439.3 1065.2 L440.7 1066.0 L442.2 1066.5 L443.8 1067.8 L445.5 1068.5 L447.5 1069.9 L448.7 1069.7 L450.0 1069.9 L451.4 1070.0 L452.8 1070.2 L454.4 1071.5 L456.0 1071.2 L457.6 1071.7 L459.3 1071.9 L461.0 1071.1 L462.7 1071.4 L464.4 1071.1 L466.1 1071.3 L467.8 1071.4 L469.4 1071.5 L470.9 1071.3 L472.4 1072.3 L474.0 1071.9 L475.6 1072.3 L477.1 1072.9 L478.7 1072.8 L480.2 1073.0 L481.7 1073.2 L483.2 1073.3 L484.6 1073.6 L486.1 1072.2 L487.6 1073.3 L489.1 1072.8 L490.6 1072.4 L493.8 1056.0 L494.2 1057.6 L494.6 1059.3 L495.0 1061.0 L495.5 1062.6 L496.0 1064.0 L496.8 1065.9 L497.7 1067.5 L498.9 1068.1 L500.3 1068.5 L501.9 1068.0 L503.8 1068.3 L506.2 1067.7 L507.1 1067.7 L508.0 1068.4 L509.0 1068.6 L510.1 1068.3 L511.2 1068.4 L512.4 1068.5 L513.7 1068.7 L515.0 1068.7 L516.3 1068.7 L517.8 1069.2 L519.2 1068.2 L520.7 1068.3 L522.3 1068.6 L523.8 1068.6 L525.4 1068.5 L527.1 1068.5 L528.7 1068.8 L530.4 1069.5 L532.1 1069.2 L533.8 1069.0 L535.6 1069.2 L537.3 1069.0 L539.0 1068.1 L540.8 1068.7 L542.5 1068.7 L544.2 1068.7 L546.0 1069.2 L547.7 1069.2 L549.4 1068.9 L551.0 1068.0 L552.7 1067.8 L554.3 1068.5 L555.9 1068.8 L557.5 1069.3 L559.0 1069.3 L562.4 1051.1 L563.0 1052.9 L563.7 1054.6 L564.3 1056.4 L565.0 1058.0 L565.7 1059.6 L566.5 1061.1 L567.4 1062.7 L568.3 1064.0 L569.2 1065.3 L570.3 1066.6 L571.4 1068.0 L572.4 1069.3 L573.9 1067.9 L575.7 1066.5 L576.9 1065.8 L578.2 1065.7 L579.7 1066.4 L581.3 1066.4 L583.0 1067.6 L584.9 1067.4 L586.9 1067.2 L588.9 1068.0 L590.1 1067.5 L591.3 1069.0 L592.6 1068.5 L594.0 1068.7 L595.4 1068.7 L596.8 1068.5 L598.3 1067.9 L599.9 1067.5 L601.4 1068.7 L603.0 1069.3 L604.6 1070.2 L606.3 1068.9 L607.9 1069.2 L609.6 1069.0 L611.3 1069.4 L612.9 1068.8 L614.6 1069.2 L616.3 1069.4 L617.9 1069.4 L619.6 1069.8 L621.2 1069.2 L622.8 1069.7 L624.4 1068.8 L626.0 1068.7 L629.3 1053.5 L629.7 1055.2 L630.2 1057.0 L630.6 1058.8 L631.0 1060.5 L631.5 1062.0 L632.1 1063.8 L632.7 1065.5 L633.6 1067.6 L634.8 1066.4 L636.4 1067.1 L638.5 1067.1 L639.2 1067.5 L640.0 1068.2 L640.9 1068.5 L641.9 1068.3 L643.0 1069.1 L644.1 1067.9 L645.3 1067.7 L646.5 1068.8 L647.8 1068.8 L649.2 1067.6 L650.6 1068.2 L652.1 1067.8 L653.6 1069.0 L655.2 1069.4 L656.8 1068.8 L658.4 1069.5 L660.1 1068.8 L661.8 1069.3 L663.5 1069.5 L665.3 1069.2 L667.0 1068.4 L668.8 1068.7 L670.6 1067.8 L672.4 1068.3 L674.2 1067.9 L676.0 1069.2 L677.8 1068.9 L679.6 1068.0 L681.4 1069.0 L683.2 1069.5 L684.9 1069.3 L686.7 1070.6 L688.4 1070.6 L690.1 1070.2 L691.7 1069.7 L693.4 1068.4 L695.0 1069.4 L696.5 1070.0 L699.8 1050.2 L701.0 1051.6 L702.1 1052.4 L703.4 1052.9 L704.7 1054.1 L706.2 1053.7 L707.8 1054.1 L709.5 1054.6 L711.3 1055.3 L712.6 1055.4 L714.0 1055.7 L715.4 1056.5 L716.9 1057.5 L718.4 1057.5 L719.8 1057.1 L721.3 1057.2 L722.9 1056.8 L724.5 1056.5 L726.2 1056.5 L727.8 1056.5 L729.5 1056.3 L731.2 1056.2 L732.8 1056.1 L734.5 1056.9 L736.4 1057.8 L738.2 1058.6 L739.9 1059.6 L741.6 1059.3 L743.1 1059.1 L744.4 1059.7 L745.7 1058.3 L746.7 1056.1 L747.6 1054.3 L748.4 1052.8 L749.4 1052.6 L750.5 1052.6 L751.6 1054.3 L752.8 1055.3 L754.1 1055.7 L755.7 1056.1 L757.5 1055.8 L759.4 1056.1 L761.1 1056.1 L762.2 1057.1 L763.2 1058.3 L764.2 1059.9 L765.2 1061.5 L766.2 1063.0 L767.2 1063.9 L768.2 1064.6 L769.3 1063.9 L770.5 1063.6 L771.6 1061.3 L772.8 1059.9 L774.0 1058.6 L775.2 1058.6 L776.9 1058.7 L778.6 1059.5 L780.4 1060.1 L782.3 1060.5 L783.6 1060.7 L785.1 1061.6 L786.6 1062.3 L788.1 1063.5 L789.7 1064.4 L791.2 1065.3 L792.6 1065.3 L794.0 1064.9 L795.5 1064.3 L797.0 1064.0 L798.5 1063.6 L799.8 1063.6 L801.1 1062.3 L802.2 1062.1 L803.5 1059.5 L804.6 1059.6 L805.7 1057.6 L806.6 1058.7 L807.4 1059.3 L808.3 1061.0 L809.2 1063.4 L810.4 1064.4 L811.7 1063.9 L813.3 1063.6 L814.9 1062.2 L816.6 1061.3 L818.3 1060.7 L819.8 1061.4 L821.3 1061.4 L822.8 1062.7 L824.2 1063.6 L825.5 1064.0 L826.8 1064.5 L828.4 1064.0 L829.9 1062.0 L831.5 1061.6 L832.8 1061.5 L834.2 1062.0 L835.7 1063.5 L837.1 1064.6 L838.6 1065.0 L840.3 1065.0 L842.0 1065.8 L843.7 1066.4 L845.6 1066.5 L847.1 1066.9 L848.6 1066.4 L850.2 1067.2 L851.9 1067.6 L853.6 1067.9 L855.5 1067.6 L857.4 1067.9 L858.7 1068.1 L860.1 1068.7 L861.6 1068.7 L863.1 1068.7 L864.7 1068.3 L866.3 1068.9 L867.9 1069.4 L869.6 1068.9 L871.2 1069.2 L872.9 1069.3 L874.5 1069.1 L876.1 1068.5 L877.7 1069.7 L879.3 1068.5 L880.8 1069.0 L882.5 1069.0 L884.1 1069.7 L885.7 1069.3 L887.3 1069.3 L888.9 1069.6 L890.5 1069.7 L892.1 1069.2 L893.7 1069.5 L895.2 1069.6 L896.8 1069.9 L898.4 1069.3 L900.0 1069.2 L900.8 975.3 L900.9 976.8 L901.0 978.4 L901.2 980.0 L901.3 981.6 L901.4 983.2 L901.5 984.8 L901.6 986.5 L901.7 988.1 L901.8 989.7 L901.9 991.3 L902.0 992.8 L902.2 994.4 L902.3 995.8 L902.4 997.3 L902.6 998.6 L902.7 999.9 L902.9 1001.2 L903.1 1002.3 L903.5 1004.1 L903.8 1005.8 L904.3 1007.3 L904.7 1008.7 L905.1 1010.1 L905.5 1011.6 L907.2 1011.9 L908.8 1012.0 L910.5 1012.0 L912.1 1012.8 L913.7 1013.6 L915.2 1015.0 L916.7 1015.4 L918.1 1016.4 L919.5 1018.0 L920.8 1019.0 L921.6 1019.8 L922.4 1021.0 L923.1 1022.3 L923.8 1023.8 L924.5 1025.2 L925.1 1026.8 L925.8 1028.3 L926.4 1029.8 L927.1 1031.4 L927.8 1032.8 L928.5 1034.2 L929.1 1035.7 L929.8 1037.2 L930.4 1038.6 L931.1 1040.1 L931.8 1041.6 L932.5 1043.0 L933.2 1044.3 L934.0 1045.7 L934.8 1046.9 L935.8 1048.2 L936.8 1049.7 L937.9 1050.9 L939.0 1051.6 L940.2 1052.4 L941.4 1054.4 L942.8 1055.4 L944.2 1056.3 L945.4 1056.4 L946.7 1057.4 L948.0 1058.8 L949.4 1058.7 L950.9 1059.0 L952.4 1060.5 L953.9 1061.7 L955.4 1062.7 L957.0 1062.4 L958.5 1063.1 L960.0 1063.1 L961.5 1064.1 L963.0 1064.5" fill="none" stroke="#000" stroke-width="3.7" stroke-linejoin="round" stroke-linecap="round"/>
<path d="M141.5 1477.6 L143.3 1477.2 L145.2 1476.9 L147.1 1477.1 L148.8 1476.7 L150.4 1476.4 L151.5 1476.7 L152.3 1477.7 L152.7 1479.3 L153.1 1480.9 L155.8 1424.7 L155.9 1426.3 L156.0 1427.9 L156.1 1429.5 L156.2 1431.2 L156.3 1432.8 L156.4 1434.4 L156.5 1436.1 L156.6 1437.7 L156.7 1439.3 L156.8 1440.9 L156.9 1442.5 L157.0 1444.1 L157.1 1445.6 L157.2 1447.1 L157.4 1448.6 L157.5 1450.0 L157.7 1451.8 L157.8 1453.6 L157.9 1455.4 L158.0 1457.2 L158.2 1458.9 L158.3 1460.5 L158.5 1462.1 L158.8 1463.5 L159.2 1464.8 L159.7 1466.0 L160.6 1467.6 L161.7 1469.1 L163.0 1469.9 L164.7 1471.0 L165.7 1471.7 L166.8 1472.6 L168.0 1471.6 L169.4 1471.7 L170.8 1471.7 L172.3 1472.8 L174.0 1474.0 L175.6 1473.8 L177.3 1473.7 L179.1 1474.1 L180.8 1472.9 L182.6 1473.3 L184.4 1472.3 L186.1 1473.2 L187.9 1473.5 L189.6 1473.7 L191.2 1474.2 L192.7 1474.1 L194.3 1474.9 L195.8 1474.8 L197.4 1475.0 L198.9 1476.1 L200.5 1475.4 L202.0 1475.7 L203.6 1475.1 L205.2 1475.7 L206.8 1476.0 L208.4 1475.8 L209.9 1476.1 L211.5 1476.5 L213.1 1476.7 L214.7 1476.2 L216.3 1476.0 L217.9 1476.4 L219.4 1475.6 L221.0 1476.0 L224.3 1420.4 L224.4 1421.9 L224.6 1423.5 L224.7 1425.1 L224.8 1426.7 L224.9 1428.3 L225.1 1429.9 L225.2 1431.5 L225.3 1433.1 L225.4 1434.7 L225.6 1436.3 L225.7 1437.8 L225.8 1439.3 L226.0 1440.8 L226.2 1442.2 L226.3 1443.6 L226.5 1445.0 L226.8 1446.8 L227.1 1448.5 L227.4 1450.1 L227.7 1451.8 L228.0 1453.3 L228.3 1454.9 L228.6 1456.4 L228.9 1457.9 L229.2 1459.4 L229.5 1461.1 L229.7 1462.8 L230.0 1464.5 L230.2 1466.1 L230.4 1467.7 L230.7 1469.4 L230.9 1471.0 L232.5 1459.4 L234.2 1458.9 L235.8 1459.2 L237.5 1459.6 L239.0 1460.9 L240.6 1462.2 L242.2 1462.7 L244.1 1463.3 L245.5 1462.6 L247.1 1462.7 L248.7 1462.8 L250.4 1462.5 L252.2 1462.3 L254.0 1462.4 L255.7 1461.8 L257.4 1461.7 L259.0 1461.3 L260.7 1462.5 L262.3 1462.3 L263.9 1462.1 L265.5 1463.3 L267.2 1463.6 L268.9 1464.4 L270.6 1464.4 L272.1 1465.5 L273.6 1465.6 L275.2 1465.5 L276.7 1465.5 L278.3 1465.5 L280.0 1466.0 L281.6 1466.9 L283.2 1466.4 L284.8 1466.0 L286.4 1466.6 L288.0 1466.7 L291.4 1423.0 L291.5 1424.6 L291.7 1426.2 L291.8 1427.9 L292.0 1429.5 L292.1 1431.2 L292.3 1432.8 L292.4 1434.5 L292.6 1436.1 L292.7 1437.7 L292.9 1439.3 L293.0 1440.8 L293.2 1442.3 L293.3 1443.7 L293.5 1445.0 L293.7 1446.8 L293.9 1448.5 L294.1 1450.0 L294.4 1451.6 L294.6 1453.1 L295.0 1454.6 L295.4 1456.1 L295.8 1457.6 L296.3 1459.2 L296.8 1460.8 L297.3 1462.4 L298.0 1463.9 L298.7 1465.3 L299.5 1466.6 L300.4 1468.2 L301.5 1468.3 L302.6 1468.9 L303.9 1469.4 L305.2 1470.5 L306.7 1471.2 L308.4 1471.3 L310.3 1471.4 L311.3 1472.2 L312.4 1471.6 L313.5 1472.5 L314.7 1472.7 L316.0 1473.8 L317.3 1474.0 L318.7 1473.5 L320.2 1473.5 L321.6 1473.6 L323.2 1473.5 L324.7 1473.8 L326.3 1474.4 L327.9 1473.7 L329.6 1474.0 L331.3 1474.9 L333.0 1475.1 L334.7 1474.5 L336.4 1474.3 L338.1 1474.3 L339.9 1474.0 L341.6 1475.0 L343.3 1475.1 L345.1 1474.9 L346.8 1474.6 L348.5 1474.9 L350.2 1475.0 L351.8 1476.1 L353.4 1475.8 L355.0 1475.9 L356.6 1476.0 L359.9 1429.6 L360.0 1431.2 L360.1 1432.8 L360.3 1434.4 L360.4 1436.0 L360.5 1437.7 L360.6 1439.3 L360.7 1440.9 L360.8 1442.5 L361.0 1444.1 L361.1 1445.6 L361.2 1447.1 L361.4 1448.6 L361.5 1450.0 L361.7 1451.8 L361.8 1453.5 L361.9 1455.2 L362.1 1456.8 L362.3 1458.4 L362.5 1459.9 L362.9 1461.3 L363.3 1462.7 L364.0 1464.4 L364.7 1466.0 L365.6 1467.5 L366.7 1469.3 L368.2 1470.5 L369.2 1470.7 L370.3 1470.2 L371.6 1471.6 L373.0 1472.0 L374.4 1471.9 L376.0 1472.1 L377.6 1471.9 L379.2 1471.9 L380.9 1471.7 L382.7 1472.5 L384.4 1472.9 L386.2 1473.1 L388.0 1473.5 L389.7 1473.7 L391.0 1473.7 L392.4 1473.4 L393.8 1473.9 L395.3 1474.4 L396.7 1474.5 L398.2 1474.9 L399.7 1474.4 L401.2 1474.1 L402.7 1474.8 L404.2 1474.5 L405.8 1474.8 L407.4 1474.8 L408.9 1474.9 L410.5 1474.9 L412.1 1474.8 L413.6 1474.3 L415.2 1475.7 L416.8 1475.7 L418.3 1474.9 L419.9 1474.9 L421.4 1474.9 L423.0 1475.2 L424.5 1476.0 L427.8 1447.8 L428.1 1449.4 L428.3 1451.0 L428.5 1452.6 L428.7 1454.3 L428.9 1455.9 L429.1 1457.6 L429.4 1459.2 L429.6 1460.7 L429.9 1462.2 L430.2 1463.6 L430.6 1464.9 L431.1 1466.0 L431.9 1467.6 L432.7 1469.0 L433.7 1468.8 L434.8 1470.7 L436.0 1472.4 L437.2 1472.6 L438.5 1473.0 L439.8 1473.1 L441.3 1472.4 L443.0 1473.0 L445.0 1472.2 L446.0 1472.3 L447.0 1472.4 L448.1 1473.2 L449.3 1473.2 L450.5 1473.2 L451.8 1472.9 L453.1 1473.2 L454.5 1473.3 L456.0 1473.8 L457.4 1474.3 L459.0 1474.4 L460.5 1474.1 L462.1 1474.0 L463.7 1474.8 L465.4 1474.6 L467.0 1474.5 L468.7 1475.2 L470.4 1475.6 L472.1 1475.4 L473.8 1475.1 L475.5 1474.8 L477.3 1475.4 L479.0 1475.1 L480.7 1475.6 L482.3 1475.2 L484.0 1475.4 L485.7 1475.7 L487.3 1475.8 L488.9 1475.9 L490.5 1476.1 L492.0 1476.0 L495.6 1436.9 L495.7 1438.4 L495.9 1440.0 L496.0 1441.5 L496.1 1443.1 L496.2 1444.7 L496.4 1446.3 L496.5 1447.9 L496.6 1449.4 L496.7 1451.0 L496.9 1452.5 L497.0 1453.9 L497.2 1455.3 L497.3 1456.7 L497.5 1458.0 L497.8 1459.8 L498.1 1461.5 L498.4 1463.1 L498.7 1464.6 L499.0 1466.2 L499.3 1467.7 L499.6 1469.3 L501.3 1468.3 L503.0 1467.4 L504.6 1467.0 L506.2 1467.3 L507.9 1466.3 L509.6 1465.1 L511.1 1464.0 L512.2 1463.1 L513.2 1461.4 L514.2 1459.7 L515.1 1458.2 L516.1 1458.2 L517.1 1458.4 L518.0 1460.0 L519.0 1461.8 L520.0 1463.5 L521.1 1464.6 L522.7 1464.6 L524.4 1463.7 L526.0 1462.3 L527.1 1461.2 L528.1 1459.3 L529.0 1457.6 L530.0 1456.5 L531.0 1457.5 L531.9 1459.2 L533.0 1461.1 L534.3 1462.3 L535.7 1463.6 L537.2 1463.6 L538.9 1465.1 L540.7 1465.9 L542.6 1466.4 L543.9 1467.1 L545.3 1467.2 L546.8 1466.3 L548.3 1466.7 L549.9 1467.1 L551.5 1466.9 L553.1 1466.6 L554.7 1467.2 L556.3 1467.6 L557.9 1467.5 L559.5 1467.7 L563.1 1423.7 L563.2 1425.2 L563.4 1426.8 L563.5 1428.3 L563.6 1429.9 L563.7 1431.5 L563.9 1433.1 L564.0 1434.6 L564.1 1436.2 L564.2 1437.7 L564.4 1439.2 L564.5 1440.7 L564.7 1442.2 L564.8 1443.6 L565.0 1445.0 L565.2 1446.8 L565.4 1448.5 L565.6 1450.2 L565.8 1451.9 L566.0 1453.5 L566.3 1455.1 L566.6 1456.6 L566.9 1458.0 L567.4 1459.4 L568.0 1461.0 L568.7 1462.6 L569.4 1464.1 L570.3 1465.5 L571.3 1466.5 L572.4 1467.4 L573.7 1468.1 L575.1 1468.7 L576.6 1469.6 L578.3 1469.0 L580.2 1469.3 L582.3 1470.5 L583.3 1470.5 L584.4 1470.5 L585.5 1470.9 L586.7 1470.3 L588.0 1470.0 L589.3 1469.7 L590.7 1469.7 L592.1 1470.5 L593.5 1471.2 L595.0 1471.0 L596.6 1470.9 L598.2 1471.3 L599.8 1471.6 L601.4 1471.7 L603.1 1470.9 L604.7 1471.1 L606.4 1470.4 L608.1 1471.2 L609.8 1471.2 L611.5 1471.3 L613.2 1472.3 L614.9 1472.8 L616.6 1472.7 L618.3 1472.6 L620.0 1472.6 L621.6 1472.3 L623.3 1472.4 L624.9 1473.3 L626.5 1472.6 L628.0 1472.7 L631.3 1436.3 L631.4 1437.9 L631.6 1439.5 L631.7 1441.1 L631.8 1442.8 L631.9 1444.4 L632.1 1446.1 L632.2 1447.7 L632.3 1449.2 L632.5 1450.8 L632.6 1452.3 L632.8 1453.7 L633.0 1455.0 L633.3 1456.8 L633.5 1458.6 L633.7 1460.2 L634.0 1461.8 L634.5 1463.2 L635.2 1464.4 L636.1 1465.3 L637.2 1466.4 L638.4 1467.6 L640.0 1468.5 L641.9 1468.6 L642.7 1468.8 L643.7 1469.0 L644.8 1468.8 L646.0 1469.4 L647.3 1469.5 L648.7 1470.3 L650.2 1470.6 L651.8 1470.3 L653.5 1470.7 L655.2 1470.7 L657.0 1470.8 L658.8 1470.9 L660.7 1471.7 L662.6 1471.6 L664.5 1471.0 L666.5 1471.2 L668.5 1472.0 L670.5 1473.0 L672.4 1472.2 L674.4 1472.2 L676.3 1472.2 L678.2 1471.8 L680.1 1472.3 L682.0 1472.4 L683.7 1472.6 L685.5 1473.5 L687.1 1472.8 L688.7 1472.9 L690.2 1472.9 L691.6 1472.3 L692.9 1471.9 L694.1 1472.5 L695.1 1472.4 L696.1 1472.0 L696.9 1471.2 L697.6 1471.5 L698.1 1471.0 L699.3 1469.0 L699.8 1468.0 L700.3 1469.0 L701.4 1471.0 L701.9 1472.3 L702.5 1472.6 L703.2 1472.6 L703.9 1472.4 L704.8 1472.3 L705.7 1472.1 L706.8 1472.4 L707.9 1472.5 L709.1 1472.8 L710.3 1473.1 L711.7 1472.9 L713.1 1472.5 L714.5 1472.9 L716.0 1473.3 L717.5 1472.6 L719.1 1472.7 L720.8 1472.7 L722.5 1472.7 L724.2 1472.7 L725.9 1472.4 L727.7 1472.2 L729.5 1472.8 L731.3 1473.1 L733.2 1471.9 L735.0 1470.7 L736.9 1471.4 L738.7 1471.2 L740.6 1471.1 L742.5 1470.6 L744.3 1471.1 L746.1 1471.1 L748.0 1470.9 L749.8 1471.4 L751.6 1472.2 L753.3 1472.2 L755.0 1472.1 L756.7 1471.4 L758.4 1471.4 L760.0 1471.2 L761.4 1471.6 L762.9 1471.6 L764.3 1471.3 L765.8 1471.4 L767.2 1471.0 L768.7 1471.4 L770.1 1471.9 L771.6 1471.4 L773.1 1471.5 L774.6 1470.7 L776.1 1471.3 L777.6 1471.7 L779.1 1471.0 L780.6 1471.9 L782.1 1471.7 L783.6 1470.8 L785.2 1470.5 L786.7 1471.3 L788.2 1471.3 L789.8 1471.8 L791.3 1471.0 L792.8 1471.2 L794.4 1471.8 L795.9 1471.4 L797.4 1471.8 L799.0 1471.6 L800.5 1471.8 L802.1 1471.9 L803.6 1472.7 L805.2 1471.7 L806.7 1472.1 L808.2 1472.5 L809.8 1471.7 L811.3 1471.8 L812.8 1472.8 L814.4 1472.8 L815.9 1471.1 L817.4 1471.5 L818.9 1471.0 L820.5 1471.6 L822.0 1471.5 L823.5 1471.6 L825.0 1471.5 L826.5 1471.9 L828.0 1471.8 L829.5 1471.6 L831.0 1471.7 L832.4 1472.1 L833.9 1471.7 L835.4 1472.4 L837.0 1471.6 L838.5 1472.0 L840.0 1471.9 L841.6 1472.7 L843.1 1472.1 L844.6 1471.8 L846.1 1471.4 L847.7 1472.6 L849.2 1472.6 L850.7 1471.9 L852.2 1471.8 L853.7 1471.5 L855.2 1472.4 L856.7 1472.4 L858.2 1471.4 L859.7 1471.8 L861.2 1472.3 L862.7 1472.1 L864.2 1472.2 L865.7 1472.0 L867.2 1472.1 L868.7 1472.1 L870.2 1471.7 L871.7 1471.9 L873.1 1472.0 L874.6 1471.9 L876.1 1471.6 L877.6 1471.3 L879.1 1471.6 L880.6 1472.0 L882.1 1470.9 L883.6 1471.1 L885.1 1472.0 L886.5 1472.2 L888.0 1471.7 L889.5 1472.2 L891.0 1471.5 L892.5 1471.3 L894.0 1472.3 L895.5 1471.8 L897.0 1471.6 L898.5 1470.9 L900.0 1471.6 L902.4 1366.4 L903.6 1413.4 L905.5 1425.1 L906.1 1423.4 L906.7 1421.8 L907.8 1419.6 L908.9 1418.9 L910.2 1418.8 L911.7 1417.9 L913.4 1418.6 L915.1 1418.3 L916.8 1418.1 L918.4 1418.1 L919.9 1418.8 L921.3 1419.7 L922.8 1419.7 L924.3 1420.8 L925.7 1421.7 L927.2 1422.4 L928.7 1422.7 L930.1 1422.5 L931.5 1423.7 L932.8 1424.2 L934.2 1425.1 L935.6 1425.2 L936.9 1426.4 L938.2 1427.7 L939.5 1428.4 L940.7 1429.8 L941.9 1431.6 L943.0 1432.5 L944.0 1433.3 L945.0 1434.6 L945.9 1435.9 L946.9 1437.3 L947.8 1438.7 L948.7 1440.0 L949.6 1441.4 L950.4 1442.7 L951.3 1443.9 L952.3 1445.4 L953.3 1446.8 L954.3 1448.3 L955.3 1449.6 L956.2 1451.0 L957.2 1452.1 L958.3 1454.2 L959.7 1454.0 L961.1 1454.8 L962.5 1456.1 L964.0 1456.8 L965.4 1458.0" fill="none" stroke="#000" stroke-width="3.7" stroke-linejoin="round" stroke-linecap="round"/>
<path d="M139.9 1576.7 L141.6 1575.8 L143.2 1576.3 L144.9 1576.9 L146.5 1576.5 L148.2 1577.2 L149.8 1577.1 L151.5 1576.7 L153.8 1549.6 L153.9 1551.2 L154.1 1552.8 L154.2 1554.4 L154.4 1556.0 L154.5 1557.6 L154.7 1559.1 L154.8 1560.6 L155.0 1562.0 L155.2 1563.7 L155.3 1565.3 L155.5 1566.9 L155.8 1568.2 L156.4 1569.4 L157.6 1571.3 L159.1 1571.1 L161.4 1572.0 L162.1 1572.9 L162.9 1573.6 L163.8 1573.8 L164.8 1573.4 L165.8 1573.3 L166.9 1573.0 L168.1 1573.7 L169.3 1573.3 L170.6 1573.5 L171.9 1572.8 L173.3 1572.7 L174.8 1574.1 L176.3 1574.1 L177.8 1574.2 L179.4 1573.3 L181.0 1573.8 L182.7 1575.0 L184.3 1574.1 L186.0 1573.4 L187.8 1573.9 L189.5 1574.1 L191.2 1574.4 L193.0 1574.1 L194.8 1574.0 L196.6 1574.0 L198.3 1574.8 L200.1 1575.0 L201.9 1575.4 L203.6 1574.9 L205.4 1575.4 L207.1 1575.2 L208.8 1575.4 L210.5 1575.9 L212.2 1575.8 L213.8 1575.7 L215.4 1575.1 L217.0 1575.6 L218.5 1576.0 L221.6 1547.9 L221.8 1549.5 L221.9 1551.2 L222.1 1552.9 L222.2 1554.7 L222.4 1556.4 L222.5 1558.2 L222.7 1559.8 L222.8 1561.5 L223.0 1563.0 L223.1 1564.5 L223.3 1565.8 L223.5 1567.0 L223.9 1569.2 L224.4 1570.9 L224.9 1572.7 L228.2 1574.4 L228.7 1572.9 L229.1 1571.3 L229.6 1569.7 L230.0 1568.1 L230.5 1566.5 L231.0 1565.1 L231.7 1563.9 L232.5 1563.0 L233.8 1561.5 L235.4 1560.8 L237.0 1559.5 L238.9 1558.9 L240.8 1559.2 L242.1 1559.7 L243.4 1559.3 L244.8 1558.5 L246.2 1558.7 L247.7 1558.3 L249.2 1558.7 L250.8 1559.9 L252.4 1559.8 L254.0 1559.6 L255.7 1560.0 L257.4 1559.6 L258.8 1559.6 L260.2 1559.6 L261.7 1559.6 L263.2 1558.8 L264.7 1559.2 L266.2 1559.5 L267.8 1558.2 L269.4 1557.4 L271.0 1557.6 L272.6 1558.7 L274.2 1558.6 L275.9 1558.7 L277.5 1558.7 L279.1 1558.8 L280.7 1558.1 L282.3 1557.8 L283.9 1557.9 L285.5 1557.8 L288.8 1535.7 L289.0 1537.3 L289.1 1539.0 L289.3 1540.7 L289.4 1542.5 L289.6 1544.2 L289.7 1545.9 L289.9 1547.6 L290.1 1549.2 L290.3 1550.8 L290.5 1552.3 L290.7 1553.7 L291.0 1555.0 L291.4 1556.9 L291.8 1558.6 L292.3 1560.2 L292.9 1561.6 L293.8 1563.1 L295.0 1564.2 L296.4 1564.7 L298.2 1564.9 L300.4 1565.8 L301.2 1566.0 L302.1 1566.4 L303.1 1565.2 L304.1 1566.1 L305.2 1565.2 L306.4 1565.9 L307.6 1566.0 L308.9 1566.4 L310.2 1566.4 L311.6 1566.6 L313.1 1566.9 L314.5 1567.2 L316.1 1566.9 L317.6 1566.1 L319.2 1566.5 L320.8 1567.3 L322.5 1567.1 L324.2 1567.6 L325.9 1567.6 L327.6 1567.4 L329.3 1568.2 L331.0 1568.9 L332.8 1568.5 L334.5 1568.4 L336.3 1568.8 L338.0 1568.1 L339.7 1568.0 L341.5 1568.8 L343.2 1569.2 L344.9 1568.8 L346.5 1568.6 L348.2 1569.0 L349.8 1568.5 L351.4 1568.7 L353.0 1568.9 L354.5 1569.4 L357.6 1543.6 L357.8 1545.1 L357.9 1546.7 L358.1 1548.2 L358.2 1549.8 L358.4 1551.4 L358.5 1553.0 L358.7 1554.5 L358.9 1556.0 L359.1 1557.4 L359.3 1558.7 L359.5 1560.0 L359.9 1561.8 L360.3 1563.3 L360.7 1564.8 L361.2 1566.3 L361.6 1567.8 L362.7 1565.8 L363.7 1563.8 L364.9 1561.6 L365.9 1563.0 L366.8 1564.7 L368.1 1566.6 L369.9 1568.3 L370.6 1567.8 L371.5 1567.7 L372.4 1567.9 L373.4 1568.0 L374.4 1569.5 L375.6 1569.1 L376.8 1569.2 L378.0 1569.6 L379.4 1569.9 L380.8 1570.5 L382.2 1569.8 L383.7 1570.4 L385.3 1570.4 L386.8 1569.8 L388.5 1570.1 L390.1 1569.7 L391.8 1570.7 L393.5 1570.3 L395.2 1570.8 L397.0 1571.2 L398.7 1570.6 L400.5 1570.2 L402.3 1570.4 L404.0 1570.1 L405.8 1570.7 L407.6 1570.8 L409.3 1570.4 L411.1 1570.3 L412.8 1570.8 L414.5 1570.2 L416.2 1571.2 L417.8 1570.8 L419.4 1570.8 L421.0 1570.6 L422.5 1571.1 L425.5 1557.8 L425.9 1559.5 L426.3 1561.3 L426.6 1563.0 L427.0 1564.6 L427.5 1566.0 L428.2 1568.0 L429.4 1569.9 L430.3 1570.3 L431.4 1570.8 L432.7 1570.7 L434.1 1570.4 L435.7 1570.8 L437.4 1570.5 L439.2 1570.1 L441.1 1570.0 L443.0 1570.0 L445.0 1569.8 L446.1 1569.6 L447.3 1568.9 L448.6 1570.1 L449.8 1569.4 L451.2 1568.7 L452.5 1569.0 L453.9 1570.3 L455.3 1570.7 L456.8 1570.2 L458.3 1570.4 L459.8 1570.4 L461.3 1569.6 L462.9 1570.0 L464.5 1570.5 L466.0 1571.2 L467.6 1570.6 L469.3 1569.9 L470.9 1570.0 L472.5 1570.8 L474.1 1571.2 L475.8 1571.5 L477.4 1571.8 L479.0 1571.7 L480.6 1571.3 L482.2 1572.0 L483.8 1572.3 L485.4 1572.6 L487.0 1573.1 L488.5 1572.4 L490.0 1572.7 L492.9 1553.5 L493.3 1555.2 L493.6 1557.0 L493.9 1558.7 L494.3 1560.5 L494.7 1562.1 L495.1 1563.7 L495.5 1565.0 L496.3 1566.6 L497.1 1568.0 L497.9 1569.4 L498.9 1568.0 L499.8 1566.6 L500.7 1565.2 L501.8 1562.8 L502.9 1561.5 L504.3 1562.1 L505.8 1561.0 L507.5 1560.7 L509.5 1560.2 L510.6 1560.3 L511.9 1561.2 L513.2 1560.1 L514.6 1559.5 L516.1 1559.0 L517.7 1559.0 L519.3 1559.1 L520.9 1558.4 L522.6 1559.0 L524.3 1559.1 L526.0 1558.8 L527.7 1558.4 L529.4 1558.1 L531.1 1557.2 L532.7 1557.7 L534.2 1557.2 L535.7 1557.1 L537.2 1557.7 L538.7 1557.1 L540.2 1556.9 L541.7 1557.3 L543.2 1558.0 L544.7 1557.1 L546.3 1557.4 L547.8 1556.8 L549.3 1556.9 L550.9 1556.9 L552.4 1556.2 L553.9 1556.7 L555.5 1557.3 L557.0 1556.8 L558.5 1556.2 L561.4 1539.6 L561.6 1541.1 L561.8 1542.7 L562.1 1544.3 L562.3 1545.8 L562.5 1547.4 L562.7 1548.9 L563.0 1550.4 L563.2 1551.7 L563.5 1553.0 L563.9 1554.9 L564.3 1556.6 L564.9 1558.1 L565.7 1559.5 L566.7 1560.9 L567.9 1561.1 L569.2 1562.7 L570.8 1563.2 L572.4 1563.1 L573.6 1564.1 L574.8 1563.7 L576.1 1564.1 L577.5 1563.8 L579.0 1565.3 L580.5 1566.5 L582.1 1566.0 L583.7 1565.9 L585.4 1566.0 L587.1 1566.2 L588.9 1566.8 L590.1 1567.6 L591.4 1567.0 L592.8 1567.4 L594.2 1566.7 L595.6 1567.8 L597.0 1567.8 L598.5 1567.5 L600.0 1568.4 L601.6 1568.2 L603.1 1568.8 L604.7 1569.0 L606.3 1569.4 L607.9 1568.6 L609.5 1568.6 L611.1 1568.8 L612.8 1568.7 L614.4 1569.4 L616.0 1568.8 L617.6 1569.3 L619.2 1569.8 L620.8 1568.7 L622.4 1568.6 L624.0 1568.6 L625.5 1569.4 L628.6 1549.6 L628.9 1551.3 L629.1 1553.0 L629.3 1554.7 L629.6 1556.4 L629.9 1558.1 L630.2 1559.6 L630.5 1561.0 L631.0 1563.0 L631.6 1564.7 L632.6 1565.5 L633.6 1566.7 L634.8 1567.1 L636.4 1567.5 L638.5 1567.6 L639.1 1567.7 L639.8 1568.1 L640.6 1568.4 L641.4 1568.0 L642.3 1568.1 L643.2 1567.9 L644.3 1568.0 L645.3 1567.6 L646.5 1568.5 L647.6 1568.8 L648.9 1568.6 L650.2 1568.3 L651.5 1568.3 L652.9 1568.2 L654.3 1567.8 L655.7 1569.0 L657.3 1570.3 L658.8 1569.0 L660.4 1568.4 L662.0 1568.9 L663.6 1569.1 L665.3 1568.3 L667.0 1567.8 L668.7 1568.6 L670.5 1567.9 L672.3 1569.0 L674.1 1568.8 L675.9 1568.9 L677.7 1568.9 L679.6 1568.7 L681.4 1568.8 L683.3 1568.7 L685.2 1569.4 L687.1 1569.1 L689.0 1569.0 L690.9 1568.8 L692.7 1568.6 L694.6 1568.5 L696.5 1568.7 L698.4 1569.6 L700.3 1569.8 L702.2 1569.4 L704.0 1569.9 L705.9 1569.9 L707.7 1569.5 L709.5 1569.1 L711.3 1568.6 L713.1 1568.9 L714.8 1568.8 L716.5 1568.2 L718.2 1568.0 L719.9 1569.3 L721.5 1569.2 L723.1 1569.3 L724.7 1569.2 L726.2 1568.9 L727.7 1569.1 L729.1 1569.5 L730.5 1569.2 L731.9 1569.3 L733.2 1569.6 L734.5 1569.2 L735.7 1569.2 L736.9 1568.9 L738.0 1569.3 L739.0 1569.1 L740.0 1569.6 L742.1 1569.2 L744.0 1570.0 L745.7 1569.6 L747.4 1569.3 L749.0 1569.1 L750.5 1569.7 L751.9 1569.4 L753.3 1570.5 L754.7 1570.8 L756.0 1570.7 L757.4 1569.9 L758.8 1570.1 L760.3 1569.9 L761.8 1570.4 L762.8 1555.6 L763.5 1571.5 L765.1 1570.5 L766.6 1571.0 L768.1 1572.0 L769.6 1571.3 L771.1 1571.5 L772.6 1571.7 L774.1 1570.9 L775.6 1570.6 L777.2 1570.8 L778.7 1570.9 L780.3 1570.2 L781.9 1570.4 L783.6 1570.4 L785.3 1570.8 L787.0 1569.9 L788.4 1569.9 L789.9 1569.9 L791.4 1570.0 L793.1 1570.5 L794.8 1570.1 L796.5 1571.4 L798.3 1570.6 L800.1 1570.8 L802.0 1571.0 L803.8 1571.1 L805.7 1570.6 L807.5 1570.2 L809.4 1570.2 L811.2 1570.6 L812.9 1570.6 L814.7 1570.8 L816.3 1571.0 L817.9 1570.5 L819.4 1570.2 L820.9 1571.1 L822.2 1570.8 L823.4 1570.3 L824.5 1571.5 L825.5 1571.1 L826.3 1570.9 L827.0 1571.7 L829.5 1572.8 L832.0 1570.2 L833.5 1569.8 L835.1 1569.6 L836.6 1570.3 L838.1 1569.9 L839.6 1571.1 L841.2 1570.6 L842.7 1571.5 L844.2 1570.8 L845.7 1570.5 L847.2 1570.0 L848.8 1569.9 L850.3 1569.8 L851.9 1569.9 L853.5 1570.3 L855.1 1569.6 L856.7 1569.4 L858.3 1568.8 L860.0 1570.0 L861.4 1570.0 L862.8 1570.0 L864.3 1570.0 L865.7 1570.4 L867.2 1570.4 L868.7 1570.6 L870.1 1570.3 L871.7 1570.1 L873.2 1570.1 L874.7 1569.3 L876.2 1570.2 L877.8 1569.5 L879.3 1569.4 L880.9 1570.1 L882.4 1570.2 L884.0 1570.6 L885.6 1571.1 L887.1 1571.5 L888.7 1571.5 L890.2 1570.8 L891.8 1571.4 L893.4 1570.5 L894.9 1570.4 L896.4 1570.8 L898.0 1570.5 L899.5 1570.4 L901.5 1470.0 L902.5 1515.2 L902.6 1516.8 L902.7 1518.4 L902.8 1520.0 L902.9 1521.6 L902.9 1523.2 L903.0 1524.8 L903.1 1526.4 L903.2 1528.0 L903.4 1529.5 L903.6 1531.1 L903.9 1532.6 L904.3 1534.0 L904.8 1535.6 L905.3 1537.1 L905.8 1538.6 L906.4 1540.1 L907.1 1541.6 L907.8 1543.0 L908.6 1544.3 L909.4 1545.7 L910.4 1546.9 L911.4 1548.1 L912.4 1549.0 L913.5 1550.6 L914.7 1550.2 L915.9 1552.0 L917.2 1553.2 L918.6 1553.7 L920.0 1554.6 L921.4 1554.7 L922.9 1556.0 L924.5 1557.7 L926.1 1557.2 L927.8 1558.3 L929.0 1558.3 L930.3 1558.3 L931.7 1558.5 L933.1 1558.8 L934.5 1558.7 L935.9 1558.7 L937.4 1560.1 L939.0 1560.3 L940.5 1560.7 L942.1 1560.9 L943.7 1561.2 L945.3 1560.5 L946.9 1560.6 L948.5 1561.4 L950.2 1562.0 L951.8 1561.5 L953.4 1561.6 L955.1 1561.5 L956.7 1562.3 L958.3 1562.7 L959.9 1562.9 L961.5 1562.8 L963.0 1563.3" fill="none" stroke="#000" stroke-width="3.7" stroke-linejoin="round" stroke-linecap="round"/>
<path d="M141.5 1683.2 L143.1 1683.3 L144.6 1683.3 L146.2 1683.0 L147.8 1683.2 L149.4 1683.0 L150.9 1683.4 L152.5 1683.2 L155.8 1617.1 L155.9 1618.7 L156.0 1620.3 L156.1 1621.9 L156.2 1623.5 L156.2 1625.1 L156.3 1626.8 L156.4 1628.4 L156.5 1630.1 L156.6 1631.7 L156.6 1633.4 L156.7 1635.0 L156.8 1636.6 L156.9 1638.2 L157.0 1639.8 L157.1 1641.4 L157.2 1643.0 L157.3 1644.5 L157.4 1646.0 L157.5 1647.4 L157.7 1648.8 L157.8 1650.2 L157.9 1651.5 L158.1 1652.8 L158.3 1654.6 L158.5 1656.3 L158.7 1658.0 L158.9 1659.6 L159.1 1661.2 L159.4 1662.7 L159.7 1664.2 L160.0 1665.6 L160.4 1666.9 L160.9 1668.1 L161.4 1669.3 L162.2 1670.7 L163.1 1672.0 L164.1 1673.5 L165.2 1674.1 L166.5 1675.3 L168.0 1676.1 L169.1 1676.3 L170.3 1676.4 L171.6 1676.4 L173.0 1676.7 L174.5 1677.5 L176.0 1678.3 L177.6 1678.0 L179.3 1678.3 L181.0 1678.5 L182.7 1678.9 L184.4 1679.0 L186.1 1679.4 L187.8 1679.5 L189.5 1679.1 L191.2 1679.5 L192.6 1678.7 L194.0 1679.2 L195.5 1679.6 L196.9 1680.2 L198.4 1680.2 L199.9 1680.7 L201.4 1681.3 L202.9 1680.9 L204.4 1680.8 L205.9 1681.2 L207.4 1681.6 L208.9 1681.8 L210.4 1682.2 L211.9 1681.8 L213.5 1682.4 L215.0 1682.9 L216.5 1683.3 L218.0 1683.3 L219.5 1683.2 L221.0 1683.2 L223.6 1614.7 L223.7 1616.2 L223.8 1617.8 L223.8 1619.4 L223.9 1621.0 L223.9 1622.6 L224.0 1624.3 L224.0 1625.9 L224.1 1627.6 L224.1 1629.2 L224.2 1630.9 L224.2 1632.5 L224.3 1634.1 L224.3 1635.8 L224.4 1637.4 L224.4 1639.0 L224.5 1640.6 L224.6 1642.2 L224.6 1643.7 L224.7 1645.2 L224.8 1646.7 L224.9 1648.2 L225.1 1649.6 L225.2 1651.0 L225.4 1652.3 L225.5 1653.6 L225.7 1654.9 L225.9 1656.1 L226.3 1657.9 L226.6 1659.6 L227.1 1661.2 L227.5 1662.7 L228.0 1664.2 L228.5 1665.6 L229.0 1667.0 L229.5 1668.4 L230.0 1669.8 L230.4 1671.2 L230.9 1672.7 L231.2 1671.1 L231.5 1669.5 L231.8 1667.8 L232.0 1666.1 L232.3 1664.4 L232.7 1662.9 L233.1 1661.5 L233.6 1660.3 L234.2 1659.6 L235.6 1658.5 L237.3 1657.4 L239.2 1657.3 L240.6 1657.6 L242.1 1657.9 L243.7 1658.2 L245.4 1659.0 L247.1 1659.7 L248.9 1660.5 L250.7 1661.0 L252.1 1661.5 L253.5 1662.1 L255.0 1662.3 L256.4 1662.7 L257.9 1662.4 L259.5 1661.7 L261.0 1662.5 L262.6 1663.5 L264.1 1663.7 L265.7 1663.8 L267.3 1663.8 L268.8 1664.6 L270.3 1664.6 L271.8 1665.0 L273.4 1665.6 L274.9 1665.8 L276.5 1666.6 L278.1 1666.2 L279.6 1666.5 L281.2 1666.6 L282.8 1666.2 L284.4 1666.4 L285.9 1666.3 L287.5 1666.7 L290.5 1605.8 L290.6 1607.3 L290.8 1608.9 L290.9 1610.4 L291.0 1612.0 L291.2 1613.6 L291.3 1615.1 L291.4 1616.7 L291.5 1618.3 L291.6 1619.9 L291.8 1621.4 L291.9 1623.0 L292.0 1624.5 L292.1 1626.1 L292.3 1627.6 L292.4 1629.2 L292.6 1630.7 L292.8 1632.2 L292.9 1633.7 L293.1 1635.2 L293.3 1636.7 L293.6 1638.2 L293.8 1639.6 L294.1 1641.2 L294.3 1642.8 L294.6 1644.4 L294.9 1646.0 L295.2 1647.6 L295.4 1649.2 L295.7 1650.8 L296.0 1652.4 L296.4 1653.9 L296.7 1655.5 L297.1 1657.0 L297.5 1658.4 L297.9 1659.8 L298.3 1661.2 L298.8 1662.5 L299.3 1663.7 L299.8 1664.9 L300.4 1666.0 L301.3 1667.5 L302.1 1668.8 L303.0 1670.1 L303.9 1670.7 L304.9 1672.2 L306.0 1672.9 L307.3 1674.7 L308.7 1675.1 L310.3 1675.8 L311.2 1676.3 L312.3 1676.6 L313.3 1677.1 L314.5 1677.3 L315.7 1677.2 L317.0 1676.9 L318.3 1677.3 L319.7 1678.7 L321.1 1679.1 L322.5 1679.2 L324.0 1679.2 L325.6 1679.3 L327.1 1679.7 L328.7 1679.3 L330.4 1679.3 L332.0 1679.4 L333.6 1680.3 L335.3 1679.9 L337.0 1680.6 L338.7 1680.4 L340.4 1681.6 L342.1 1681.1 L343.7 1681.0 L345.4 1681.5 L347.1 1681.6 L348.7 1681.8 L350.4 1681.2 L352.0 1681.8 L353.5 1682.4 L355.1 1682.1 L356.6 1681.9 L359.3 1621.4 L359.4 1622.9 L359.5 1624.5 L359.6 1626.1 L359.7 1627.7 L359.8 1629.4 L359.9 1631.0 L360.0 1632.7 L360.0 1634.4 L360.1 1636.0 L360.2 1637.7 L360.3 1639.4 L360.3 1641.1 L360.4 1642.7 L360.5 1644.3 L360.6 1646.0 L360.7 1647.6 L360.8 1649.1 L360.9 1650.7 L361.1 1652.2 L361.2 1653.7 L361.3 1655.1 L361.5 1656.5 L361.7 1657.9 L361.9 1659.1 L362.1 1660.4 L362.3 1661.6 L362.6 1662.7 L363.0 1664.6 L363.5 1666.4 L363.9 1668.1 L364.3 1669.7 L364.8 1671.2 L365.4 1672.6 L366.2 1673.8 L367.1 1675.0 L368.2 1675.6 L369.2 1676.9 L370.4 1677.4 L371.6 1677.8 L373.0 1677.6 L374.5 1678.6 L376.0 1679.0 L377.6 1678.8 L379.3 1679.3 L381.0 1678.7 L382.7 1679.1 L384.5 1678.7 L386.2 1679.4 L388.0 1679.2 L389.7 1679.8 L391.0 1679.6 L392.4 1679.9 L393.8 1680.4 L395.3 1679.9 L396.7 1680.2 L398.2 1680.0 L399.7 1680.7 L401.2 1680.5 L402.7 1680.6 L404.2 1680.8 L405.8 1681.5 L407.4 1681.1 L408.9 1681.4 L410.5 1681.5 L412.1 1681.6 L413.6 1681.6 L415.2 1681.9 L416.8 1682.3 L418.3 1681.9 L419.9 1682.5 L421.4 1682.3 L423.0 1682.8 L424.5 1683.2 L427.1 1623.0 L427.2 1624.5 L427.4 1626.1 L427.5 1627.7 L427.6 1629.4 L427.7 1631.0 L427.8 1632.7 L427.9 1634.3 L428.0 1636.0 L428.1 1637.7 L428.2 1639.4 L428.3 1641.1 L428.4 1642.8 L428.5 1644.4 L428.6 1646.0 L428.7 1647.7 L428.9 1649.2 L429.0 1650.8 L429.2 1652.3 L429.3 1653.8 L429.5 1655.2 L429.7 1656.6 L430.0 1658.0 L430.2 1659.2 L430.5 1660.5 L430.8 1661.6 L431.1 1662.7 L431.8 1664.6 L432.4 1666.4 L433.2 1668.1 L434.0 1669.7 L434.8 1671.1 L435.7 1672.3 L436.7 1674.1 L437.7 1674.3 L439.2 1675.1 L440.8 1675.4 L442.7 1676.0 L445.0 1676.0 L445.9 1675.5 L446.9 1675.3 L447.9 1676.0 L449.1 1676.5 L450.3 1677.1 L451.5 1676.9 L452.8 1677.3 L454.2 1676.9 L455.6 1677.7 L457.1 1677.7 L458.6 1677.5 L460.2 1677.8 L461.8 1678.6 L463.4 1678.2 L465.1 1677.8 L466.8 1677.9 L468.5 1677.9 L470.2 1678.4 L471.9 1678.9 L473.7 1679.0 L475.4 1679.3 L477.1 1679.9 L478.9 1679.7 L480.6 1679.4 L482.3 1678.9 L484.0 1679.7 L485.6 1679.8 L487.3 1680.1 L488.9 1680.6 L490.5 1680.9 L492.0 1680.9 L495.3 1619.7 L495.4 1621.3 L495.5 1622.8 L495.6 1624.5 L495.6 1626.1 L495.7 1627.8 L495.8 1629.5 L495.8 1631.2 L495.9 1632.9 L495.9 1634.6 L496.0 1636.3 L496.1 1638.0 L496.1 1639.7 L496.2 1641.4 L496.3 1643.1 L496.3 1644.8 L496.4 1646.4 L496.5 1648.0 L496.6 1649.6 L496.7 1651.1 L496.8 1652.6 L496.9 1654.1 L497.0 1655.5 L497.1 1656.9 L497.2 1658.2 L497.4 1659.4 L497.5 1660.6 L497.7 1661.7 L497.9 1662.7 L498.3 1664.5 L498.7 1666.1 L499.2 1667.5 L499.7 1668.8 L500.2 1670.1 L500.7 1671.3 L501.2 1672.7 L501.8 1671.2 L502.4 1669.6 L503.0 1668.0 L503.5 1666.4 L504.1 1664.9 L504.8 1663.4 L505.5 1662.2 L506.2 1661.1 L507.6 1659.0 L509.2 1657.8 L511.1 1657.5 L512.2 1657.6 L513.5 1658.3 L515.0 1658.3 L516.5 1658.1 L518.1 1659.5 L519.7 1659.6 L521.3 1660.2 L522.9 1661.4 L524.5 1661.7 L526.0 1663.4 L527.5 1663.6 L528.9 1664.1 L530.4 1664.2 L531.8 1665.5 L533.2 1665.8 L534.7 1665.6 L536.1 1666.5 L537.7 1666.0 L539.3 1666.3 L540.7 1666.8 L542.2 1667.1 L543.7 1666.9 L545.2 1667.7 L546.7 1668.1 L548.3 1667.5 L549.9 1667.6 L551.5 1667.3 L553.1 1667.3 L554.7 1667.8 L556.3 1667.8 L557.9 1667.7 L559.5 1667.7 L562.4 1606.5 L562.5 1608.0 L562.6 1609.6 L562.8 1611.2 L562.9 1612.8 L563.0 1614.5 L563.1 1616.1 L563.2 1617.8 L563.3 1619.4 L563.4 1621.1 L563.5 1622.8 L563.6 1624.4 L563.7 1626.1 L563.9 1627.7 L564.0 1629.3 L564.1 1630.9 L564.2 1632.5 L564.3 1634.1 L564.5 1635.6 L564.6 1637.1 L564.7 1638.5 L564.9 1639.9 L565.0 1641.3 L565.2 1642.6 L565.3 1643.9 L565.5 1645.1 L565.7 1646.2 L566.0 1648.0 L566.3 1649.7 L566.6 1651.2 L567.0 1652.7 L567.3 1654.0 L567.7 1655.4 L568.1 1656.7 L568.6 1658.0 L569.1 1659.4 L569.7 1661.0 L570.4 1662.5 L571.1 1664.1 L571.8 1665.7 L572.6 1667.2 L573.6 1668.6 L574.6 1669.9 L575.7 1670.6 L576.8 1672.2 L578.0 1672.6 L579.3 1673.9 L580.7 1674.1 L582.1 1674.5 L583.7 1675.7 L585.3 1676.0 L587.1 1676.1 L588.9 1676.4 L590.1 1677.0 L591.3 1677.8 L592.6 1677.9 L593.9 1677.6 L595.3 1677.3 L596.7 1677.4 L598.2 1677.7 L599.7 1678.0 L601.2 1677.9 L602.8 1678.6 L604.4 1678.2 L606.1 1678.1 L607.7 1678.5 L609.4 1678.7 L611.1 1678.6 L612.7 1679.0 L614.4 1678.4 L616.1 1679.2 L617.8 1679.9 L619.4 1680.1 L621.1 1679.6 L622.7 1680.1 L624.4 1679.7 L625.9 1680.0 L627.5 1679.3 L630.9 1619.7 L631.0 1621.2 L631.1 1622.8 L631.2 1624.4 L631.2 1626.0 L631.3 1627.7 L631.4 1629.3 L631.4 1631.0 L631.5 1632.6 L631.6 1634.3 L631.6 1636.0 L631.7 1637.6 L631.8 1639.3 L631.8 1640.9 L631.9 1642.5 L632.0 1644.1 L632.1 1645.7 L632.2 1647.3 L632.3 1648.8 L632.4 1650.3 L632.5 1651.7 L632.6 1653.1 L632.8 1654.5 L633.0 1655.8 L633.2 1657.1 L633.4 1658.3 L633.6 1659.4 L634.0 1661.3 L634.4 1663.0 L634.7 1664.7 L635.1 1666.3 L635.6 1667.8 L636.2 1669.2 L636.8 1670.5 L637.6 1671.6 L638.5 1673.0 L639.5 1673.9 L640.6 1674.7 L641.8 1674.5 L643.1 1675.3 L644.5 1676.5 L646.0 1675.6 L647.8 1676.6 L649.7 1677.4 L651.8 1677.8 L652.6 1677.9 L653.4 1678.5 L654.3 1678.4 L655.2 1677.6 L656.2 1677.6 L657.2 1677.9 L658.3 1678.3 L659.3 1678.3 L660.4 1678.4 L661.6 1679.2 L662.8 1677.9 L664.0 1678.8 L665.3 1679.2 L666.5 1679.3 L667.8 1679.2 L669.2 1679.1 L670.6 1679.2 L672.0 1679.3 L673.4 1678.9 L674.8 1679.3 L676.3 1678.9 L677.8 1679.0 L679.3 1679.0 L680.9 1678.6 L682.4 1679.1 L684.0 1679.1 L685.6 1678.7 L687.2 1678.9 L688.8 1678.5 L690.5 1679.4 L692.1 1679.4 L693.8 1680.0 L695.5 1679.3 L697.2 1679.5 L698.9 1678.9 L700.6 1678.6 L702.4 1678.8 L704.1 1679.0 L705.8 1679.3 L707.6 1679.0 L709.3 1679.3 L711.1 1679.5 L712.8 1678.8 L714.6 1678.7 L716.3 1678.4 L718.1 1679.2 L719.8 1678.7 L721.6 1679.0 L723.3 1679.2 L725.1 1678.8 L726.8 1678.5 L728.5 1678.7 L730.2 1678.3 L731.9 1677.9 L733.6 1677.9 L735.3 1678.3 L737.0 1678.4 L738.7 1679.1 L740.3 1678.1 L741.9 1678.4 L743.6 1678.0 L745.2 1678.6 L746.7 1678.8 L748.3 1678.7 L749.8 1679.1 L751.4 1678.6 L752.9 1678.4 L754.3 1678.0 L755.8 1678.0 L757.2 1678.3 L758.6 1678.7 L760.0 1679.2 L761.6 1678.8 L763.3 1678.5 L764.9 1678.5 L766.5 1678.5 L768.1 1678.6 L769.7 1678.6 L771.3 1678.5 L772.9 1678.8 L774.5 1678.8 L776.1 1679.0 L777.6 1678.7 L779.2 1679.1 L780.7 1679.6 L782.3 1679.8 L783.8 1679.6 L785.3 1679.3 L786.8 1679.1 L788.4 1679.1 L789.9 1679.3 L791.4 1679.6 L792.9 1679.3 L794.4 1680.1 L795.9 1679.7 L797.3 1679.8 L798.8 1680.0 L800.3 1680.6 L801.8 1681.4 L803.3 1681.0 L804.7 1680.9 L806.2 1680.8 L807.7 1680.9 L809.1 1681.0 L810.6 1682.0 L812.0 1681.3 L813.5 1681.3 L815.0 1681.1 L816.4 1681.5 L817.9 1681.4 L819.3 1681.7 L820.8 1681.3 L822.2 1682.4 L823.7 1682.2 L825.1 1681.4 L826.6 1681.9 L828.1 1681.8 L829.5 1681.5 L831.0 1681.9 L832.4 1681.8 L833.9 1682.3 L835.4 1682.0 L837.0 1682.4 L838.5 1682.4 L840.0 1682.4 L841.6 1682.4 L843.1 1682.2 L844.6 1682.0 L846.1 1682.3 L847.7 1682.5 L849.2 1682.2 L850.7 1683.0 L852.2 1683.2 L853.7 1682.3 L855.2 1682.6 L856.7 1682.3 L858.2 1682.3 L859.7 1681.9 L861.2 1682.6 L862.7 1682.0 L864.2 1682.0 L865.7 1681.7 L867.2 1682.6 L868.7 1682.7 L870.2 1681.8 L871.7 1681.7 L873.1 1681.9 L874.6 1681.7 L876.1 1681.6 L877.6 1681.3 L879.1 1681.6 L880.6 1681.2 L882.1 1681.8 L883.6 1682.6 L885.1 1682.0 L886.5 1682.4 L888.0 1682.1 L889.5 1681.6 L891.0 1681.4 L892.5 1681.1 L894.0 1681.3 L895.5 1681.6 L897.0 1681.9 L898.5 1681.5 L900.0 1681.4 L902.0 1598.8 L902.1 1600.4 L902.3 1601.9 L902.4 1603.5 L902.5 1605.0 L902.6 1606.6 L902.8 1608.1 L902.9 1609.7 L903.0 1611.2 L903.2 1612.8 L903.3 1614.3 L903.4 1615.9 L903.5 1617.4 L903.7 1619.0 L903.8 1620.6 L903.9 1622.2 L904.0 1623.8 L904.2 1625.4 L904.3 1627.0 L904.4 1628.5 L904.5 1630.0 L904.6 1631.6 L904.8 1633.1 L904.9 1634.6 L905.0 1636.2 L905.1 1637.7 L905.2 1639.3 L905.3 1640.9 L905.4 1642.5 L905.6 1644.0 L905.7 1645.6 L905.8 1647.2 L905.9 1648.8 L906.0 1650.4 L906.1 1651.9 L906.2 1653.5 L906.4 1655.1 L906.5 1656.7 L906.6 1658.2 L906.7 1659.8 L908.1 1660.7 L909.6 1662.1 L911.4 1663.8 L912.6 1664.0 L914.0 1664.1 L915.5 1663.4 L917.1 1663.7 L918.7 1664.3 L920.4 1664.0 L922.1 1664.9 L923.8 1664.7 L925.4 1664.7 L927.0 1665.0 L928.6 1665.5 L930.2 1666.5 L931.7 1666.6 L933.3 1666.5 L934.9 1667.4 L936.5 1668.2 L938.0 1669.3 L939.5 1669.1 L941.0 1670.1 L942.5 1670.6 L944.0 1671.0 L945.4 1671.0 L946.9 1671.1 L948.3 1671.4 L949.8 1672.4 L951.3 1672.8 L952.9 1673.5 L954.5 1674.3 L956.1 1674.1 L957.7 1674.2 L959.3 1675.1 L961.0 1674.5 L962.6 1674.6 L964.2 1675.1" fill="none" stroke="#000" stroke-width="3.7" stroke-linejoin="round" stroke-linecap="round"/>
<path d="M138.2 1801.9 L139.7 1801.8 L141.3 1801.7 L142.8 1801.8 L144.4 1801.6 L145.9 1802.2 L147.4 1801.5 L149.0 1801.4 L150.5 1801.9 L153.8 1749.0 L153.9 1750.5 L154.1 1752.0 L154.2 1753.6 L154.3 1755.2 L154.4 1756.7 L154.5 1758.3 L154.6 1759.9 L154.7 1761.4 L154.8 1763.0 L155.0 1764.5 L155.1 1766.1 L155.2 1767.6 L155.4 1769.1 L155.5 1770.5 L155.7 1772.0 L155.9 1773.4 L156.2 1774.8 L156.4 1776.1 L156.7 1777.8 L157.0 1779.6 L157.3 1781.3 L157.7 1783.0 L158.0 1784.7 L158.4 1786.3 L158.8 1787.8 L159.3 1789.2 L159.9 1790.5 L160.6 1791.7 L161.4 1791.8 L162.5 1792.7 L163.6 1794.2 L164.9 1795.1 L166.2 1795.4 L167.7 1796.1 L169.4 1796.6 L171.3 1796.6 L172.3 1796.8 L173.3 1797.2 L174.5 1798.0 L175.6 1797.7 L176.9 1797.9 L178.2 1798.1 L179.5 1798.5 L180.9 1798.6 L182.4 1798.9 L183.9 1798.3 L185.4 1798.4 L187.0 1797.9 L188.6 1798.4 L190.2 1799.6 L191.8 1799.4 L193.5 1799.4 L195.2 1799.5 L196.9 1799.5 L198.6 1799.1 L200.3 1799.1 L202.0 1799.4 L203.7 1799.7 L205.4 1799.6 L207.1 1799.8 L208.8 1799.8 L210.5 1799.6 L212.2 1799.8 L213.8 1799.9 L215.4 1800.6 L217.0 1801.3 L218.5 1800.9 L221.6 1749.0 L221.7 1750.5 L221.9 1752.1 L222.0 1753.7 L222.1 1755.3 L222.2 1756.9 L222.3 1758.5 L222.4 1760.1 L222.5 1761.8 L222.6 1763.4 L222.7 1765.0 L222.8 1766.6 L223.0 1768.2 L223.1 1769.7 L223.2 1771.2 L223.4 1772.7 L223.5 1774.1 L223.7 1775.5 L223.9 1776.9 L224.1 1778.2 L224.3 1779.4 L224.7 1781.1 L225.1 1782.7 L225.5 1784.3 L225.9 1785.7 L226.4 1787.1 L226.8 1788.5 L227.3 1789.9 L227.8 1791.3 L228.2 1792.7 L228.4 1791.1 L228.7 1789.5 L228.9 1787.9 L229.2 1786.3 L229.4 1784.7 L229.6 1783.0 L229.8 1781.4 L230.1 1779.8 L230.3 1778.1 L230.5 1776.5 L230.8 1775.0 L231.0 1773.4 L231.3 1771.9 L231.6 1770.4 L231.9 1769.0 L232.2 1767.6 L232.5 1766.2 L232.9 1764.5 L233.3 1762.7 L233.7 1760.9 L234.2 1759.2 L234.6 1757.5 L235.1 1755.9 L235.6 1754.5 L236.2 1753.2 L236.8 1752.2 L237.5 1751.8 L239.1 1750.3 L240.8 1749.4 L242.5 1749.0 L243.5 1749.6 L244.4 1751.1 L245.3 1752.4 L246.2 1753.8 L247.1 1755.3 L248.1 1756.7 L249.1 1758.2 L250.2 1759.5 L251.3 1760.4 L252.5 1761.1 L253.6 1762.0 L254.9 1763.0 L256.1 1763.8 L257.4 1764.7 L258.7 1765.1 L260.0 1766.0 L261.3 1766.6 L262.7 1767.7 L264.2 1767.7 L265.7 1768.8 L267.3 1768.9 L268.6 1768.9 L270.0 1769.0 L271.4 1769.1 L272.9 1768.9 L274.5 1769.0 L276.0 1768.6 L277.6 1767.9 L279.2 1768.3 L280.8 1768.2 L282.4 1768.6 L284.0 1768.3 L285.5 1767.8 L288.8 1712.6 L288.9 1714.2 L289.0 1715.7 L289.2 1717.3 L289.3 1718.8 L289.4 1720.4 L289.5 1722.0 L289.6 1723.6 L289.7 1725.1 L289.9 1726.7 L290.0 1728.3 L290.1 1729.9 L290.2 1731.4 L290.3 1733.0 L290.4 1734.6 L290.5 1736.1 L290.7 1737.7 L290.8 1739.3 L290.9 1740.8 L291.0 1742.3 L291.2 1743.9 L291.3 1745.4 L291.5 1746.9 L291.6 1748.4 L291.8 1749.9 L291.9 1751.4 L292.1 1752.9 L292.3 1754.5 L292.4 1756.1 L292.6 1757.8 L292.8 1759.4 L292.9 1761.1 L293.1 1762.7 L293.2 1764.4 L293.4 1766.1 L293.5 1767.7 L293.7 1769.4 L293.8 1771.0 L294.0 1772.6 L294.2 1774.1 L294.5 1775.7 L294.7 1777.1 L295.0 1778.6 L295.2 1780.0 L295.6 1781.3 L295.9 1782.6 L296.3 1783.8 L296.7 1784.9 L297.1 1786.0 L297.9 1787.7 L298.6 1789.2 L299.4 1790.6 L300.2 1791.8 L301.2 1792.5 L302.4 1794.2 L303.7 1794.9 L305.3 1796.1 L306.2 1797.3 L307.2 1797.7 L308.2 1797.2 L309.3 1797.5 L310.5 1797.2 L311.8 1798.1 L313.1 1798.5 L314.5 1798.3 L315.9 1798.8 L317.4 1799.3 L319.0 1799.6 L320.5 1799.3 L322.1 1799.1 L323.8 1799.0 L325.5 1798.8 L327.2 1799.4 L328.9 1799.6 L330.6 1800.2 L332.4 1800.2 L334.1 1800.0 L335.9 1799.5 L337.7 1800.3 L339.4 1800.3 L341.2 1800.2 L342.9 1799.9 L344.6 1799.7 L346.4 1800.3 L348.0 1800.0 L349.7 1800.5 L351.3 1800.9 L352.9 1800.7 L354.5 1800.9 L357.6 1749.0 L357.8 1750.5 L357.9 1752.0 L358.1 1753.6 L358.2 1755.1 L358.4 1756.7 L358.5 1758.2 L358.7 1759.8 L358.8 1761.4 L359.0 1762.9 L359.1 1764.4 L359.3 1766.0 L359.4 1767.5 L359.6 1769.0 L359.8 1770.5 L360.0 1771.9 L360.2 1773.3 L360.4 1774.7 L360.6 1776.1 L360.9 1777.8 L361.1 1779.6 L361.3 1781.3 L361.5 1783.1 L361.7 1784.8 L361.9 1786.5 L362.2 1788.1 L362.6 1789.6 L363.0 1791.0 L363.5 1792.3 L364.1 1793.4 L364.9 1793.7 L366.1 1795.1 L367.5 1796.2 L369.0 1796.0 L370.6 1795.7 L372.4 1796.5 L374.4 1796.5 L376.5 1796.4 L377.6 1797.1 L378.7 1796.9 L379.9 1797.2 L381.1 1797.0 L382.4 1796.9 L383.7 1797.2 L385.1 1797.1 L386.6 1796.7 L388.0 1797.0 L389.6 1797.8 L391.1 1798.2 L392.7 1798.9 L394.3 1798.8 L395.9 1799.1 L397.6 1798.7 L399.3 1798.3 L400.9 1798.5 L402.6 1798.1 L404.3 1798.6 L406.0 1798.4 L407.7 1798.6 L409.4 1798.4 L411.1 1798.5 L412.8 1799.1 L414.5 1798.9 L416.1 1798.7 L417.8 1799.0 L419.4 1799.4 L421.0 1799.3 L422.5 1799.3 L425.5 1749.6 L425.7 1751.2 L425.8 1752.8 L426.0 1754.4 L426.1 1756.0 L426.3 1757.7 L426.4 1759.3 L426.5 1761.0 L426.7 1762.6 L426.8 1764.3 L426.9 1765.9 L427.1 1767.5 L427.2 1769.1 L427.4 1770.7 L427.6 1772.2 L427.8 1773.7 L428.0 1775.2 L428.3 1776.6 L428.5 1778.0 L428.8 1779.4 L429.2 1781.2 L429.5 1783.0 L429.9 1784.8 L430.3 1786.5 L430.7 1788.2 L431.1 1789.9 L431.6 1791.4 L432.2 1792.8 L432.8 1794.0 L433.5 1795.1 L434.4 1795.6 L435.6 1796.0 L436.8 1796.3 L438.2 1797.3 L439.7 1797.4 L441.3 1797.6 L443.0 1797.9 L445.0 1797.9 L446.0 1798.1 L447.1 1797.8 L448.2 1797.4 L449.4 1798.0 L450.7 1798.2 L452.0 1798.6 L453.4 1798.2 L454.8 1798.5 L456.2 1799.4 L457.7 1799.0 L459.2 1799.1 L460.8 1799.7 L462.3 1799.5 L463.9 1799.6 L465.5 1798.9 L467.2 1799.7 L468.8 1799.8 L470.5 1800.5 L472.2 1800.4 L473.8 1800.4 L475.5 1800.7 L477.2 1800.7 L478.8 1800.7 L480.5 1801.5 L482.1 1801.8 L483.8 1801.7 L485.4 1801.9 L486.9 1802.1 L488.5 1802.2 L490.0 1801.9 L492.9 1759.6 L493.1 1761.2 L493.2 1762.9 L493.4 1764.6 L493.5 1766.3 L493.7 1768.1 L493.8 1769.9 L493.9 1771.6 L494.0 1773.4 L494.2 1775.2 L494.3 1776.9 L494.5 1778.6 L494.6 1780.2 L494.8 1781.8 L495.0 1783.3 L495.2 1784.7 L495.5 1786.0 L495.7 1787.3 L496.0 1788.3 L496.3 1789.3 L497.3 1791.3 L498.5 1792.8 L499.6 1794.3 L500.0 1792.8 L500.4 1791.2 L500.8 1789.6 L501.2 1788.1 L501.6 1786.5 L502.0 1784.9 L502.4 1783.4 L502.8 1781.8 L503.2 1780.3 L503.6 1778.9 L504.0 1777.5 L504.5 1776.1 L505.1 1774.5 L505.6 1772.8 L506.2 1771.3 L506.7 1769.7 L507.3 1768.3 L508.0 1766.9 L508.7 1765.6 L509.5 1764.5 L510.7 1763.4 L512.0 1761.9 L513.3 1760.9 L514.7 1760.2 L516.1 1759.9 L517.4 1759.9 L518.7 1760.7 L520.0 1762.1 L521.3 1763.0 L522.7 1764.4 L523.8 1765.7 L525.0 1766.7 L526.2 1767.6 L527.4 1768.8 L528.7 1769.7 L530.0 1771.2 L531.3 1772.0 L532.7 1772.2 L534.0 1772.7 L535.4 1773.8 L536.9 1774.5 L538.4 1774.9 L539.9 1774.9 L541.4 1775.5 L543.0 1775.7 L544.4 1776.0 L545.9 1776.6 L547.6 1776.7 L549.3 1777.2 L550.9 1777.1 L552.6 1777.2 L554.2 1777.3 L555.8 1778.1 L557.5 1777.8 L560.8 1714.9 L560.9 1716.4 L561.0 1718.0 L561.2 1719.5 L561.3 1721.1 L561.4 1722.7 L561.5 1724.2 L561.6 1725.8 L561.8 1727.4 L561.9 1729.0 L562.0 1730.5 L562.1 1732.1 L562.2 1733.7 L562.4 1735.2 L562.5 1736.8 L562.6 1738.4 L562.7 1739.9 L562.8 1741.5 L563.0 1743.0 L563.1 1744.5 L563.2 1746.1 L563.3 1747.6 L563.4 1749.1 L563.6 1750.5 L563.7 1752.0 L563.8 1753.5 L564.0 1754.9 L564.1 1756.3 L564.3 1758.0 L564.4 1759.7 L564.5 1761.4 L564.7 1763.2 L564.8 1764.9 L564.9 1766.6 L565.0 1768.3 L565.1 1770.0 L565.3 1771.7 L565.4 1773.3 L565.6 1774.9 L565.7 1776.5 L565.9 1778.0 L566.1 1779.5 L566.3 1780.9 L566.5 1782.3 L566.8 1783.6 L567.1 1784.8 L567.4 1786.0 L567.9 1787.8 L568.4 1789.5 L569.0 1791.1 L569.6 1792.5 L570.3 1793.8 L571.3 1795.8 L572.4 1796.7 L573.4 1796.7 L574.6 1797.2 L575.9 1797.8 L577.3 1798.2 L578.8 1797.6 L580.3 1797.8 L581.9 1797.8 L583.6 1798.3 L585.3 1798.6 L587.1 1798.4 L588.9 1799.4 L590.1 1799.0 L591.4 1799.9 L592.8 1799.5 L594.2 1799.4 L595.6 1800.1 L597.0 1799.7 L598.5 1799.5 L600.0 1800.3 L601.6 1800.1 L603.1 1800.3 L604.7 1799.9 L606.3 1800.8 L607.9 1801.0 L609.5 1801.0 L611.1 1801.2 L612.8 1800.9 L614.4 1800.8 L616.0 1800.4 L617.6 1801.0 L619.2 1801.7 L620.8 1802.0 L622.4 1802.2 L624.0 1802.3 L625.5 1801.9 L628.6 1760.2 L628.8 1761.7 L629.0 1763.3 L629.1 1764.9 L629.3 1766.5 L629.4 1768.2 L629.6 1769.8 L629.7 1771.5 L629.8 1773.1 L630.0 1774.7 L630.2 1776.3 L630.3 1777.8 L630.5 1779.3 L630.8 1780.8 L631.0 1782.2 L631.3 1783.5 L631.6 1784.8 L631.9 1786.0 L632.4 1787.8 L632.9 1789.4 L633.3 1791.0 L633.9 1792.4 L634.6 1793.7 L635.6 1794.9 L636.9 1795.5 L637.8 1796.5 L638.7 1797.0 L639.8 1797.8 L641.0 1797.9 L642.3 1797.8 L643.7 1798.4 L645.2 1798.4 L646.7 1798.1 L648.3 1798.4 L649.9 1798.5 L651.6 1798.5 L653.3 1798.7 L655.1 1799.4 L656.8 1800.3 L658.6 1800.5 L660.3 1799.9 L662.0 1800.2 L663.8 1799.9 L665.4 1799.9 L667.1 1799.6 L668.6 1799.7 L670.2 1799.2 L671.6 1800.2 L673.2 1799.9 L674.8 1800.3 L676.4 1800.1 L677.9 1800.3 L679.5 1800.0 L681.0 1800.1 L682.5 1800.7 L683.9 1800.8 L685.4 1800.0 L686.9 1800.7 L688.4 1800.2 L690.0 1800.6 L691.5 1800.9 L693.1 1800.6 L694.7 1800.6 L696.4 1800.7 L698.1 1801.0 L699.5 1801.3 L700.9 1801.6 L702.4 1801.5 L703.9 1802.0 L705.5 1801.2 L707.1 1801.8 L708.7 1801.4 L710.3 1801.6 L711.9 1801.3 L713.6 1801.3 L715.2 1800.9 L716.9 1801.3 L718.6 1802.0 L720.2 1801.7 L721.9 1801.5 L723.6 1801.5 L725.2 1801.7 L726.8 1801.5 L728.4 1801.5 L730.0 1801.5 L731.5 1802.0 L733.0 1802.1 L734.5 1801.4 L736.0 1801.3 L737.4 1801.4 L738.7 1801.8 L740.0 1802.1 L741.8 1801.8 L743.5 1802.5 L745.1 1802.1 L746.7 1802.5 L748.2 1802.7 L749.7 1802.8 L751.2 1802.5 L752.6 1802.4 L754.1 1801.7 L755.5 1801.2 L757.0 1801.4 L758.5 1802.0 L760.0 1802.1 L763.5 1795.0 L764.6 1796.6 L765.7 1797.6 L767.0 1798.9 L768.3 1799.7 L769.8 1800.7 L771.4 1800.4 L773.2 1800.7 L775.2 1801.1 L776.4 1801.2 L777.6 1802.3 L779.0 1802.0 L780.4 1801.9 L781.9 1802.0 L783.4 1802.6 L785.0 1802.4 L786.6 1802.7 L788.3 1802.8 L789.9 1802.5 L791.6 1801.7 L793.3 1801.8 L795.0 1801.8 L796.7 1802.9 L798.4 1802.6 L800.0 1802.3 L801.5 1802.8 L803.0 1802.9 L804.5 1802.7 L806.0 1803.3 L807.5 1803.6 L809.0 1803.6 L810.6 1803.3 L812.1 1803.1 L813.7 1802.6 L815.2 1803.3 L816.8 1803.7 L818.3 1803.5 L819.9 1803.7 L821.5 1805.1 L823.0 1804.2 L824.6 1803.6 L826.1 1804.2 L827.7 1804.1 L829.2 1804.4 L831.5 1801.2 L833.0 1801.0 L834.5 1801.3 L836.0 1801.3 L837.4 1801.6 L838.9 1801.6 L840.4 1801.9 L841.8 1801.6 L843.3 1800.7 L844.7 1801.5 L846.2 1800.8 L847.7 1801.4 L849.2 1801.5 L850.7 1801.0 L852.2 1801.2 L853.7 1801.6 L855.3 1801.2 L856.8 1801.3 L858.4 1801.1 L860.0 1801.0 L861.4 1801.0 L862.9 1801.8 L864.4 1801.9 L865.8 1801.8 L867.3 1801.7 L868.8 1801.8 L870.4 1801.9 L871.9 1801.9 L873.4 1801.2 L875.0 1801.9 L876.5 1801.6 L878.1 1800.9 L879.7 1801.7 L881.2 1801.5 L882.8 1801.7 L884.4 1801.9 L886.0 1801.8 L887.6 1802.2 L889.1 1802.2 L890.7 1802.2 L892.3 1801.9 L893.8 1802.1 L895.4 1801.9 L897.0 1802.2 L898.5 1802.5 L900.8 1688.9 L900.8 1690.4 L900.9 1692.0 L900.9 1693.5 L901.0 1695.1 L901.0 1696.7 L901.0 1698.2 L901.1 1699.8 L901.1 1701.4 L901.2 1703.0 L901.2 1704.6 L901.2 1706.2 L901.3 1707.7 L901.3 1709.3 L901.3 1710.9 L901.4 1712.4 L901.4 1714.0 L901.5 1715.5 L901.5 1717.0 L901.6 1718.5 L901.6 1720.0 L901.7 1721.4 L901.8 1722.9 L901.8 1724.3 L901.9 1725.6 L902.0 1727.0 L902.1 1728.7 L902.2 1730.4 L902.3 1732.1 L902.4 1733.7 L902.6 1735.3 L902.7 1736.9 L902.8 1738.5 L903.0 1740.0 L903.1 1741.5 L903.3 1743.0 L903.4 1744.5 L903.6 1746.0 L903.8 1747.5 L904.1 1748.9 L904.3 1750.4 L904.6 1752.1 L904.9 1753.7 L905.2 1755.3 L905.5 1756.9 L905.8 1758.5 L906.2 1760.1 L906.6 1761.6 L907.0 1763.2 L907.4 1764.7 L907.9 1766.2 L908.4 1767.7 L909.0 1769.2 L909.6 1770.7 L910.3 1772.2 L910.9 1773.7 L911.7 1775.2 L912.4 1776.7 L913.2 1778.2 L914.0 1779.6 L914.9 1780.9 L915.7 1782.2 L916.6 1783.5 L917.5 1784.9 L918.4 1786.1 L919.6 1787.2 L920.8 1787.5 L922.1 1788.9 L923.4 1789.9 L924.8 1791.1 L926.3 1790.5 L927.8 1791.4 L929.1 1791.9 L930.4 1792.9 L931.9 1792.8 L933.3 1793.3 L934.8 1794.7 L936.4 1795.1 L937.9 1794.4 L939.5 1795.0 L941.1 1795.9 L942.6 1795.9 L944.2 1796.4 L945.7 1796.6 L947.2 1796.3 L948.8 1796.5 L950.4 1797.3 L951.9 1797.9 L953.5 1797.6 L955.1 1798.1 L956.7 1797.8 L958.3 1798.1 L959.8 1798.2 L961.4 1797.9 L963.0 1798.5" fill="none" stroke="#000" stroke-width="3.7" stroke-linejoin="round" stroke-linecap="round"/>
<rect x="225.0" y="88.6" width="50.5" height="1022.4" fill="rgb(245,80,15)" fill-opacity="0.2"/>
<rect x="366.8" y="88.6" width="48.5" height="1022.4" fill="rgb(45,150,75)" fill-opacity="0.2"/>
<rect x="502.5" y="88.6" width="50.5" height="1022.4" fill="rgb(40,155,225)" fill-opacity="0.2"/>
<rect x="228.7" y="1352" width="60.3" height="496.0" fill="rgb(245,80,15)" fill-opacity="0.2"/>
<rect x="364.7" y="1352" width="59.1" height="496.0" fill="rgb(250,225,80)" fill-opacity="0.2"/>
<rect x="499.2" y="1352" width="61.4" height="496.0" fill="rgb(245,80,15)" fill-opacity="0.2"/>
<line x1="149.0" y1="1100.5" x2="149.0" y2="1150.8" stroke="#444" stroke-width="1.8"/><path d="M149.0 1091.5 L154.6 1104.5 L149.0 1102.7 L143.4 1104.5 Z" fill="#0a0a0a"/>
<line x1="218.4" y1="1100.5" x2="218.4" y2="1150.8" stroke="#444" stroke-width="1.8"/><path d="M218.4 1091.5 L224.0 1104.5 L218.4 1102.7 L212.8 1104.5 Z" fill="#0a0a0a"/>
<line x1="288.4" y1="1100.5" x2="288.4" y2="1150.8" stroke="#444" stroke-width="1.8"/><path d="M288.4 1091.5 L294.0 1104.5 L288.4 1102.7 L282.8 1104.5 Z" fill="#0a0a0a"/>
<line x1="355.8" y1="1100.5" x2="355.8" y2="1150.8" stroke="#444" stroke-width="1.8"/><path d="M355.8 1091.5 L361.4 1104.5 L355.8 1102.7 L350.2 1104.5 Z" fill="#0a0a0a"/>
<line x1="424.9" y1="1100.5" x2="424.9" y2="1150.8" stroke="#444" stroke-width="1.8"/><path d="M424.9 1091.5 L430.5 1104.5 L424.9 1102.7 L419.3 1104.5 Z" fill="#0a0a0a"/>
<line x1="492.3" y1="1100.5" x2="492.3" y2="1150.8" stroke="#444" stroke-width="1.8"/><path d="M492.3 1091.5 L497.9 1104.5 L492.3 1102.7 L486.7 1104.5 Z" fill="#0a0a0a"/>
<line x1="558.0" y1="1100.5" x2="558.0" y2="1150.8" stroke="#444" stroke-width="1.8"/><path d="M558.0 1091.5 L563.6 1104.5 L558.0 1102.7 L552.4 1104.5 Z" fill="#0a0a0a"/>
<line x1="626.0" y1="1100.5" x2="626.0" y2="1150.8" stroke="#444" stroke-width="1.8"/><path d="M626.0 1091.5 L631.6 1104.5 L626.0 1102.7 L620.4 1104.5 Z" fill="#0a0a0a"/>
<line x1="696.1" y1="1100.5" x2="696.1" y2="1150.8" stroke="#444" stroke-width="1.8"/><path d="M696.1 1091.5 L701.7 1104.5 L696.1 1102.7 L690.5 1104.5 Z" fill="#0a0a0a"/>
<line x1="765.8" y1="1100.5" x2="765.8" y2="1150.8" stroke="#444" stroke-width="1.8"/><path d="M765.8 1091.5 L771.4 1104.5 L765.8 1102.7 L760.2 1104.5 Z" fill="#0a0a0a"/>
<line x1="837.2" y1="1100.5" x2="837.2" y2="1150.8" stroke="#444" stroke-width="1.8"/><path d="M837.2 1091.5 L842.8 1104.5 L837.2 1102.7 L831.6 1104.5 Z" fill="#0a0a0a"/>
<line x1="901.0" y1="1100.5" x2="901.0" y2="1150.8" stroke="#444" stroke-width="1.8"/><path d="M901.0 1091.5 L906.6 1104.5 L901.0 1102.7 L895.4 1104.5 Z" fill="#0a0a0a"/>
<line x1="149.0" y1="1827.2" x2="149.0" y2="1876.8" stroke="#444" stroke-width="1.8"/><path d="M149.0 1818.2 L154.6 1831.2 L149.0 1829.4 L143.4 1831.2 Z" fill="#0a0a0a"/>
<line x1="217.2" y1="1827.2" x2="217.2" y2="1876.8" stroke="#444" stroke-width="1.8"/><path d="M217.2 1818.2 L222.8 1831.2 L217.2 1829.4 L211.6 1831.2 Z" fill="#0a0a0a"/>
<line x1="289.6" y1="1827.2" x2="289.6" y2="1876.8" stroke="#444" stroke-width="1.8"/><path d="M289.6 1818.2 L295.2 1831.2 L289.6 1829.4 L284.0 1831.2 Z" fill="#0a0a0a"/>
<line x1="352.9" y1="1827.2" x2="352.9" y2="1876.8" stroke="#444" stroke-width="1.8"/><path d="M352.9 1818.2 L358.5 1831.2 L352.9 1829.4 L347.3 1831.2 Z" fill="#0a0a0a"/>
<line x1="424.0" y1="1827.2" x2="424.0" y2="1876.8" stroke="#444" stroke-width="1.8"/><path d="M424.0 1818.2 L429.6 1831.2 L424.0 1829.4 L418.4 1831.2 Z" fill="#0a0a0a"/>
<line x1="491.5" y1="1827.2" x2="491.5" y2="1876.8" stroke="#444" stroke-width="1.8"/><path d="M491.5 1818.2 L497.1 1831.2 L491.5 1829.4 L485.9 1831.2 Z" fill="#0a0a0a"/>
<line x1="559.6" y1="1827.2" x2="559.6" y2="1876.8" stroke="#444" stroke-width="1.8"/><path d="M559.6 1818.2 L565.2 1831.2 L559.6 1829.4 L554.0 1831.2 Z" fill="#0a0a0a"/>
<line x1="629.8" y1="1827.2" x2="629.8" y2="1876.8" stroke="#444" stroke-width="1.8"/><path d="M629.8 1818.2 L635.4 1831.2 L629.8 1829.4 L624.2 1831.2 Z" fill="#0a0a0a"/>
<line x1="697.6" y1="1827.2" x2="697.6" y2="1876.8" stroke="#444" stroke-width="1.8"/><path d="M697.6 1818.2 L703.2 1831.2 L697.6 1829.4 L692.0 1831.2 Z" fill="#0a0a0a"/>
<line x1="762.0" y1="1827.2" x2="762.0" y2="1876.8" stroke="#444" stroke-width="1.8"/><path d="M762.0 1818.2 L767.6 1831.2 L762.0 1829.4 L756.4 1831.2 Z" fill="#0a0a0a"/>
<line x1="830.6" y1="1827.2" x2="830.6" y2="1876.8" stroke="#444" stroke-width="1.8"/><path d="M830.6 1818.2 L836.2 1831.2 L830.6 1829.4 L825.0 1831.2 Z" fill="#0a0a0a"/>
<line x1="895.6" y1="1827.2" x2="895.6" y2="1876.8" stroke="#444" stroke-width="1.8"/><path d="M895.6 1818.2 L901.2 1831.2 L895.6 1829.4 L890.0 1831.2 Z" fill="#0a0a0a"/>
<text x="0.0" y="0.0" font-size="70" text-anchor="start" font-weight="bold" fill="#0a0a0a" transform="translate(4.6 50) scale(1.045 1)">A</text>
<text x="-1.5" y="1333.0" font-size="70" text-anchor="start" font-weight="bold" fill="#0a0a0a" >B</text>
<text x="251.5" y="66.3" font-size="34.5" text-anchor="middle" font-weight="normal" fill="#151515" >RIIIJ</text>
<text x="391.8" y="66.3" font-size="34.5" text-anchor="middle" font-weight="normal" fill="#151515" >TEA</text>
<text x="524.4" y="66.3" font-size="34.5" text-anchor="middle" font-weight="normal" fill="#151515" >4-AP</text>
<text x="259.9" y="1334.3" font-size="34.5" text-anchor="middle" font-weight="normal" fill="#151515" >RIIIJ</text>
<text x="394.9" y="1293.3" font-size="34.5" text-anchor="middle" font-weight="normal" fill="#151515" >RIIIJ</text>
<text x="394.4" y="1335.2" font-size="34.5" text-anchor="middle" font-weight="normal" fill="#151515" >+TTX</text>
<text x="531.4" y="1334.3" font-size="34.5" text-anchor="middle" font-weight="normal" fill="#151515" >RIIIJ</text>
<text x="140.5" y="1181.0" font-size="34.5" fill="#151515">K<tspan font-size="18.975" dy="-11.4">+</tspan></text>
<text x="210.0" y="1181.0" font-size="34.5" fill="#151515">K<tspan font-size="18.975" dy="-11.4">+</tspan></text>
<text x="280.0" y="1181.0" font-size="34.5" fill="#151515">K<tspan font-size="18.975" dy="-11.4">+</tspan></text>
<text x="346.5" y="1181.0" font-size="34.5" fill="#151515">K<tspan font-size="18.975" dy="-11.4">+</tspan></text>
<text x="416.0" y="1181.0" font-size="34.5" fill="#151515">K<tspan font-size="18.975" dy="-11.4">+</tspan></text>
<text x="483.0" y="1181.0" font-size="34.5" fill="#151515">K<tspan font-size="18.975" dy="-11.4">+</tspan></text>
<text x="549.5" y="1181.0" font-size="34.5" fill="#151515">K<tspan font-size="18.975" dy="-11.4">+</tspan></text>
<text x="616.5" y="1181.0" font-size="34.5" fill="#151515">K<tspan font-size="18.975" dy="-11.4">+</tspan></text>
<text x="140.5" y="1909.5" font-size="34.5" fill="#151515">K<tspan font-size="18.975" dy="-11.4">+</tspan></text>
<text x="209.0" y="1909.5" font-size="34.5" fill="#151515">K<tspan font-size="18.975" dy="-11.4">+</tspan></text>
<text x="281.0" y="1909.5" font-size="34.5" fill="#151515">K<tspan font-size="18.975" dy="-11.4">+</tspan></text>
<text x="344.5" y="1909.5" font-size="34.5" fill="#151515">K<tspan font-size="18.975" dy="-11.4">+</tspan></text>
<text x="415.0" y="1909.5" font-size="34.5" fill="#151515">K<tspan font-size="18.975" dy="-11.4">+</tspan></text>
<text x="483.0" y="1909.5" font-size="34.5" fill="#151515">K<tspan font-size="18.975" dy="-11.4">+</tspan></text>
<text x="549.5" y="1909.5" font-size="34.5" fill="#151515">K<tspan font-size="18.975" dy="-11.4">+</tspan></text>
<text x="619.0" y="1909.5" font-size="34.5" fill="#151515">K<tspan font-size="18.975" dy="-11.4">+</tspan></text>
<text x="0" y="0" font-size="34.5" fill="#151515" transform="translate(665.5 1205.0) rotate(-31)">AITC</text>
<text x="0" y="0" font-size="34.5" fill="#151515" transform="translate(687.5 1240.5) rotate(-31)">Menthol</text>
<text x="0" y="0" font-size="34.5" fill="#151515" transform="translate(755.0 1243.0) rotate(-31)">Capsaicin</text>
<text x="0" y="0" font-size="34.5" fill="#151515" transform="translate(844.0 1235.0) rotate(-31)">40 mM K<tspan font-size="17.25" dy="-13.1">+</tspan></text>
<text x="0" y="0" font-size="34.5" fill="#151515" transform="translate(667.0 1933.0) rotate(-31)">AITC</text>
<text x="0" y="0" font-size="34.5" fill="#151515" transform="translate(714.5 1946.5) rotate(-31)">Menthol</text>
<text x="0" y="0" font-size="34.5" fill="#151515" transform="translate(755.0 1962.5) rotate(-30.4)">Capsaicin</text>
<text x="0" y="0" font-size="34.5" fill="#151515" transform="translate(836.0 1959.0) rotate(-31)">40 mM K<tspan font-size="17.25" dy="-13.1">+</tspan></text>
<path d="M35.2 240.8 L35.2 274.8 L86.1 274.8" fill="none" stroke="#3c3c3c" stroke-width="2.2"/>
<text x="0" y="0" font-size="33.5" fill="#151515" transform="translate(27.2 267.3) rotate(-90)">&#916;F/F</text>
<text x="34.5" y="309.0" font-size="34.5" text-anchor="start" font-weight="normal" fill="#151515" >5 min.</text></g></svg>
</body></html>
